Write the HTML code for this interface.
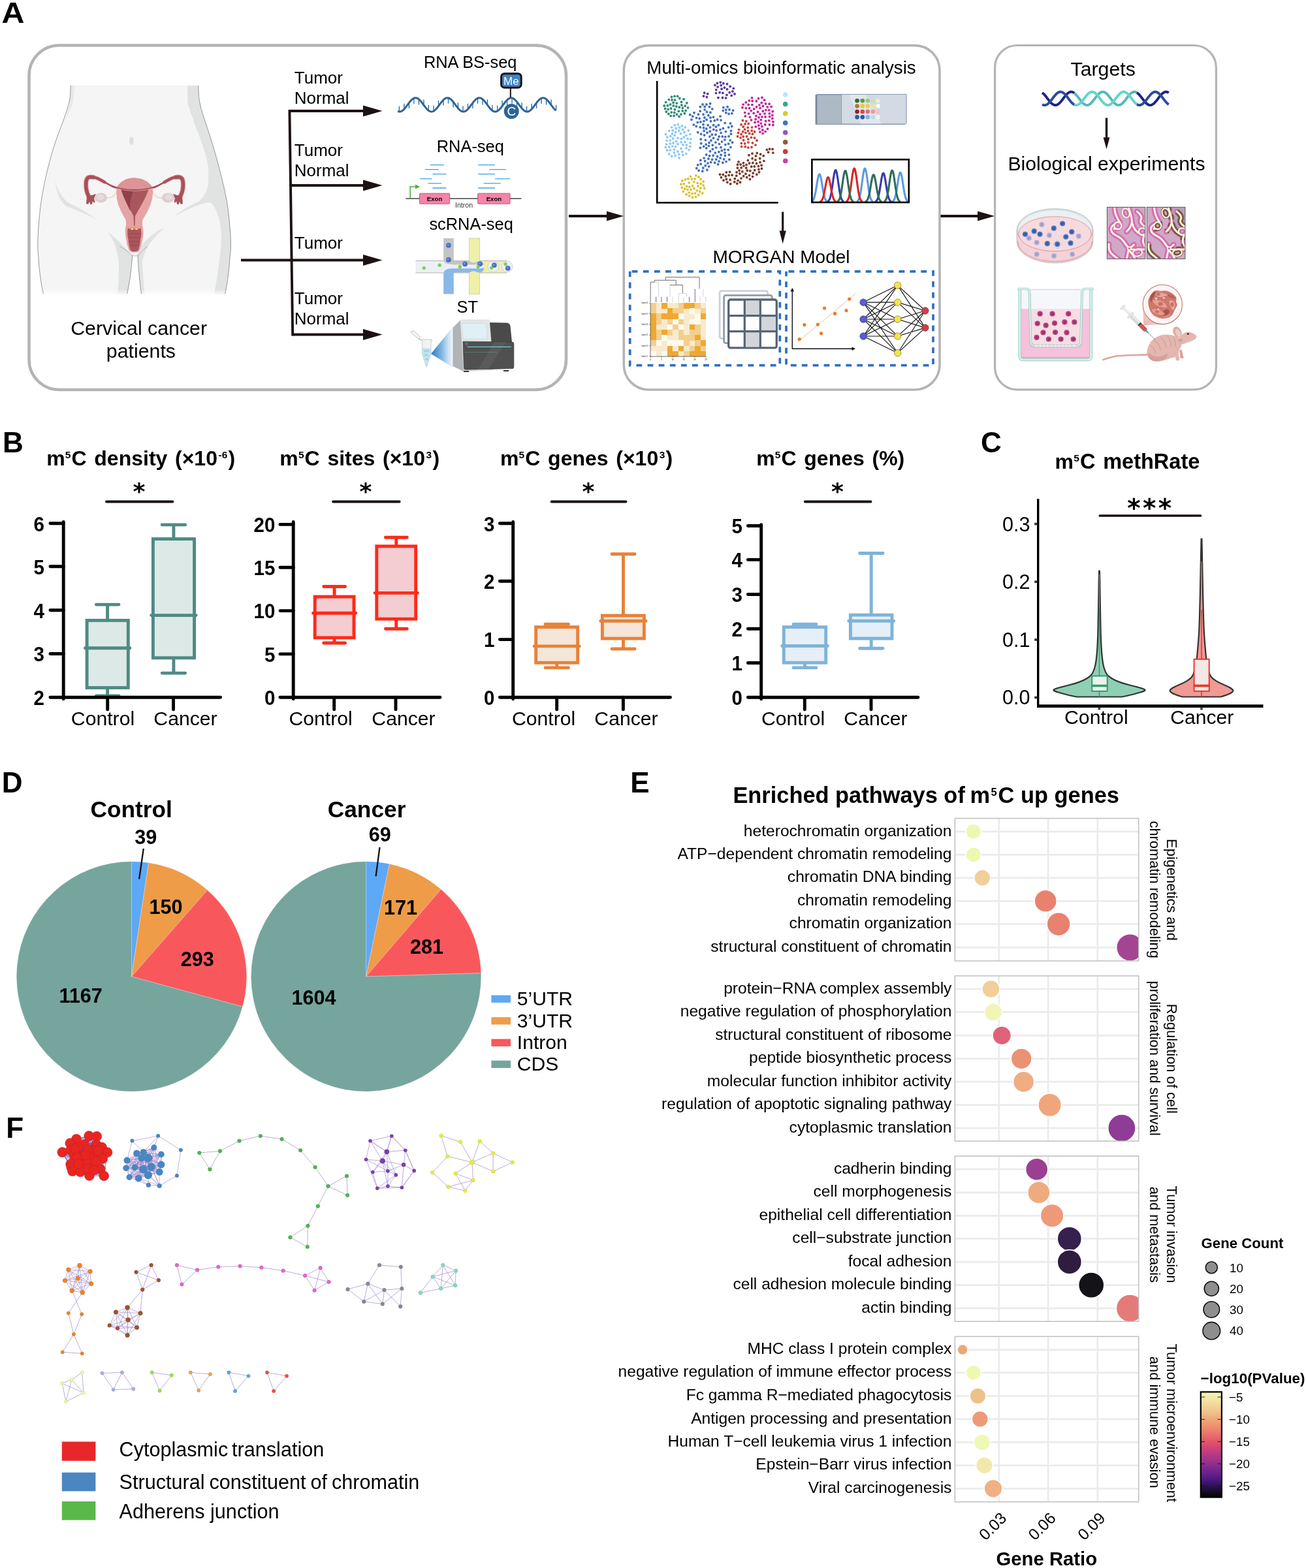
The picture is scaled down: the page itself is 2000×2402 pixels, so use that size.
<!DOCTYPE html>
<html lang="en">
<head>
<meta charset="utf-8">
<title>Figure</title>
<style>
html,body{margin:0;padding:0;background:#fff;}
body{width:2000px;height:2402px;overflow:hidden;}
svg{display:block;font-family:"Liberation Sans",sans-serif;}
text{fill:#000;}
.b{font-weight:bold;}
</style>
</head>
<body>
<svg width="2000" height="2402" viewBox="0 0 2000 2402">
<rect width="2000" height="2402" fill="#ffffff"/>
<!-- 01_panelA_frame.svg -->
<g id="panelA-frame">
<text transform="translate(2.4 35) scale(1.1 1)" class="b" font-size="44">A</text>
<rect x="44.5" y="69.5" width="822.5" height="527.5" rx="46" ry="46" fill="#fff" stroke="#b4b4b4" stroke-width="4.5"/>
<rect x="955.3" y="69.6" width="483.7" height="527.4" rx="38" ry="38" fill="#fff" stroke="#b4b4b4" stroke-width="3.6"/>
<rect x="1523.6" y="69.5" width="338.8" height="527.3" rx="34" ry="34" fill="#fff" stroke="#b4b4b4" stroke-width="3.2"/>
<g stroke="#1d1212" stroke-width="3.9" fill="none" stroke-linecap="butt">
<path d="M369 398.5H560"/>
<path d="M443 170H560"/>
<path d="M445 284H560"/>
<path d="M448 512.5H560"/>
<path d="M443.4 168.3L448.2 514.4"/>
<path d="M871 331H935"/>
<path d="M1440.5 331H1502"/>
</g>
<g fill="#1d1212">
<path d="M556 161.5L585.5 170L556 178.5Z"/>
<path d="M556 275.5L585.5 284L556 292.5Z"/>
<path d="M556 390L585.5 398.5L556 407Z"/>
<path d="M556 504L585.5 512.5L556 521Z"/>
<path d="M929 323.5L955 331L929 338.5Z"/>
<path d="M1497 323.5L1523 331L1497 338.5Z"/>
</g>
<g font-size="26">
<text x="450.8" y="127.5">Tumor</text>
<text x="450.8" y="158.5">Normal</text>
<text x="450.8" y="239">Tumor</text>
<text x="450.8" y="270.3">Normal</text>
<text x="450.8" y="380.5">Tumor</text>
<text x="450.8" y="465.5">Tumor</text>
<text x="450.8" y="497">Normal</text>
</g>
<g font-size="25.4">
<text x="720.2" y="104.2" text-anchor="middle">RNA BS-seq</text>
<text x="720.3" y="232.8" text-anchor="middle">RNA-seq</text>
<text x="721.6" y="352.3" text-anchor="middle">scRNA-seq</text>
<text x="715.8" y="479.3" text-anchor="middle">ST</text>
</g>
<text x="212.6" y="513" font-size="30.3" text-anchor="middle">Cervical cancer</text>
<text x="215.9" y="548" font-size="30.3" text-anchor="middle">patients</text>
<text x="1196.5" y="113" font-size="27.7" text-anchor="middle">Multi-omics bioinformatic analysis</text>
<text x="1196.5" y="402.5" font-size="28" text-anchor="middle">MORGAN Model</text>
<text x="1689.2" y="116" font-size="30.3" text-anchor="middle">Targets</text>
<text x="1694.5" y="261" font-size="30.2" text-anchor="middle">Biological experiments</text>
</g>

<!-- 02_body.svg -->
<g id="body">
<defs>
<linearGradient id="bodyFade" x1="0" y1="0" x2="0" y2="1">
<stop offset="0" stop-color="#fff" stop-opacity="0"/>
<stop offset="1" stop-color="#fff" stop-opacity="1"/>
</linearGradient>
<clipPath id="bodyClip">
<path d="M108.3 131C108 140 107.5 146 107 152C104 165 100 176 96.6 186C89 205 83 222 77.7 240.7C72 262 68 280 64.5 299C61 320 59 343 58 365C57.5 375 58 385 58.9 393.6C60 415 63 435 66.4 452L194.7 452C198 435 201 415 202 400C202.5 395 203 393 205 391.7L208.9 391.7C210.5 393 211 395 211.5 400C212.5 415 214 435 216.4 452L344.7 452C348 435 351 415 352 393.6C353.5 385 353.5 375 353.2 365C352 343 350 325 347.5 308.7C344 290 339 270 334.3 252C329 232 323 213 317.4 195.5C312 180 307 165 305 152C304.3 146 304 140 303.8 131Z"/>
</clipPath>
</defs>
<path d="M108.3 131C108 140 107.5 146 107 152C104 165 100 176 96.6 186C89 205 83 222 77.7 240.7C72 262 68 280 64.5 299C61 320 59 343 58 365C57.5 375 58 385 58.9 393.6C60 415 63 435 66.4 452L194.7 452C198 435 201 415 202 400C202.5 395 203 393 205 391.7L208.9 391.7C210.5 393 211 395 211.5 400C212.5 415 214 435 216.4 452L344.7 452C348 435 351 415 352 393.6C353.5 385 353.5 375 353.2 365C352 343 350 325 347.5 308.7C344 290 339 270 334.3 252C329 232 323 213 317.4 195.5C312 180 307 165 305 152C304.3 146 304 140 303.8 131Z" fill="#f5f5f5"/>
<g clip-path="url(#bodyClip)">
<!-- right side shading -->
<path d="M287 131L287 157C291 170 296 183 300 195.5C306 210 310 222 313.6 233C317 245 319 254 319 261.5C319.5 273 319 282 317 290C314 299 309 305 304 309C290 314 276 324 264.5 333.5C276 326 290 319 304 314C312 311 318 310 323 310.5C330 318 334 328 336 337C338 347 339 356 339 365C338.5 382 336 398 334 412.5C332 428 330 440 327.7 452L360 452L360 131Z" fill="#e1e3e3"/>
<!-- left hip crease -->
<path d="M84.3 276.6C88 292 95 302 102.3 308.7C118 317 136 326 148.5 337C136 329 118 322 101 316C91 308 86 293 84.3 276.6Z" fill="#e1e3e3"/>
<!-- left inner thigh shade -->
<path d="M165.4 355.4C170 359 176 364 181 369C187 375 194 382 201 389.500L203 392L196 452L179.600 452C181.500 436 182.500 418 181.700 400C180.500 388 176 374 170.800 364.100C169 361 167 358 165.400 355.400Z" fill="#e1e3e3"/>
<!-- right inner thigh shade -->
<path d="M252.300 348.900C240 353 229 362 221 371C216 377 213 383 210 389.500L211.500 400C213 420 214.500 436 216.400 452L222 452C220 436 218.500 418 218 402C219 392 223 383 229 374C235 365 243 356 252.300 348.900Z" fill="#e1e3e3"/>
<path d="M108.3 131L114 131C113.5 142 113 152 111 160C108 168 104 176 100 184C104 172 106 160 107 152Z" fill="#e8e9e9"/>
<rect x="50" y="443" width="310" height="10" fill="url(#bodyFade)"/>
</g>
<path d="M108.3 131C108 140 107.5 146 107 152C104 165 100 176 96.6 186C89 205 83 222 77.7 240.7C72 262 68 280 64.5 299C61 320 59 343 58 365C57.5 375 58 385 58.9 393.6C60 415 63 435 66.4 450" fill="none" stroke="#6f6f6f" stroke-width="0.7"/>
<path d="M303.8 131C304 140 304.3 146 305 152C307 165 312 180 317.4 195.5C323 213 329 232 334.3 252C339 270 344 290 347.5 308.7C350 325 352 343 353.2 365C353.5 375 353.5 385 352 393.6C351 415 348 435 344.7 450" fill="none" stroke="#6f6f6f" stroke-width="0.7"/>
<path d="M194.7 450C198 435 201 415 202 400C202.3 396 202.5 394 203 391.5M211 391.5C211.3 394 211.4 396 211.5 400C212.5 415 214 435 216.4 450" fill="none" stroke="#6f6f6f" stroke-width="0.7"/>
<path d="M183 377C190 381 196 385 201 390.5C204 392.5 210 392.5 213 390.5C217 385 221 381 226 377" fill="none" stroke="#8a8a8a" stroke-width="0.6"/>
<ellipse cx="201.3" cy="215.7" rx="3.4" ry="6.4" fill="#dedede"/>
<!-- uterus -->
<g>
<!-- ligaments -->
<path d="M164 303C170 304 176 300 179 293" fill="none" stroke="#ecd9c0" stroke-width="1.6"/>
<path d="M248 303C242 304 236 300 233 293" fill="none" stroke="#ecd9c0" stroke-width="1.6"/>
<!-- tubes -->
<path d="M143.0 271.5Q137.0 270.5 134.8 272.2Q132.5 274.0 132.0 277.5Q131.5 281.0 131.7 284.5Q131.8 288.0 132.7 292.0Q133.5 296.0 135.5 300.0L137.5 304.0" fill="none" stroke="#dc9396" stroke-width="7.2" stroke-linecap="round"/>
<path d="M160.0 279.0Q154.0 275.5 151.0 274.0Q148.0 272.5 145.5 272.0L143.0 271.5" fill="none" stroke="#dc9396" stroke-width="5.4" stroke-linecap="round"/>
<path d="M186.0 289.5Q176.0 287.5 172.0 285.5Q168.0 283.5 164.0 281.2L160.0 279.0" fill="none" stroke="#a8505a" stroke-width="2.6" stroke-linecap="round"/>
<path d="M160.0 279.0Q154.0 275.5 151.0 274.0Q148.0 272.5 145.5 272.0L143.0 271.5" fill="none" stroke="#a8505a" stroke-width="3.8" stroke-linecap="round"/>
<path d="M143.0 271.5Q137.0 270.5 134.8 272.2Q132.5 274.0 132.0 277.5Q131.5 281.0 131.7 284.5Q131.8 288.0 132.7 292.0Q133.5 296.0 135.5 300.0L137.5 304.0" fill="none" stroke="#a8505a" stroke-width="5.2" stroke-linecap="round"/>
<path d="M269.0 271.5Q275.0 270.5 277.2 272.2Q279.5 274.0 280.0 277.5Q280.5 281.0 280.4 284.5Q280.2 288.0 279.4 292.0Q278.5 296.0 276.5 300.0L274.5 304.0" fill="none" stroke="#dc9396" stroke-width="7.2" stroke-linecap="round"/>
<path d="M252.0 279.0Q258.0 275.5 261.0 274.0Q264.0 272.5 266.5 272.0L269.0 271.5" fill="none" stroke="#dc9396" stroke-width="5.4" stroke-linecap="round"/>
<path d="M226.0 289.5Q236.0 287.5 240.0 285.5Q244.0 283.5 248.0 281.2L252.0 279.0" fill="none" stroke="#a8505a" stroke-width="2.6" stroke-linecap="round"/>
<path d="M252.0 279.0Q258.0 275.5 261.0 274.0Q264.0 272.5 266.5 272.0L269.0 271.5" fill="none" stroke="#a8505a" stroke-width="3.8" stroke-linecap="round"/>
<path d="M269.0 271.5Q275.0 270.5 277.2 272.2Q279.5 274.0 280.0 277.5Q280.5 281.0 280.4 284.5Q280.2 288.0 279.4 292.0Q278.5 296.0 276.5 300.0L274.5 304.0" fill="none" stroke="#a8505a" stroke-width="5.2" stroke-linecap="round"/>
<!-- fimbriae -->
<path d="M133 300L132 312L135 313L137 309L138.5 313.500L141 312.500L142 308L144 311L145.5 309L144 304L147 297L141 299Z" fill="#a8505a"/>
<path d="M279 300L280 312L277 313L275 309L273.500 313.500L271 312.500L270 308L268 311L266.500 309L268 304L265 297L271 299Z" fill="#a8505a"/>
<!-- ovaries -->
<ellipse cx="154.500" cy="303" rx="9.6" ry="7.6" fill="#ddcdd1"/>
<ellipse cx="153.500" cy="302" rx="6" ry="4.500" fill="#e6dadd"/>
<ellipse cx="257.500" cy="303" rx="9.6" ry="7.6" fill="#ddcdd1"/>
<ellipse cx="258.500" cy="302" rx="6" ry="4.500" fill="#e6dadd"/>
<!-- uterus outer -->
<path d="M178.500 288C184 277 195 272.500 205 272.500C216 272.500 228 277 234 288C235 300 232 310 228.500 318C225 326 221 332 218.500 337C217.500 342 218 346 219 350C220 356 219.500 362 218 368C217 375 215 381 213 384.500C210 387.500 202 387.500 198.500 384.500C196 381 194.500 375 193.500 368C192 362 191.500 356 192 350C193 346 193.500 342 192.500 337C190 332 186 326 183 318C179.500 310 177.500 300 178.500 288Z" fill="#e5a3a3"/>
<path d="M178.500 288C184 277 195 272.500 205 272.500C216 272.500 228 277 234 288C216 292.500 196 292.500 178.500 288Z" fill="#dd9496"/>
<path d="M170 284C182 289.500 194 291 206 291C218 291 230 289.500 242 284" fill="none" stroke="#a8505a" stroke-width="1.8"/>
<!-- cavity -->
<path d="M185.500 290.500C198 293.500 214 293.500 227.500 290.500C223 304 214 318 207 331L206.500 346L205 346L204.500 331C198 318 190 304 185.500 290.500Z" fill="#a9565c"/>
<path d="M185.500 290.500C192 292.500 198 293 204 293C200 303 198 314 200 324C195 314 189 302 185.500 290.500Z" fill="#91404a"/>
<!-- vagina -->
<path d="M196 349C198 352 213 352 215.500 349C217 355 216.500 361 215 367C214.500 374 213 380 211.500 383.500C209 385.500 202.500 385.500 200 383.500C198.500 380 197 374 196.500 367C195 361 194.500 355 196 349Z" fill="#a9565c"/>
<path d="M197 358H215M197 364H214.500M197.500 370H214M198.500 376H213" stroke="#8f4048" stroke-width="0.7" fill="none"/>
<ellipse cx="202.300" cy="350.600" rx="2.600" ry="1.800" fill="#f4e6b0" stroke="#e0403a" stroke-width="0.8"/>
<ellipse cx="209" cy="350.600" rx="2.600" ry="1.800" fill="#f4e6b0" stroke="#e0403a" stroke-width="0.8"/>
</g>
</g>

<!-- 03_seqicons.svg -->
<g id="seq-icons">
<path d="M611.4 171.1V162.6M618.9 167.2V158.7M626.4 157.5V166.0M633.9 150.4V158.9M641.4 152.0V160.5M648.9 161.0V152.5M656.4 169.5V161.0M664.0 170.2V161.7M671.5 162.6V154.1M679.0 153.1V161.6M686.5 150.0V158.5M694.0 156.0V164.5M701.5 165.8V157.3M709.0 171.1V162.6M716.5 167.2V158.7M724.0 157.5V166.0M731.5 150.4V158.9M739.0 152.0V160.5M746.5 161.0V152.5M754.0 169.5V161.0M761.6 170.2V161.7M769.1 162.6V154.1M776.6 153.1V161.6M784.1 150.0V158.5M791.6 156.0V164.5M799.1 165.8V157.3M806.6 171.1V162.6M814.1 167.2V158.7M821.6 157.5V166.0M829.1 150.4V158.9M836.6 152.0V160.5M844.1 161.0V152.5M851.6 169.5V161.0" fill="none" stroke="#2b6597" stroke-width="1.3"/>
<path d="M609.2 170.4 L610.2 170.8 L611.2 171.0 L612.2 171.1 L613.2 171.0 L614.2 170.7 L615.2 170.2 L616.2 169.6 L617.2 168.8 L618.2 167.9 L619.2 166.9 L620.2 165.7 L621.2 164.5 L622.2 163.2 L623.2 161.9 L624.2 160.5 L625.2 159.1 L626.2 157.8 L627.2 156.5 L628.2 155.3 L629.2 154.1 L630.2 153.1 L631.2 152.2 L632.2 151.4 L633.2 150.8 L634.2 150.3 L635.2 150.0 L636.2 149.9 L637.2 150.0 L638.2 150.2 L639.2 150.6 L640.2 151.1 L641.2 151.9 L642.2 152.7 L643.2 153.7 L644.2 154.8 L645.2 156.0 L646.2 157.3 L647.2 158.6 L648.2 160.0 L649.2 161.3 L650.2 162.7 L651.2 164.0 L652.2 165.2 L653.2 166.4 L654.2 167.5 L655.2 168.5 L656.2 169.3 L657.2 170.0 L658.2 170.5 L659.2 170.9 L660.2 171.1 L661.2 171.1 L662.2 170.9 L663.2 170.6 L664.2 170.1 L665.2 169.4 L666.2 168.6 L667.2 167.7 L668.2 166.6 L669.2 165.5 L670.2 164.2 L671.2 162.9 L672.2 161.6 L673.2 160.2 L674.2 158.9 L675.2 157.5 L676.2 156.3 L677.2 155.0 L678.2 153.9 L679.2 152.9 L680.2 152.0 L681.2 151.3 L682.2 150.7 L683.2 150.2 L684.2 150.0 L685.2 149.9 L686.2 150.0 L687.2 150.2 L688.2 150.7 L689.2 151.3 L690.2 152.0 L691.2 152.9 L692.2 153.9 L693.2 155.0 L694.2 156.3 L695.2 157.5 L696.2 158.9 L697.2 160.2 L698.2 161.6 L699.2 162.9 L700.2 164.2 L701.2 165.5 L702.2 166.6 L703.2 167.7 L704.2 168.6 L705.2 169.4 L706.2 170.1 L707.2 170.6 L708.2 170.9 L709.2 171.1 L710.2 171.1 L711.2 170.9 L712.2 170.5 L713.2 170.0 L714.2 169.3 L715.2 168.5 L716.2 167.5 L717.2 166.4 L718.2 165.2 L719.2 164.0 L720.2 162.7 L721.2 161.3 L722.2 160.0 L723.2 158.6 L724.2 157.3 L725.2 156.0 L726.2 154.8 L727.2 153.7 L728.2 152.7 L729.2 151.9 L730.2 151.1 L731.2 150.6 L732.2 150.2 L733.2 150.0 L734.2 149.9 L735.2 150.0 L736.2 150.3 L737.2 150.8 L738.2 151.4 L739.2 152.2 L740.2 153.1 L741.2 154.1 L742.2 155.3 L743.2 156.5 L744.2 157.8 L745.2 159.1 L746.2 160.5 L747.2 161.9 L748.2 163.2 L749.2 164.5 L750.2 165.7 L751.2 166.9 L752.2 167.9 L753.2 168.8 L754.2 169.6 L755.2 170.2 L756.2 170.7 L757.2 171.0 L758.2 171.1 L759.2 171.0 L760.2 170.8 L761.2 170.4 L762.2 169.9 L763.2 169.1 L764.2 168.3 L765.2 167.3 L766.2 166.2 L767.2 165.0 L768.2 163.7 L769.2 162.4 L770.2 161.0 L771.2 159.7 L772.2 158.3 L773.2 157.0 L774.2 155.8 L775.2 154.6 L776.2 153.5 L777.2 152.5 L778.2 151.7 L779.2 151.0 L780.2 150.5 L781.2 150.1 L782.2 149.9 L783.2 149.9 L784.2 150.1 L785.2 150.4 L786.2 150.9 L787.2 151.6 L788.2 152.4 L789.2 153.3 L790.2 154.4 L791.2 155.5 L792.2 156.8 L793.2 158.1 L794.2 159.4 L795.2 160.8 L796.2 162.1 L797.2 163.5 L798.2 164.7 L799.2 166.0 L800.2 167.1 L801.2 168.1 L802.2 169.0 L803.2 169.7 L804.2 170.3 L805.2 170.8 L806.2 171.0 L807.2 171.1 L808.2 171.0 L809.2 170.8 L810.2 170.3 L811.2 169.7 L812.2 169.0 L813.2 168.1 L814.2 167.1 L815.2 166.0 L816.2 164.7 L817.2 163.5 L818.2 162.1 L819.2 160.8 L820.2 159.4 L821.2 158.1 L822.2 156.8 L823.2 155.5 L824.2 154.4 L825.2 153.3 L826.2 152.4 L827.2 151.6 L828.2 150.9 L829.2 150.4 L830.2 150.1 L831.2 149.9 L832.2 149.9 L833.2 150.1 L834.2 150.5 L835.2 151.0 L836.2 151.7 L837.2 152.5 L838.2 153.5 L839.2 154.6 L840.2 155.8 L841.2 157.0 L842.2 158.3 L843.2 159.7 L844.2 161.0 L845.2 162.4 L846.2 163.7 L847.2 165.0 L848.2 166.2 L849.2 167.3 L850.2 168.3 L851.2 169.1" fill="none" stroke="#2b6597" stroke-width="3" stroke-linejoin="round"/>
<path d="M781.8 135V149" stroke="#1d1212" stroke-width="2"/>
<rect x="767.6" y="112.7" width="30.6" height="21.5" rx="5" fill="#3f86c4" stroke="#1d1212" stroke-width="3"/>
<text x="782.9" y="129.6" font-size="17" text-anchor="middle" style="fill:#fff">Me</text>
<circle cx="783.2" cy="170.5" r="11.5" fill="#2b6597"/>
<text x="783.4" y="177.2" font-size="19" text-anchor="middle" style="fill:#fff">C</text>
<path d="M658.7 252.6H679.9M650.9 259.7H671.9M662.3 266.7H683.3M643.1 273.8H661.6M655.5 280.9H676.1M662.3 288.0H683.3M732.1 252.6H757.9M749.3 259.7H775.1M732.1 266.7H757.9M758.1 273.8H781.1M740.6 280.9H766.7M732.1 288.0H757.9" stroke="#3aa3e3" stroke-width="1.3" fill="none"/>
<path d="M621.4 304.2H798.5" stroke="#444" stroke-width="1.6"/>
<path d="M628.2 304.2V286H637" stroke="#4db03c" stroke-width="1.6" fill="none"/>
<path d="M636 282.5L643 286L636 289.5Z" fill="#4db03c"/>
<rect x="642.5" y="296.2" width="46.2" height="16" rx="1" fill="#f484a9" stroke="#c4477d" stroke-width="0.9"/>
<text x="665.6" y="308" font-size="9.6" class="b" text-anchor="middle">Exon</text>
<rect x="731.7" y="296.2" width="49.4" height="16" rx="1" fill="#f484a9" stroke="#c4477d" stroke-width="0.9"/>
<text x="756.4" y="308" font-size="9.6" class="b" text-anchor="middle">Exon</text>
<text x="710.5" y="318" font-size="10.6" text-anchor="middle" style="fill:#333">Intron</text>
<g>
<rect x="718.3" y="365" width="16.2" height="85.6" fill="#eef0a8" stroke="#c0c0b0" stroke-width="0.7"/>
<rect x="636.5" y="399.5" width="140" height="18.5" fill="#eceff5"/>
<path d="M734.5 399.500H776V418H734.500Q741 414 741.400 408.500Q741 403 734.500 399.500Z" fill="#eef0a8"/>
<path d="M718.3 399.600Q722 402.300 725 402.300Q729 402.300 731 400L734.500 399.600ZM718.3 417.900Q722 415.300 725 415.300Q729 415.300 731 417.500L734.500 417.900Z" fill="#eef0a8"/>
<path d="M679.2 365H694.8V398.5Q694.8 400 696.3 400H719Q722 402.300 725 402.300Q729 402.300 731 400H736Q741 402 741.5 406L735 405.500H700Q680 405.500 679.2 399Z" fill="#c4c4c4"/>
<path d="M679.2 450.6H694.8V419Q694.8 417.500 696.3 417.500H719Q722 415.300 725 415.300Q729 415.300 731 417.500H736Q741 415.500 741.5 410.500L735 411.300H692Q680 411.800 679.2 418Z" fill="#8ab8e8"/>
<path d="M636.5 399.5H679.2M694.8 399.500H718.3M734.500 399.500H776M636.5 418H679.2M694.800 418H718.3M734.500 418H776" stroke="#b5b5b5" stroke-width="1" fill="none"/>
<circle cx="755.3" cy="408.4" r="8.4" fill="#eef0f6" stroke="#c8c9d2" stroke-width="0.8"/>
<circle cx="776.6" cy="408.4" r="8.4" fill="#eef0f6" stroke="#c8c9d2" stroke-width="0.8"/>
<circle cx="686.9" cy="375.8" r="3.9" fill="#4d71c2"/>
<circle cx="686.1" cy="375.0" r="1.6" fill="#6f8fd6"/>
<circle cx="686.9" cy="397.9" r="3.9" fill="#4d71c2"/>
<circle cx="686.1" cy="397.1" r="1.6" fill="#6f8fd6"/>
<circle cx="712.1" cy="404.4" r="3.9" fill="#4d71c2"/>
<circle cx="711.3" cy="403.6" r="1.6" fill="#6f8fd6"/>
<circle cx="735.1" cy="404.3" r="3.9" fill="#4d71c2"/>
<circle cx="734.3" cy="403.5" r="1.6" fill="#6f8fd6"/>
<circle cx="756.9" cy="406.2" r="3.9" fill="#4d71c2"/>
<circle cx="756.1" cy="405.4" r="1.6" fill="#6f8fd6"/>
<circle cx="777.7" cy="410.8" r="3.9" fill="#4d71c2"/>
<circle cx="776.9" cy="410.0" r="1.6" fill="#6f8fd6"/>
<circle cx="649.3" cy="410.6" r="2.6" fill="#7ed04c"/>
<circle cx="673.2" cy="406.2" r="2.6" fill="#7ed04c"/>
<circle cx="704.4" cy="408.7" r="2.6" fill="#7ed04c"/>
<circle cx="732.2" cy="408.7" r="2.6" fill="#7ed04c"/>
<circle cx="752.8" cy="410.3" r="2.6" fill="#7ed04c"/>
<circle cx="774.1" cy="404.6" r="2.6" fill="#7ed04c"/>
</g>
<g>
<defs><linearGradient id="beam" x1="0" y1="0" x2="1" y2="0"><stop offset="0" stop-color="#2b78c6"/><stop offset="0.55" stop-color="#8fbfe6"/><stop offset="1" stop-color="#e8f2fa" stop-opacity="0.6"/></linearGradient></defs>
<path d="M660 542L694 500V563Z" fill="url(#beam)"/>
<path d="M628.5 508.500L633 506.500L643.500 516L641.500 519.500Z" fill="#f4f4f4" stroke="#a8a8a8" stroke-width="0.7"/>
<path d="M641 519L645.5 521" stroke="#888" stroke-width="0.8"/>
<path d="M645.4 520H661.2V522H660V542L653.600 561.500H652.800L646.600 542V522H645.4Z" fill="#f0f2f3" stroke="#b5b8ba" stroke-width="0.7"/>
<path d="M647 533.500H659.600V542L653.400 560.500H653L647 542Z" fill="#bfe4f0"/>
<path d="M649 537l3 2l2-3l3 3M650 545l3-2l3 3M651.500 551l2-2l1.500 3" stroke="#4a9a86" stroke-width="0.6" fill="none"/>
<path d="M693.5 502L704.9 490.6L710 568.900L693.500 560.900Z" fill="#b1b4b6"/>
<path d="M704.9 490.6Q705.500 490 707 490L748 490Q749.300 490 749.400 491.500L752 523.500H707.200L710.500 569L740 567.500L755 567L752 523.500L707.500 523.500Z" fill="#e3e5e7" stroke="#c9cbcd" stroke-width="0.6"/>
<path d="M704.9 490.6L749.3 490.6L752 524L708 524Z" fill="#e3e5e7"/>
<path d="M707.400 495.500H744.400L746.600 519.200H709.500Z" fill="#dff1f5" stroke="#cfd4d6" stroke-width="0.6"/>
<path d="M750 494L776 494.500Q781 495 781.600 500L784 524H752.500Z" fill="#4a4a4a"/>
<path d="M709 523.200L784.500 524Q786.800 524.200 786.800 526.500V562Q786.800 564.500 784 564.600L713 566.200Q710.800 566.200 710.600 564Z" fill="#505050" stroke="#3a3a3a" stroke-width="0.8"/>
<path d="M757 524L775 524L748 565.500L732 565.800Z" fill="#5a5a5a"/>
<path d="M715.800 531.400H782.900" stroke="#5fd0c8" stroke-width="1.3"/>
<path d="M711.800 539.400H762" stroke="#5fd0c8" stroke-width="0.7" opacity="0.5"/>
<circle cx="714.500" cy="526.800" r="1.500" fill="none" stroke="#5fd0c8" stroke-width="0.5"/>
<path d="M710 569H718M771 568H779" stroke="#333" stroke-width="2"/>
</g>
</g>
<!-- 04_middle.svg -->
<g id="middle-box">
<path d="M1006.2 124V310.5H1191.7" fill="none" stroke="#000" stroke-width="2.6"/>
<path d="M1022.2 161.7h0M1045.3 170.0h0M1043.9 161.0h0M1051.8 157.8h0M1028.2 172.1h0M1024.3 152.6h0M1040.0 178.5h0M1047.1 152.0h0M1040.8 150.8h0M1045.4 165.4h0M1023.9 174.5h0M1033.4 167.8h0M1039.3 170.4h0M1027.5 166.2h0M1036.3 158.1h0M1035.8 163.0h0M1018.6 166.4h0M1033.6 153.2h0M1032.0 177.4h0M1053.5 165.1h0M1019.7 156.6h0M1048.4 173.8h0M1031.3 161.9h0M1043.0 175.1h0M1033.1 147.4h0M1043.5 156.3h0M1040.3 164.2h0M1049.2 162.3h0M1023.1 167.6h0M1029.0 153.0h0M1026.5 160.0h0M1050.1 169.4h0M1036.5 175.3h0M1017.2 162.0h0M1028.5 148.5h0M1032.7 172.5h0M1031.1 157.3h0M1027.2 177.6h0M1037.7 147.4h0M1020.3 171.2h0" stroke="#2e8b74" stroke-width="3.9" stroke-linecap="round" fill="none"/>
<path d="M1102.1 141.8h0M1125.0 144.0h0M1109.5 134.2h0M1118.1 132.5h0M1113.0 145.4h0M1104.2 130.8h0M1099.1 133.1h0M1113.6 136.7h0M1121.9 139.9h0M1105.1 136.2h0M1106.5 149.7h0M1107.8 127.8h0M1098.4 127.4h0M1096.5 142.6h0M1099.9 149.7h0M1120.2 146.4h0M1106.9 142.4h0M1113.5 128.8h0M1096.7 137.6h0M1111.6 150.1h0M1117.2 141.8h0M1103.2 126.1h0M1123.3 135.4h0M1094.9 130.5h0M1077.5 147.3h0M1083.7 143.8h0M1078.7 142.2h0M1082.4 148.7h0" stroke="#5b3a9e" stroke-width="3.9" stroke-linecap="round" fill="none"/>
<path d="M1147.4 154.3h0M1168.4 162.5h0M1166.3 157.5h0M1183.9 186.8h0M1152.1 154.8h0M1158.3 155.0h0M1150.3 169.6h0M1178.4 191.0h0M1175.5 197.5h0M1142.4 165.6h0M1151.9 160.6h0M1146.2 160.4h0M1172.8 168.6h0M1140.8 172.6h0M1158.6 163.7h0M1148.5 179.4h0M1160.5 171.4h0M1172.1 179.0h0M1182.8 181.5h0M1157.2 182.8h0M1165.4 189.1h0M1167.9 199.2h0M1177.8 184.8h0M1154.2 173.5h0M1164.0 165.5h0M1172.6 185.5h0M1170.7 153.3h0M1166.9 179.1h0M1138.1 160.1h0M1178.6 178.8h0M1150.5 183.9h0M1151.5 149.9h0M1183.3 170.8h0M1161.5 151.0h0M1154.7 166.9h0M1156.1 187.5h0M1141.3 178.0h0M1178.1 159.2h0M1165.4 183.6h0M1175.3 163.9h0M1161.8 192.3h0M1166.9 193.7h0M1162.7 197.1h0M1158.0 177.5h0M1163.9 174.9h0M1177.7 168.7h0M1146.6 174.1h0M1137.0 164.8h0M1178.3 173.9h0M1181.1 163.4h0M1171.7 191.0h0M1171.1 174.1h0M1163.9 202.1h0M1172.5 159.0h0M1161.1 186.5h0M1157.3 194.1h0M1168.3 170.2h0M1167.0 149.5h0M1142.3 156.9h0M1162.1 179.9h0M1172.1 201.6h0M1162.8 160.9h0M1182.8 176.6h0M1183.9 191.5h0M1147.6 165.8h0M1168.1 204.4h0" stroke="#c1259b" stroke-width="3.9" stroke-linecap="round" fill="none"/>
<path d="M1020.7 221.1h0M1034.0 238.4h0M1043.2 217.9h0M1056.9 205.6h0M1053.1 212.7h0M1051.4 222.2h0M1026.8 208.8h0M1035.3 196.7h0M1056.9 224.5h0M1039.6 200.2h0M1030.7 212.2h0M1032.6 229.1h0M1026.3 230.0h0M1047.3 210.3h0M1038.0 220.8h0M1044.7 232.5h0M1024.7 200.6h0M1050.6 235.5h0M1051.0 207.6h0M1042.3 204.8h0M1038.2 190.8h0M1035.6 216.6h0M1049.2 195.0h0M1030.2 200.0h0M1024.7 235.9h0M1021.9 210.2h0M1039.6 236.5h0M1045.6 198.4h0M1028.7 195.1h0M1032.5 234.0h0M1047.9 202.5h0M1038.2 211.5h0M1057.0 219.0h0M1040.6 195.5h0M1026.2 215.1h0M1030.9 219.0h0M1055.2 229.6h0M1021.1 215.6h0M1054.2 200.0h0M1037.9 232.0h0M1029.8 224.1h0M1033.4 207.4h0M1019.3 225.6h0M1040.1 242.1h0M1028.7 239.3h0M1043.0 227.4h0M1049.1 217.5h0M1045.8 237.4h0M1051.0 226.9h0M1057.8 213.1h0M1034.6 224.6h0M1045.9 221.9h0M1024.7 225.2h0M1033.2 191.8h0M1043.4 212.8h0M1019.5 205.7h0M1034.7 202.5h0M1044.4 193.0h0M1026.4 220.1h0M1021.6 230.2h0M1029.5 205.0h0" stroke="#8ec9f3" stroke-width="3.9" stroke-linecap="round" fill="none"/>
<path d="M1098.7 183.3h0M1100.8 232.7h0M1080.3 253.8h0M1104.2 203.6h0M1077.0 190.7h0M1094.3 184.8h0M1107.4 196.8h0M1105.6 217.1h0M1078.1 242.1h0M1082.4 171.5h0M1110.4 238.4h0M1119.4 200.5h0M1111.4 201.6h0M1101.2 209.2h0M1072.4 226.5h0M1118.2 214.9h0M1096.6 226.1h0M1116.3 237.1h0M1115.6 220.2h0M1069.5 175.3h0M1099.6 251.8h0M1099.5 213.5h0M1104.0 184.1h0M1087.5 231.7h0M1103.0 242.2h0M1115.1 229.6h0M1120.7 193.5h0M1066.5 180.6h0M1078.9 180.2h0M1087.5 195.1h0M1101.0 247.1h0M1092.5 211.6h0M1073.2 251.2h0M1056.7 175.7h0M1110.0 214.1h0M1077.9 185.6h0M1078.6 207.0h0M1084.1 191.7h0M1085.5 223.6h0M1110.2 233.9h0M1116.9 244.4h0M1084.9 243.3h0M1100.4 191.7h0M1090.4 206.2h0M1068.3 187.5h0M1095.3 234.2h0M1088.0 180.3h0M1083.0 203.3h0M1072.7 245.5h0M1071.2 181.5h0M1088.5 185.8h0M1082.0 160.0h0M1078.1 200.5h0M1092.6 191.7h0M1092.1 238.2h0M1080.4 214.6h0M1115.7 195.1h0M1092.8 198.5h0M1086.0 218.7h0M1103.0 198.6h0M1103.0 178.1h0M1083.9 250.1h0M1095.9 206.2h0M1086.4 163.8h0M1079.2 168.1h0M1118.5 189.0h0M1104.0 225.8h0M1066.2 193.5h0M1072.9 186.8h0M1066.8 257.7h0M1088.6 248.6h0M1110.3 188.4h0M1087.9 172.3h0M1089.0 215.2h0M1059.0 183.2h0M1081.7 197.3h0M1098.6 239.8h0M1076.8 257.2h0M1077.7 224.4h0M1072.2 170.2h0M1073.6 205.4h0M1110.9 221.6h0M1075.9 262.3h0M1090.7 166.9h0M1116.0 208.9h0M1073.3 213.3h0M1077.1 175.2h0M1091.3 222.4h0M1094.7 249.2h0M1112.0 247.6h0M1106.3 209.3h0M1086.8 209.1h0M1091.3 228.5h0M1072.4 163.7h0M1082.9 260.3h0M1101.4 220.6h0M1072.2 194.9h0M1082.1 183.4h0M1118.9 225.6h0M1062.3 191.1h0M1081.7 237.0h0M1109.7 229.1h0M1106.9 249.2h0M1068.7 202.7h0M1095.9 218.1h0M1076.0 160.0h0M1110.8 209.6h0M1081.2 221.3h0M1097.2 199.9h0M1063.0 172.7h0M1073.7 219.7h0M1090.6 244.5h0M1121.5 218.3h0M1079.2 163.5h0M1084.8 176.7h0M1105.4 230.8h0M1104.1 237.2h0M1085.6 255.1h0M1087.6 158.7h0M1086.6 238.7h0M1079.6 246.8h0M1108.5 244.0h0M1060.8 178.2h0M1068.7 252.8h0M1087.4 201.2h0M1070.1 261.2h0M1119.4 205.3h0M1092.5 179.4h0M1096.7 244.2h0M1081.8 227.0h0M1096.4 194.3h0M1077.5 195.7h0M1116.1 174.5h0M1117.0 168.0h0M1107.8 164.7h0M1122.6 169.3h0M1111.8 172.8h0M1107.3 169.6h0M1114.1 163.7h0M1120.9 173.8h0M1111.8 168.2h0" stroke="#4470b9" stroke-width="3.9" stroke-linecap="round" fill="none"/>
<path d="M1150.4 210.6h0M1147.7 204.5h0M1138.2 209.2h0M1134.1 211.1h0M1140.7 220.0h0M1137.4 184.5h0M1138.2 194.2h0M1145.8 226.1h0M1138.6 214.7h0M1140.5 198.2h0M1151.2 200.2h0M1145.9 218.1h0M1152.5 218.9h0M1135.1 205.8h0M1141.0 189.9h0M1145.3 195.4h0M1146.2 189.4h0M1137.5 201.8h0M1157.0 222.1h0M1141.8 203.4h0M1143.5 209.0h0M1155.5 211.3h0M1131.7 198.6h0M1135.1 190.9h0M1135.6 224.6h0M1159.0 215.2h0M1151.0 225.5h0M1152.5 205.3h0M1145.8 213.3h0M1135.4 219.6h0M1129.6 209.0h0M1141.3 224.7h0M1151.5 195.1h0M1155.6 201.7h0M1130.5 203.5h0M1145.5 200.5h0M1142.8 185.7h0" stroke="#c5423d" stroke-width="3.9" stroke-linecap="round" fill="none"/>
<path d="M1141.9 266.3h0M1135.2 256.9h0M1125.3 273.8h0M1161.9 259.4h0M1135.0 273.1h0M1157.5 239.0h0M1156.9 245.0h0M1152.8 249.5h0M1143.7 271.8h0M1117.6 263.4h0M1162.5 263.8h0M1152.0 235.3h0M1152.6 270.6h0M1155.7 260.8h0M1132.8 266.0h0M1148.8 261.8h0M1121.1 268.2h0M1132.1 261.3h0M1169.9 246.6h0M1143.0 252.4h0M1113.9 279.2h0M1134.1 252.0h0M1166.1 253.2h0M1107.3 267.5h0M1111.2 270.0h0M1118.2 275.5h0M1147.0 237.7h0M1150.7 255.2h0M1145.4 245.6h0M1127.8 269.3h0M1164.6 236.2h0M1138.7 269.8h0M1153.2 265.3h0M1104.4 271.8h0M1158.5 250.5h0M1124.8 278.8h0M1118.7 281.7h0M1130.1 276.6h0M1129.5 252.3h0M1163.7 242.8h0M1133.5 279.3h0M1152.1 242.7h0M1155.3 255.0h0M1148.5 274.6h0M1142.7 257.2h0M1136.8 262.9h0M1116.1 268.4h0M1169.2 238.7h0M1112.3 264.0h0M1158.9 267.3h0M1102.5 267.3h0M1164.0 248.6h0M1108.0 276.3h0M1147.5 268.6h0M1128.1 263.9h0M1159.3 234.5h0M1129.4 257.2h0M1161.4 254.6h0M1138.4 249.6h0M1147.5 250.0h0M1128.8 281.2h0M1144.3 261.3h0M1131.1 247.9h0M1166.5 258.2h0M1138.9 254.1h0M1112.4 274.5h0M1183.8 234.1h0M1174.4 229.4h0M1176.6 233.3h0M1183.1 228.5h0M1178.6 228.3h0" stroke="#7a3c29" stroke-width="3.9" stroke-linecap="round" fill="none"/>
<path d="M1044.9 277.0h0M1073.0 288.5h0M1057.5 270.4h0M1073.1 274.8h0M1047.4 281.7h0M1060.3 302.5h0M1057.9 290.6h0M1049.5 275.0h0M1056.0 286.4h0M1064.2 273.9h0M1068.1 280.4h0M1046.3 293.4h0M1052.9 290.4h0M1051.3 297.7h0M1075.7 296.0h0M1051.6 285.5h0M1069.5 298.8h0M1065.9 268.9h0M1062.9 278.8h0M1077.0 283.9h0M1073.1 281.5h0M1055.2 279.9h0M1059.9 296.6h0M1067.3 291.9h0M1044.3 287.5h0M1064.5 296.1h0M1060.7 284.8h0M1078.7 288.2h0M1069.0 285.2h0M1059.5 274.5h0M1077.1 278.2h0M1065.4 301.6h0M1063.0 288.8h0M1053.9 273.9h0M1055.6 300.0h0M1042.8 282.3h0M1070.0 271.3h0M1055.3 295.1h0M1048.6 289.2h0M1071.7 293.5h0" stroke="#dcc12d" stroke-width="3.9" stroke-linecap="round" fill="none"/>
<circle cx="1202.7" cy="145.1" r="3.8" fill="#bfe3f7"/>
<circle cx="1202.7" cy="159.5" r="3.8" fill="#3da58a"/>
<circle cx="1202.7" cy="173.9" r="3.8" fill="#e0c92c"/>
<circle cx="1202.7" cy="188.3" r="3.8" fill="#3f72c0"/>
<circle cx="1202.7" cy="203.0" r="3.8" fill="#8a5cb8"/>
<circle cx="1202.7" cy="217.7" r="3.8" fill="#8f5a44"/>
<circle cx="1202.7" cy="232.2" r="3.8" fill="#cc3a2e"/>
<circle cx="1202.7" cy="246.5" r="3.8" fill="#c93fae"/>
<g>
<path d="M1249 146L1251 144H1388L1388.6 145V189L1386 191H1249Z" fill="#8399b3"/>
<rect x="1251" y="145" width="136.500" height="44.500" fill="#d3dae3"/>
<path d="M1300 145H1325L1350 189.500H1318Z" fill="#e2e6ec"/>
<rect x="1249" y="145.500" width="39.700" height="44.800" fill="#aeb9c6" stroke="#8794a4" stroke-width="0.8"/>
<path d="M1249 146L1251.500 144.500V190L1249 190.700Z" fill="#7a8898"/>
<circle cx="1312.6" cy="154.2" r="3.3" fill="#356b2a"/>
<circle cx="1320.8" cy="154.2" r="3.3" fill="#5b994b"/>
<circle cx="1328.8" cy="154.2" r="3.3" fill="#8ecf73"/>
<circle cx="1336.7" cy="154.2" r="3.3" fill="#c3e2bb"/>
<circle cx="1344.5" cy="154.2" r="3.3" fill="#e2f0d9"/>
<circle cx="1312.6" cy="162.5" r="3.3" fill="#b3772e"/>
<circle cx="1320.8" cy="162.5" r="3.3" fill="#e6cf2e"/>
<circle cx="1328.8" cy="162.5" r="3.3" fill="#ebca6a"/>
<circle cx="1336.7" cy="162.5" r="3.3" fill="#eee58a"/>
<circle cx="1344.5" cy="162.5" r="3.3" fill="#fdfdf2"/>
<circle cx="1312.6" cy="171.0" r="3.3" fill="#98202a"/>
<circle cx="1320.8" cy="171.0" r="3.3" fill="#cc4a55"/>
<circle cx="1328.8" cy="171.0" r="3.3" fill="#e06f7d"/>
<circle cx="1336.7" cy="171.0" r="3.3" fill="#ec9aa2"/>
<circle cx="1344.5" cy="171.0" r="3.3" fill="#f2c4c6"/>
<circle cx="1312.6" cy="179.4" r="3.3" fill="#2a5e9a"/>
<circle cx="1320.8" cy="179.4" r="3.3" fill="#2a5e9a"/>
<circle cx="1328.8" cy="179.4" r="3.3" fill="#96aede"/>
<circle cx="1336.7" cy="179.4" r="3.3" fill="#b2dff5"/>
<circle cx="1344.5" cy="179.4" r="3.3" fill="#eef3fa"/>
</g>
<g>
<clipPath id="chromClip"><rect x="1243.3" y="245" width="148.600" height="64.5"/></clipPath>
<g clip-path="url(#chromClip)" fill="none" stroke-width="3.1" stroke-linejoin="round" stroke-linecap="round">
<path d="M1243.4 308.5 L1243.9 308.2 L1244.4 307.8 L1244.8 307.2 L1245.3 306.5 L1245.8 305.6 L1246.3 304.5 L1246.8 303.2 L1247.2 301.6 L1247.7 299.9 L1248.2 297.8 L1248.7 295.5 L1249.2 293.0 L1249.6 290.3 L1250.1 287.5 L1250.6 284.5 L1251.1 281.6 L1251.5 278.7 L1252.0 275.9 L1252.5 273.4 L1253.0 271.2 L1253.5 269.4 L1253.9 268.0 L1254.4 267.2 L1254.9 266.9 L1255.4 267.2 L1255.9 268.0 L1256.3 269.4 L1256.8 271.2 L1257.3 273.4 L1257.8 275.9 L1258.3 278.7 L1258.7 281.6 L1259.2 284.5 L1259.7 287.5 L1260.2 290.3 L1260.7 293.0 L1261.1 295.5 L1261.6 297.8 L1262.1 299.9 L1262.6 301.6 L1263.0 303.2 L1263.5 304.5 L1264.0 305.6 L1264.5 306.5 L1265.0 307.2 L1265.4 307.8 L1265.9 308.2 L1266.4 308.5" stroke="#5b9be0"/>
<path d="M1313.0 308.4 L1313.5 307.9 L1314.0 307.4 L1314.4 306.7 L1314.9 305.8 L1315.4 304.8 L1315.9 303.4 L1316.4 301.9 L1316.8 300.0 L1317.3 297.9 L1317.8 295.4 L1318.3 292.7 L1318.8 289.6 L1319.2 286.4 L1319.7 282.9 L1320.2 279.4 L1320.7 275.8 L1321.1 272.3 L1321.6 269.0 L1322.1 265.9 L1322.6 263.3 L1323.1 261.1 L1323.5 259.4 L1324.0 258.4 L1324.5 258.1 L1325.0 258.4 L1325.5 259.4 L1325.9 261.1 L1326.4 263.3 L1326.9 265.9 L1327.4 269.0 L1327.9 272.3 L1328.3 275.8 L1328.8 279.4 L1329.3 282.9 L1329.8 286.4 L1330.2 289.6 L1330.7 292.7 L1331.2 295.4 L1331.7 297.9 L1332.2 300.0 L1332.6 301.9 L1333.1 303.4 L1333.6 304.8 L1334.1 305.8 L1334.6 306.7 L1335.0 307.4 L1335.5 307.9 L1336.0 308.4" stroke="#5b9be0"/>
<path d="M1367.2 308.5 L1367.7 308.1 L1368.2 307.6 L1368.6 307.0 L1369.1 306.3 L1369.6 305.3 L1370.1 304.2 L1370.6 302.8 L1371.0 301.2 L1371.5 299.3 L1372.0 297.1 L1372.5 294.7 L1373.0 292.0 L1373.4 289.2 L1373.9 286.1 L1374.4 283.0 L1374.9 279.9 L1375.3 276.8 L1375.8 273.9 L1376.3 271.2 L1376.8 268.8 L1377.3 266.9 L1377.7 265.5 L1378.2 264.6 L1378.7 264.3 L1379.2 264.6 L1379.7 265.5 L1380.1 266.9 L1380.6 268.8 L1381.1 271.2 L1381.6 273.9 L1382.1 276.8 L1382.5 279.9 L1383.0 283.0 L1383.5 286.1 L1384.0 289.2 L1384.5 292.0 L1384.9 294.7 L1385.4 297.1 L1385.9 299.3 L1386.4 301.2 L1386.8 302.8 L1387.3 304.2 L1387.8 305.3 L1388.3 306.3 L1388.8 307.0 L1389.2 307.6 L1389.7 308.1 L1390.2 308.5" stroke="#5b9be0"/>
<path d="M1268.1 308.4 L1268.6 308.0 L1269.1 307.5 L1269.5 306.8 L1270.0 306.0 L1270.5 305.0 L1271.0 303.7 L1271.5 302.2 L1271.9 300.5 L1272.4 298.4 L1272.9 296.1 L1273.4 293.4 L1273.8 290.6 L1274.3 287.5 L1274.8 284.2 L1275.3 280.8 L1275.8 277.4 L1276.2 274.0 L1276.7 270.9 L1277.2 268.0 L1277.7 265.4 L1278.2 263.3 L1278.6 261.8 L1279.1 260.8 L1279.6 260.5 L1280.1 260.8 L1280.6 261.8 L1281.0 263.3 L1281.5 265.4 L1282.0 268.0 L1282.5 270.9 L1283.0 274.0 L1283.4 277.4 L1283.9 280.8 L1284.4 284.2 L1284.9 287.5 L1285.3 290.6 L1285.8 293.4 L1286.3 296.1 L1286.8 298.4 L1287.3 300.5 L1287.7 302.2 L1288.2 303.7 L1288.7 305.0 L1289.2 306.0 L1289.7 306.8 L1290.1 307.5 L1290.6 308.0 L1291.1 308.4" stroke="#3a3aa8"/>
<path d="M1341.2 308.5 L1341.7 308.2 L1342.2 307.7 L1342.6 307.1 L1343.1 306.3 L1343.6 305.4 L1344.1 304.3 L1344.6 302.9 L1345.0 301.3 L1345.5 299.5 L1346.0 297.4 L1346.5 295.0 L1347.0 292.4 L1347.4 289.6 L1347.9 286.7 L1348.4 283.6 L1348.9 280.5 L1349.3 277.5 L1349.8 274.6 L1350.3 272.0 L1350.8 269.7 L1351.3 267.8 L1351.7 266.5 L1352.2 265.6 L1352.7 265.3 L1353.2 265.6 L1353.7 266.5 L1354.1 267.8 L1354.6 269.7 L1355.1 272.0 L1355.6 274.6 L1356.1 277.5 L1356.5 280.5 L1357.0 283.6 L1357.5 286.7 L1358.0 289.6 L1358.5 292.4 L1358.9 295.0 L1359.4 297.4 L1359.9 299.5 L1360.4 301.3 L1360.8 302.9 L1361.3 304.3 L1361.8 305.4 L1362.3 306.3 L1362.8 307.1 L1363.2 307.7 L1363.7 308.2 L1364.2 308.5" stroke="#3a3aa8"/>
<path d="M1256.6 308.7 L1257.1 308.3 L1257.6 307.9 L1258.0 307.4 L1258.5 306.8 L1259.0 306.0 L1259.5 305.0 L1260.0 303.9 L1260.4 302.5 L1260.9 300.9 L1261.4 299.1 L1261.9 297.0 L1262.3 294.8 L1262.8 292.4 L1263.3 289.9 L1263.8 287.2 L1264.3 284.6 L1264.7 282.0 L1265.2 279.5 L1265.7 277.3 L1266.2 275.3 L1266.7 273.7 L1267.1 272.5 L1267.6 271.8 L1268.1 271.5 L1268.6 271.8 L1269.1 272.5 L1269.5 273.7 L1270.0 275.3 L1270.5 277.3 L1271.0 279.5 L1271.5 282.0 L1271.9 284.6 L1272.4 287.2 L1272.9 289.9 L1273.4 292.4 L1273.8 294.8 L1274.3 297.0 L1274.8 299.1 L1275.3 300.9 L1275.8 302.5 L1276.2 303.9 L1276.7 305.0 L1277.2 306.0 L1277.7 306.8 L1278.2 307.4 L1278.6 307.9 L1279.1 308.3 L1279.6 308.7" stroke="#dd2424"/>
<path d="M1296.7 308.4 L1297.2 307.9 L1297.7 307.4 L1298.1 306.7 L1298.6 305.8 L1299.1 304.8 L1299.6 303.4 L1300.1 301.9 L1300.5 300.0 L1301.0 297.9 L1301.5 295.4 L1302.0 292.7 L1302.5 289.6 L1302.9 286.4 L1303.4 282.9 L1303.9 279.4 L1304.4 275.8 L1304.8 272.3 L1305.3 269.0 L1305.8 265.9 L1306.3 263.3 L1306.8 261.1 L1307.2 259.4 L1307.7 258.4 L1308.2 258.1 L1308.7 258.4 L1309.2 259.4 L1309.6 261.1 L1310.1 263.3 L1310.6 265.9 L1311.1 269.0 L1311.6 272.3 L1312.0 275.8 L1312.5 279.4 L1313.0 282.9 L1313.5 286.4 L1314.0 289.6 L1314.4 292.7 L1314.9 295.4 L1315.4 297.9 L1315.9 300.0 L1316.3 301.9 L1316.8 303.4 L1317.3 304.8 L1317.8 305.8 L1318.3 306.7 L1318.7 307.4 L1319.2 307.9 L1319.7 308.4" stroke="#dd2424"/>
<path d="M1283.0 308.4 L1283.5 308.0 L1284.0 307.5 L1284.4 306.9 L1284.9 306.1 L1285.4 305.1 L1285.9 303.8 L1286.4 302.4 L1286.8 300.6 L1287.3 298.6 L1287.8 296.3 L1288.3 293.8 L1288.8 290.9 L1289.2 287.9 L1289.7 284.7 L1290.2 281.4 L1290.7 278.0 L1291.1 274.8 L1291.6 271.7 L1292.1 268.8 L1292.6 266.3 L1293.1 264.3 L1293.5 262.8 L1294.0 261.8 L1294.5 261.5 L1295.0 261.8 L1295.5 262.8 L1295.9 264.3 L1296.4 266.3 L1296.9 268.8 L1297.4 271.7 L1297.9 274.8 L1298.3 278.0 L1298.8 281.4 L1299.3 284.7 L1299.8 287.9 L1300.2 290.9 L1300.7 293.8 L1301.2 296.3 L1301.7 298.6 L1302.2 300.6 L1302.6 302.4 L1303.1 303.8 L1303.6 305.1 L1304.1 306.1 L1304.6 306.9 L1305.0 307.5 L1305.5 308.0 L1306.0 308.4" stroke="#2e6e55"/>
<path d="M1326.2 308.6 L1326.7 308.2 L1327.2 307.8 L1327.6 307.2 L1328.1 306.5 L1328.6 305.6 L1329.1 304.6 L1329.6 303.3 L1330.0 301.8 L1330.5 300.0 L1331.0 298.0 L1331.5 295.8 L1332.0 293.3 L1332.4 290.7 L1332.9 287.9 L1333.4 285.0 L1333.9 282.1 L1334.3 279.3 L1334.8 276.5 L1335.3 274.1 L1335.8 271.9 L1336.3 270.1 L1336.7 268.8 L1337.2 268.0 L1337.7 267.7 L1338.2 268.0 L1338.7 268.8 L1339.1 270.1 L1339.6 271.9 L1340.1 274.1 L1340.6 276.5 L1341.1 279.3 L1341.5 282.1 L1342.0 285.0 L1342.5 287.9 L1343.0 290.7 L1343.5 293.3 L1343.9 295.8 L1344.4 298.0 L1344.9 300.0 L1345.4 301.8 L1345.8 303.3 L1346.3 304.6 L1346.8 305.6 L1347.3 306.5 L1347.8 307.2 L1348.2 307.8 L1348.7 308.2 L1349.2 308.6" stroke="#2e6e55"/>
<path d="M1354.7 308.4 L1355.2 308.0 L1355.7 307.5 L1356.1 306.9 L1356.6 306.1 L1357.1 305.0 L1357.6 303.8 L1358.1 302.3 L1358.5 300.6 L1359.0 298.6 L1359.5 296.3 L1360.0 293.7 L1360.5 290.8 L1360.9 287.8 L1361.4 284.5 L1361.9 281.2 L1362.4 277.8 L1362.8 274.5 L1363.3 271.4 L1363.8 268.5 L1364.3 266.0 L1364.8 264.0 L1365.2 262.5 L1365.7 261.5 L1366.2 261.2 L1366.7 261.5 L1367.2 262.5 L1367.6 264.0 L1368.1 266.0 L1368.6 268.5 L1369.1 271.4 L1369.6 274.5 L1370.0 277.8 L1370.5 281.2 L1371.0 284.5 L1371.5 287.8 L1372.0 290.8 L1372.4 293.7 L1372.9 296.3 L1373.4 298.6 L1373.9 300.6 L1374.3 302.3 L1374.8 303.8 L1375.3 305.0 L1375.8 306.1 L1376.3 306.9 L1376.7 307.5 L1377.2 308.0 L1377.7 308.4" stroke="#2e6e55"/>
</g>
<rect x="1243.4" y="244.4" width="148.400" height="65.600" fill="none" stroke="#000" stroke-width="2.6"/>
</g>
<path d="M1198.7 324.500V358" stroke="#1d1212" stroke-width="3.2"/>
<path d="M1193.6 353.500L1198.7 373.500L1203.8 353.500Z" fill="#1d1212"/>
<rect x="964.7" y="415.8" width="229.600" height="143.800" fill="none" stroke="#2f6fc0" stroke-width="3.7" stroke-dasharray="8.8 8.3" stroke-dashoffset="-3"/>
<rect x="1204" y="415.8" width="225" height="143.800" fill="none" stroke="#2f6fc0" stroke-width="3.7" stroke-dasharray="8.8 8.1" stroke-dashoffset="-3.500"/>
<g shape-rendering="crispEdges">
<rect x="996.1" y="464.0" width="84.9" height="82.1" fill="#f7ead0"/>
<rect x="996.10" y="464.00" width="8.79" height="8.51" fill="#f3cf8f"/>
<rect x="1013.08" y="464.00" width="8.79" height="8.51" fill="#f0a830"/>
<rect x="1038.55" y="464.00" width="8.79" height="8.51" fill="#f3cf8f"/>
<rect x="1047.04" y="464.00" width="8.79" height="8.51" fill="#f0a830"/>
<rect x="1055.53" y="464.00" width="8.79" height="8.51" fill="#f0a830"/>
<rect x="1064.02" y="464.00" width="8.79" height="8.51" fill="#f3cf8f"/>
<rect x="996.10" y="472.21" width="8.79" height="8.51" fill="#f3cf8f"/>
<rect x="1021.57" y="472.21" width="8.79" height="8.51" fill="#f0a830"/>
<rect x="1030.06" y="472.21" width="8.79" height="8.51" fill="#f3cf8f"/>
<rect x="1038.55" y="472.21" width="8.79" height="8.51" fill="#f3cf8f"/>
<rect x="1055.53" y="472.21" width="8.79" height="8.51" fill="#fdfbee"/>
<rect x="1072.51" y="472.21" width="8.79" height="8.51" fill="#f3cf8f"/>
<rect x="996.10" y="480.42" width="8.79" height="8.51" fill="#f0a830"/>
<rect x="1004.59" y="480.42" width="8.79" height="8.51" fill="#f3cf8f"/>
<rect x="1013.08" y="480.42" width="8.79" height="8.51" fill="#f0a830"/>
<rect x="1021.57" y="480.42" width="8.79" height="8.51" fill="#f0a830"/>
<rect x="1030.06" y="480.42" width="8.79" height="8.51" fill="#f0a830"/>
<rect x="1038.55" y="480.42" width="8.79" height="8.51" fill="#fdfbee"/>
<rect x="1064.02" y="480.42" width="8.79" height="8.51" fill="#fdfbee"/>
<rect x="1072.51" y="480.42" width="8.79" height="8.51" fill="#f0a830"/>
<rect x="996.10" y="488.63" width="8.79" height="8.51" fill="#f0a830"/>
<rect x="1004.59" y="488.63" width="8.79" height="8.51" fill="#f3cf8f"/>
<rect x="1021.57" y="488.63" width="8.79" height="8.51" fill="#f3cf8f"/>
<rect x="1030.06" y="488.63" width="8.79" height="8.51" fill="#fdfbee"/>
<rect x="1038.55" y="488.63" width="8.79" height="8.51" fill="#f3cf8f"/>
<rect x="1055.53" y="488.63" width="8.79" height="8.51" fill="#fdfbee"/>
<rect x="1064.02" y="488.63" width="8.79" height="8.51" fill="#fdfbee"/>
<rect x="996.10" y="496.84" width="8.79" height="8.51" fill="#f0a830"/>
<rect x="1021.57" y="496.84" width="8.79" height="8.51" fill="#fdfbee"/>
<rect x="1030.06" y="496.84" width="8.79" height="8.51" fill="#f3cf8f"/>
<rect x="1038.55" y="496.84" width="8.79" height="8.51" fill="#fdfbee"/>
<rect x="1055.53" y="496.84" width="8.79" height="8.51" fill="#f0a830"/>
<rect x="1064.02" y="496.84" width="8.79" height="8.51" fill="#f3cf8f"/>
<rect x="996.10" y="505.05" width="8.79" height="8.51" fill="#f0a830"/>
<rect x="1004.59" y="505.05" width="8.79" height="8.51" fill="#f3cf8f"/>
<rect x="1013.08" y="505.05" width="8.79" height="8.51" fill="#f0a830"/>
<rect x="1021.57" y="505.05" width="8.79" height="8.51" fill="#f3cf8f"/>
<rect x="1038.55" y="505.05" width="8.79" height="8.51" fill="#f3cf8f"/>
<rect x="1055.53" y="505.05" width="8.79" height="8.51" fill="#f3cf8f"/>
<rect x="1064.02" y="505.05" width="8.79" height="8.51" fill="#f3cf8f"/>
<rect x="996.10" y="513.26" width="8.79" height="8.51" fill="#f0a830"/>
<rect x="1004.59" y="513.26" width="8.79" height="8.51" fill="#f3cf8f"/>
<rect x="1013.08" y="513.26" width="8.79" height="8.51" fill="#fdfbee"/>
<rect x="1038.55" y="513.26" width="8.79" height="8.51" fill="#f3cf8f"/>
<rect x="1047.04" y="513.26" width="8.79" height="8.51" fill="#f3cf8f"/>
<rect x="1055.53" y="513.26" width="8.79" height="8.51" fill="#f3cf8f"/>
<rect x="1064.02" y="513.26" width="8.79" height="8.51" fill="#f0a830"/>
<rect x="996.10" y="521.47" width="8.79" height="8.51" fill="#f3cf8f"/>
<rect x="1004.59" y="521.47" width="8.79" height="8.51" fill="#fdfbee"/>
<rect x="1021.57" y="521.47" width="8.79" height="8.51" fill="#fdfbee"/>
<rect x="1030.06" y="521.47" width="8.79" height="8.51" fill="#fdfbee"/>
<rect x="1038.55" y="521.47" width="8.79" height="8.51" fill="#fdfbee"/>
<rect x="1047.04" y="521.47" width="8.79" height="8.51" fill="#f3cf8f"/>
<rect x="1064.02" y="521.47" width="8.79" height="8.51" fill="#f3cf8f"/>
<rect x="1072.51" y="521.47" width="8.79" height="8.51" fill="#f0a830"/>
<rect x="1021.57" y="529.68" width="8.79" height="8.51" fill="#f0a830"/>
<rect x="1038.55" y="529.68" width="8.79" height="8.51" fill="#f0a830"/>
<rect x="1055.53" y="529.68" width="8.79" height="8.51" fill="#f3cf8f"/>
<rect x="1064.02" y="529.68" width="8.79" height="8.51" fill="#f0a830"/>
<rect x="1072.51" y="529.68" width="8.79" height="8.51" fill="#f3cf8f"/>
<rect x="996.10" y="537.89" width="8.79" height="8.51" fill="#fdfbee"/>
<rect x="1013.08" y="537.89" width="8.79" height="8.51" fill="#fdfbee"/>
<rect x="1021.57" y="537.89" width="8.79" height="8.51" fill="#f0a830"/>
<rect x="1030.06" y="537.89" width="8.79" height="8.51" fill="#f0a830"/>
<rect x="1047.04" y="537.89" width="8.79" height="8.51" fill="#f3cf8f"/>
<rect x="1055.53" y="537.89" width="8.79" height="8.51" fill="#f0a830"/>
<rect x="1064.02" y="537.89" width="8.79" height="8.51" fill="#f0a830"/>
<rect x="1072.51" y="537.89" width="8.79" height="8.51" fill="#f0a830"/>
</g>
<path d="M996.100 464V546.100H1081" fill="none" stroke="#333" stroke-width="0.7"/>
<path d="M994 464.0H996" stroke="#333" stroke-width="0.6"/>
<text x="992.500" y="465.2" font-size="3.400" text-anchor="end" style="fill:#222">label 6</text>
<path d="M994 480.4H996" stroke="#333" stroke-width="0.6"/>
<text x="992.500" y="481.6" font-size="3.400" text-anchor="end" style="fill:#222">label 5</text>
<path d="M994 496.8H996" stroke="#333" stroke-width="0.6"/>
<text x="992.500" y="498.0" font-size="3.400" text-anchor="end" style="fill:#222">label 4</text>
<path d="M994 513.2H996" stroke="#333" stroke-width="0.6"/>
<text x="992.500" y="514.4" font-size="3.400" text-anchor="end" style="fill:#222">label 3</text>
<path d="M994 529.6H996" stroke="#333" stroke-width="0.6"/>
<text x="992.500" y="530.8" font-size="3.400" text-anchor="end" style="fill:#222">label 2</text>
<path d="M994 546.0H996" stroke="#333" stroke-width="0.6"/>
<text x="992.500" y="547.2" font-size="3.400" text-anchor="end" style="fill:#222">label 1</text>
<path d="M996.1 546.1V548" stroke="#333" stroke-width="0.6"/>
<text x="996.1" y="552.300" font-size="3.400" text-anchor="middle" style="fill:#222">0</text>
<path d="M1013.1 546.1V548" stroke="#333" stroke-width="0.6"/>
<text x="1013.1" y="552.300" font-size="3.400" text-anchor="middle" style="fill:#222">5</text>
<path d="M1030.1 546.1V548" stroke="#333" stroke-width="0.6"/>
<text x="1030.1" y="552.300" font-size="3.400" text-anchor="middle" style="fill:#222">10</text>
<path d="M1047.1 546.1V548" stroke="#333" stroke-width="0.6"/>
<text x="1047.1" y="552.300" font-size="3.400" text-anchor="middle" style="fill:#222">15</text>
<path d="M1064.1 546.1V548" stroke="#333" stroke-width="0.6"/>
<text x="1064.1" y="552.300" font-size="3.400" text-anchor="middle" style="fill:#222">20</text>
<path d="M1081.1 546.1V548" stroke="#333" stroke-width="0.6"/>
<text x="1081.1" y="552.300" font-size="3.400" text-anchor="middle" style="fill:#222">25</text>
<path d="M996.2 462.9 L996.2 432.2 L1002.2 432.2M1002.2 432.2 L1002.2 429.3 L1035.3 429.3 L1035.3 436.7M1019.3 429.3 L1019.3 424.6 L1071.1 424.6 L1071.1 442.4M1026.0 436.7 L1045.3 436.7 L1045.3 449.3M1064.3 462.9 L1064.3 442.9M1012.9 462.9 L1012.9 454.7M1021.5 462.9 L1021.5 454.7M1055.5 462.9 L1055.5 454.7M1004.7 462.9 L1004.7 454.7" fill="none" stroke="#4a4a4a" stroke-width="0.8"/>
<path d="M1002.2 432.2 L1008.6 432.2 L1008.6 454.7M1026.0 436.7 L1026.0 454.7M1039.3 462.9 L1039.3 449.6 L1051.5 449.6 L1051.5 454.7M1030.0 462.9 L1030.0 454.7M1046.9 462.9 L1046.9 454.7M1072.2 462.9 L1072.2 454.7M1076.9 454.7 L1076.9 442.9M1080.8 462.9 L1080.8 454.7" fill="none" stroke="#c9c9c9" stroke-width="0.8"/>
<rect x="1102.1" y="445.7" width="73.600" height="72.900" rx="3" fill="#fff" stroke="#c9d0d7" stroke-width="2.8"/>
<rect x="1108.6" y="452.4" width="73.800" height="73.300" rx="3" fill="#fff" stroke="#909ca7" stroke-width="2.8"/>
<rect x="1115.7" y="459" width="73.600" height="73.900" rx="3" fill="#fff" stroke="#566575" stroke-width="3.3"/>
<rect x="1141.8" y="460.500" width="21" height="21.600" fill="#d2d6da"/>
<rect x="1165.8" y="485" width="22" height="21" fill="#d2d6da"/>
<rect x="1141.8" y="509" width="21" height="22.400" fill="#d2d6da"/>
<path d="M1140.3 459V533M1164.3 459V533M1115.700 483.600H1189.300M1115.700 507.600H1189.300" stroke="#566575" stroke-width="3.200" fill="none"/>
<path d="M1220.7 524.7L1310 450" stroke="#f3b88d" stroke-width="0.9"/>
<path d="M1213.3 444V534.3H1305" fill="none" stroke="#111" stroke-width="1.4"/>
<path d="M1210.500 446.500L1213.3 441L1216.100 446.500Z" fill="#111"/><path d="M1304.500 531.500L1310 534.300L1304.500 537.100Z" fill="#111"/>
<circle cx="1224.3" cy="519.6" r="2.600" fill="#e87e24"/>
<circle cx="1231.9" cy="497.6" r="2.600" fill="#e87e24"/>
<circle cx="1252.4" cy="497.1" r="2.600" fill="#e87e24"/>
<circle cx="1257.6" cy="510.7" r="2.600" fill="#e87e24"/>
<circle cx="1262.6" cy="472.1" r="2.600" fill="#e87e24"/>
<circle cx="1278.6" cy="480.4" r="2.600" fill="#e87e24"/>
<circle cx="1296.0" cy="475.7" r="2.600" fill="#e87e24"/>
<circle cx="1300.7" cy="458.1" r="2.600" fill="#e87e24"/>
<path d="M1322.1 463.1L1374.7 437.1M1322.1 463.1L1374.7 463.1M1322.1 463.1L1374.7 489.0M1322.1 463.1L1374.7 515.0M1322.1 463.1L1374.7 540.7M1322.1 489.0L1374.7 437.1M1322.1 489.0L1374.7 463.1M1322.1 489.0L1374.7 489.0M1322.1 489.0L1374.7 515.0M1322.1 489.0L1374.7 540.7M1322.1 515.0L1374.7 437.1M1322.1 515.0L1374.7 463.1M1322.1 515.0L1374.7 489.0M1322.1 515.0L1374.7 515.0M1322.1 515.0L1374.7 540.7M1374.7 437.1L1416.9 476.0M1374.7 437.1L1416.9 502.1M1374.7 463.1L1416.9 476.0M1374.7 463.1L1416.9 502.1M1374.7 489.0L1416.9 476.0M1374.7 489.0L1416.9 502.1M1374.7 515.0L1416.9 476.0M1374.7 515.0L1416.9 502.1M1374.7 540.7L1416.9 476.0M1374.7 540.7L1416.9 502.1" stroke="#111" stroke-width="1.1" fill="none"/>
<circle cx="1322.1" cy="463.1" r="5.200" fill="#5c5cd4" stroke="#26267e" stroke-width="0.7"/>
<circle cx="1322.1" cy="489.0" r="5.200" fill="#5c5cd4" stroke="#26267e" stroke-width="0.7"/>
<circle cx="1322.1" cy="515.0" r="5.200" fill="#5c5cd4" stroke="#26267e" stroke-width="0.7"/>
<circle cx="1374.7" cy="437.1" r="5.200" fill="#ede74c" stroke="#a25c16" stroke-width="0.7"/>
<circle cx="1374.7" cy="463.1" r="5.200" fill="#ede74c" stroke="#a25c16" stroke-width="0.7"/>
<circle cx="1374.7" cy="489.0" r="5.200" fill="#ede74c" stroke="#a25c16" stroke-width="0.7"/>
<circle cx="1374.7" cy="515.0" r="5.200" fill="#ede74c" stroke="#a25c16" stroke-width="0.7"/>
<circle cx="1374.7" cy="540.7" r="5.200" fill="#ede74c" stroke="#a25c16" stroke-width="0.7"/>
<circle cx="1416.9" cy="476.0" r="5.200" fill="#c9424c" stroke="#7c1c24" stroke-width="0.7"/>
<circle cx="1416.9" cy="502.1" r="5.200" fill="#c9424c" stroke="#7c1c24" stroke-width="0.7"/>
</g>
<!-- 05_right.svg -->
<g id="right-box">
<g fill="none" stroke-width="3.9" stroke-linejoin="round">
<path d="M1596.1 142.1 L1597.1 142.9 L1598.1 143.7 L1599.1 144.7 L1600.1 145.8 L1601.1 147.0 L1602.1 148.3 L1603.1 149.6 L1604.1 150.9 L1605.1 152.2 L1606.1 153.5 L1607.1 154.8 L1608.1 156.0 L1609.1 157.1 L1610.1 158.1 L1611.1 158.9 L1612.1 159.7 L1613.1 160.3 L1614.1 160.7 L1615.1 161.0 L1616.1 161.1 L1617.1 161.0 L1618.1 160.8 L1619.1 160.4 L1620.1 159.8 L1621.1 159.1 L1622.1 158.3 L1623.1 157.3 L1624.1 156.2 L1625.1 155.0 L1626.1 153.8 L1627.1 152.5 L1628.1 151.2 L1629.1 149.8 L1630.1 148.5 L1631.1 147.3 L1632.1 146.1 L1633.1 144.9 L1634.1 143.9 L1635.1 143.0 L1636.1 142.2 L1637.1 141.6 L1638.1 141.2 L1639.1 140.8 L1640.1 140.7 L1641.1 140.7 L1642.1 140.9 L1643.1 141.3 L1644.1 141.9 L1645.1 142.5 L1645.2 142.6" stroke="#1a2488"/>
<path d="M1596.1 159.9 L1597.1 160.5 L1598.1 160.9 L1599.1 161.1 L1600.1 161.1 L1601.1 161.0 L1602.1 160.6 L1603.1 160.2 L1604.1 159.6 L1605.1 158.8 L1606.1 157.9 L1607.1 156.9 L1608.1 155.7 L1609.1 154.5 L1610.1 153.3 L1611.1 152.0 L1612.1 150.6 L1613.1 149.3 L1614.1 148.0 L1615.1 146.8 L1616.1 145.6 L1617.1 144.5 L1618.1 143.5 L1619.1 142.7 L1620.1 142.0 L1621.1 141.4 L1622.1 141.0 L1623.1 140.8 L1624.1 140.7 L1625.1 140.8 L1626.1 141.1 L1627.1 141.5 L1628.1 142.1 L1629.1 142.9 L1630.1 143.7 L1631.1 144.7 L1632.1 145.8 L1633.1 147.0 L1634.1 148.3 L1635.1 149.6 L1636.1 150.9 L1637.1 152.2 L1638.1 153.5 L1639.1 154.8 L1640.1 156.0 L1641.1 157.1 L1642.1 158.1 L1643.1 158.9 L1644.1 159.7 L1645.1 160.3 L1645.2 160.3" stroke="#2c4a9c"/>
<path d="M1645.2 142.6 L1646.2 143.5 L1647.2 144.4 L1648.2 145.5 L1649.2 146.7 L1650.2 147.9 L1651.2 149.2 L1652.2 150.5 L1653.2 151.8 L1654.2 153.1 L1655.2 154.4 L1656.2 155.6 L1657.2 156.7 L1658.2 157.8 L1659.2 158.7 L1660.2 159.5 L1661.2 160.1 L1662.2 160.6 L1663.2 160.9 L1664.2 161.1 L1665.2 161.1 L1666.2 160.9 L1667.2 160.5 L1668.2 160.0 L1669.2 159.3 L1670.2 158.5 L1671.2 157.6 L1672.2 156.5 L1673.2 155.4 L1674.2 154.2 L1675.2 152.9 L1676.2 151.6 L1677.2 150.2 L1678.2 148.9 L1679.2 147.6 L1680.2 146.4 L1681.2 145.3 L1682.2 144.2 L1683.2 143.3 L1684.2 142.5 L1685.2 141.8 L1686.2 141.3 L1687.2 140.9 L1688.2 140.7 L1689.2 140.7 L1690.2 140.9 L1691.2 141.2 L1692.2 141.7 L1693.2 142.3 L1694.2 143.1 L1695.2 144.0 L1696.2 145.1 L1697.2 146.2 L1698.2 147.4 L1699.2 148.7 L1700.2 150.0 L1701.2 151.3 L1702.2 152.6 L1703.2 153.9 L1704.2 155.1 L1705.2 156.3 L1706.2 157.4 L1707.2 158.3 L1708.2 159.2 L1709.2 159.9 L1710.2 160.4 L1711.2 160.8 L1712.2 161.0 L1713.2 161.1 L1714.2 161.0 L1715.2 160.7 L1716.2 160.2 L1717.2 159.6 L1718.2 158.9 L1719.2 158.0 L1720.2 157.0 L1721.2 155.8 L1722.2 154.6 L1723.2 153.4 L1724.2 152.1 L1725.2 150.8 L1726.2 149.4 L1727.2 148.2 L1728.2 146.9 L1729.2 145.7 L1730.2 144.6 L1731.2 143.6 L1732.2 142.8 L1733.2 142.0 L1734.2 141.5 L1735.2 141.0 L1736.2 140.8 L1737.2 140.7 L1738.2 140.8 L1739.2 141.0 L1740.2 141.5 L1741.0 141.9" stroke="#56b8b8"/>
<path d="M1645.2 160.3 L1646.2 160.8 L1647.2 161.0 L1648.2 161.1 L1649.2 161.0 L1650.2 160.8 L1651.2 160.3 L1652.2 159.8 L1653.2 159.0 L1654.2 158.2 L1655.2 157.2 L1656.2 156.1 L1657.2 154.9 L1658.2 153.6 L1659.2 152.4 L1660.2 151.0 L1661.2 149.7 L1662.2 148.4 L1663.2 147.2 L1664.2 146.0 L1665.2 144.8 L1666.2 143.8 L1667.2 142.9 L1668.2 142.2 L1669.2 141.6 L1670.2 141.1 L1671.2 140.8 L1672.2 140.7 L1673.2 140.8 L1674.2 141.0 L1675.2 141.4 L1676.2 141.9 L1677.2 142.6 L1678.2 143.5 L1679.2 144.4 L1680.2 145.5 L1681.2 146.7 L1682.2 147.9 L1683.2 149.2 L1684.2 150.5 L1685.2 151.8 L1686.2 153.1 L1687.2 154.4 L1688.2 155.6 L1689.2 156.7 L1690.2 157.8 L1691.2 158.7 L1692.2 159.5 L1693.2 160.1 L1694.2 160.6 L1695.2 160.9 L1696.2 161.1 L1697.2 161.1 L1698.2 160.9 L1699.2 160.5 L1700.2 160.0 L1701.2 159.3 L1702.2 158.5 L1703.2 157.6 L1704.2 156.5 L1705.2 155.4 L1706.2 154.2 L1707.2 152.9 L1708.2 151.6 L1709.2 150.2 L1710.2 148.9 L1711.2 147.6 L1712.2 146.4 L1713.2 145.3 L1714.2 144.2 L1715.2 143.3 L1716.2 142.5 L1717.2 141.8 L1718.2 141.3 L1719.2 140.9 L1720.2 140.7 L1721.2 140.7 L1722.2 140.9 L1723.2 141.2 L1724.2 141.7 L1725.2 142.3 L1726.2 143.1 L1727.2 144.0 L1728.2 145.1 L1729.2 146.2 L1730.2 147.4 L1731.2 148.7 L1732.2 150.0 L1733.2 151.3 L1734.2 152.6 L1735.2 153.9 L1736.2 155.1 L1737.2 156.3 L1738.2 157.4 L1739.2 158.3 L1740.2 159.2 L1741.0 159.8" stroke="#5fd6c8"/>
<path d="M1741.0 141.9 L1742.0 142.6 L1743.0 143.5 L1744.0 144.4 L1745.0 145.5 L1746.0 146.7 L1747.0 147.9 L1748.0 149.2 L1749.0 150.5 L1750.0 151.8 L1751.0 153.1 L1752.0 154.4 L1753.0 155.6 L1754.0 156.7 L1755.0 157.8 L1756.0 158.7 L1757.0 159.5 L1758.0 160.1 L1759.0 160.6 L1760.0 160.9 L1761.0 161.1 L1762.0 161.1 L1763.0 160.9 L1764.0 160.5 L1765.0 160.0 L1766.0 159.3 L1767.0 158.5 L1768.0 157.6 L1769.0 156.5 L1770.0 155.4 L1771.0 154.2 L1772.0 152.9 L1773.0 151.6 L1774.0 150.2 L1775.0 148.9 L1776.0 147.6 L1777.0 146.4 L1778.0 145.3 L1779.0 144.2 L1780.0 143.3 L1781.0 142.5 L1782.0 141.8 L1783.0 141.3 L1784.0 140.9 L1785.0 140.7 L1786.0 140.7 L1787.0 140.9 L1788.0 141.2 L1789.0 141.7 L1789.8 142.2" stroke="#1a2488"/>
<path d="M1741.0 159.8 L1742.0 160.3 L1743.0 160.8 L1744.0 161.0 L1745.0 161.1 L1746.0 161.0 L1747.0 160.8 L1748.0 160.3 L1749.0 159.8 L1750.0 159.0 L1751.0 158.2 L1752.0 157.2 L1753.0 156.1 L1754.0 154.9 L1755.0 153.6 L1756.0 152.4 L1757.0 151.0 L1758.0 149.7 L1759.0 148.4 L1760.0 147.2 L1761.0 146.0 L1762.0 144.8 L1763.0 143.8 L1764.0 142.9 L1765.0 142.2 L1766.0 141.6 L1767.0 141.1 L1768.0 140.8 L1769.0 140.7 L1770.0 140.8 L1771.0 141.0 L1772.0 141.4 L1773.0 141.9 L1774.0 142.6 L1775.0 143.5 L1776.0 144.4 L1777.0 145.5 L1778.0 146.7 L1779.0 147.9 L1780.0 149.2 L1781.0 150.5 L1782.0 151.8 L1783.0 153.1 L1784.0 154.4 L1785.0 155.6 L1786.0 156.7 L1787.0 157.8 L1788.0 158.7 L1789.0 159.5 L1789.8 160.0" stroke="#2c4a9c"/>
</g>
<path d="M1694.5 180.600V214" stroke="#1d1212" stroke-width="3.400"/>
<path d="M1689.600 210.500L1694.5 228.500L1699.400 210.500Z" fill="#1d1212"/>
<g>
<path d="M1557.200 352.300V370.300A58.300 32.600 0 0 0 1673.800 370.300V352.300Z" fill="#f3d3d8" stroke="#a6afb2" stroke-width="0.8"/>
<path d="M1558.500 372A57 31 0 0 0 1672.500 372" fill="none" stroke="#e58b96" stroke-width="1" transform="translate(0 -2.500)"/>
<ellipse cx="1615.500" cy="352.300" rx="58.300" ry="32.600" fill="#e9f1f2" stroke="#9aa5a8" stroke-width="0.800"/>
<ellipse cx="1615.500" cy="352.800" rx="56.800" ry="31.300" fill="none" stroke="#c3cccf" stroke-width="0.700"/>
<ellipse cx="1615.500" cy="358.300" rx="55.700" ry="26.600" fill="#f5dade" stroke="#e78c97" stroke-width="0.900"/>
<circle cx="1570.0" cy="358.8" r="4.100" fill="#5079c4"/><circle cx="1570.0" cy="358.8" r="2.300" fill="#3559a6"/>
<circle cx="1583.7" cy="354.2" r="4.100" fill="#5079c4"/><circle cx="1583.7" cy="354.2" r="2.300" fill="#3559a6"/>
<circle cx="1592.5" cy="358.8" r="4.100" fill="#5079c4"/><circle cx="1592.5" cy="358.8" r="2.300" fill="#3559a6"/>
<circle cx="1613.8" cy="349.7" r="4.100" fill="#5079c4"/><circle cx="1613.8" cy="349.7" r="2.300" fill="#3559a6"/>
<circle cx="1627.1" cy="342.5" r="4.100" fill="#5079c4"/><circle cx="1627.1" cy="342.5" r="2.300" fill="#3559a6"/>
<circle cx="1641.2" cy="355.2" r="4.100" fill="#5079c4"/><circle cx="1641.2" cy="355.2" r="2.300" fill="#3559a6"/>
<circle cx="1632.3" cy="362.8" r="4.100" fill="#5079c4"/><circle cx="1632.3" cy="362.8" r="2.300" fill="#3559a6"/>
<circle cx="1603.8" cy="373.2" r="4.100" fill="#5079c4"/><circle cx="1603.8" cy="373.2" r="2.300" fill="#3559a6"/>
<circle cx="1619.2" cy="374.1" r="4.100" fill="#5079c4"/><circle cx="1619.2" cy="374.1" r="2.300" fill="#3559a6"/>
<circle cx="1639.5" cy="372.4" r="4.100" fill="#5079c4"/><circle cx="1639.5" cy="372.4" r="2.300" fill="#3559a6"/>
<circle cx="1595.4" cy="343.9" r="4" fill="#b5b0d6"/><circle cx="1595.4" cy="343.9" r="2.200" fill="#9c9bc8"/>
<circle cx="1606.9" cy="360.5" r="4" fill="#b5b0d6"/><circle cx="1606.9" cy="360.5" r="2.200" fill="#9c9bc8"/>
<circle cx="1575.7" cy="364.8" r="4" fill="#b5b0d6"/><circle cx="1575.7" cy="364.8" r="2.200" fill="#9c9bc8"/>
<circle cx="1587.7" cy="371.5" r="4" fill="#b5b0d6"/><circle cx="1587.7" cy="371.5" r="2.200" fill="#9c9bc8"/>
<circle cx="1651.8" cy="361.7" r="4" fill="#b5b0d6"/><circle cx="1651.8" cy="361.7" r="2.200" fill="#9c9bc8"/>
<circle cx="1587.7" cy="389.5" r="4" fill="#b5b0d6"/><circle cx="1587.7" cy="389.5" r="2.200" fill="#9c9bc8"/>
<circle cx="1614.1" cy="392.1" r="4" fill="#b5b0d6"/><circle cx="1614.1" cy="392.1" r="2.200" fill="#9c9bc8"/>
<circle cx="1642.1" cy="389.5" r="4" fill="#b5b0d6"/><circle cx="1642.1" cy="389.5" r="2.200" fill="#9c9bc8"/>
<path d="M1619.200 367.500L1625.500 374.100L1619.200 380.700L1612.900 374.100Z" fill="none" stroke="#8fb4e8" stroke-width="0.600"/>
</g>
<g>
<clipPath id="hcl"><rect x="1695.400" y="317.400" width="58.400" height="79.200"/></clipPath>
<clipPath id="hcr"><rect x="1756.300" y="317.400" width="58.600" height="79.200"/></clipPath>
<g clip-path="url(#hcl)">
<rect x="1695.4" y="317.400" width="59" height="79.200" fill="#cfa9c6"/>
<g transform="translate(0.0 0)" fill="none" stroke-linecap="round" stroke-linejoin="round"><path d="M1706.7 316.7Q1707.2 324.9 1708.8 329.0Q1710.4 333.0 1712.3 336.2Q1714.2 339.4 1713.2 340.7Q1712.3 342.0 1709.0 342.9Q1705.6 343.8 1703.4 346.2Q1701.1 348.7 1701.5 352.0Q1701.9 355.3 1704.9 357.8Q1707.8 360.2 1711.6 362.0Q1715.3 363.9 1718.1 366.7Q1720.8 369.5 1722.7 372.4Q1724.6 375.4 1726.8 378.0L1729.0 380.6" stroke="#d86ab4" stroke-width="8.6"/><path d="M1727.9 316.7Q1730.5 324.9 1731.8 329.7Q1733.1 334.5 1733.3 337.9Q1733.5 341.2 1732.0 345.3Q1730.5 349.4 1727.9 352.0L1725.3 354.6" stroke="#d86ab4" stroke-width="8.6"/><path d="M1733.5 341.2Q1736.1 349.4 1739.1 352.7Q1742.0 356.1 1745.4 357.9Q1748.7 359.8 1751.7 360.5L1754.7 361.3" stroke="#d86ab4" stroke-width="8.6"/><path d="M1741.3 324.1Q1745.7 327.5 1747.2 330.6Q1748.7 333.8 1747.2 336.4Q1745.7 339.0 1747.6 341.8Q1749.5 344.6 1752.1 346.2L1754.7 347.9" stroke="#d86ab4" stroke-width="8.6"/><path d="M1729.0 380.6Q1733.9 377.3 1735.2 376.0L1736.5 374.7" stroke="#d86ab4" stroke-width="8.6"/><path d="M1729.0 380.6Q1736.1 383.2 1739.8 382.3Q1743.5 381.4 1746.9 381.9Q1750.2 382.5 1752.4 381.9L1754.7 381.4" stroke="#d86ab4" stroke-width="8.6"/><path d="M1729.0 380.6Q1727.2 387.3 1726.2 392.5L1725.3 397.7" stroke="#d86ab4" stroke-width="8.6"/><path d="M1730.5 385.1Q1735.3 389.9 1736.8 393.8L1738.3 397.7" stroke="#d86ab4" stroke-width="8.6"/><path d="M1698.2 373.9Q1697.4 380.6 1699.3 384.3Q1701.1 388.0 1704.9 391.0Q1708.6 394.0 1711.2 396.2L1713.8 398.4" stroke="#d86ab4" stroke-width="8.6"/><path d="M1751.7 362.0Q1749.5 368.7 1751.1 372.8Q1752.8 376.9 1753.7 378.0L1754.7 379.1" stroke="#d86ab4" stroke-width="8.6"/><path d="M1714.5 339.7Q1716.0 345.7 1714.2 347.9Q1712.3 350.1 1709.1 350.3L1706.0 350.5" stroke="#d86ab4" stroke-width="8.6"/><ellipse cx="1724.2" cy="326.4" rx="2.8" ry="4.6" transform="rotate(-18 1724.2 326.4)" stroke="#d86ab4" stroke-width="8.6"/><ellipse cx="1711.9" cy="345.7" rx="3.1" ry="3.0" transform="rotate(0 1711.9 345.7)" stroke="#d86ab4" stroke-width="8.6"/><ellipse cx="1749.5" cy="354.6" rx="3.0" ry="2.7" transform="rotate(0 1749.5 354.6)" stroke="#d86ab4" stroke-width="8.6"/><ellipse cx="1742.0" cy="387.3" rx="4.6" ry="2.5" transform="rotate(-12 1742.0 387.3)" stroke="#d86ab4" stroke-width="8.6"/><ellipse cx="1729.4" cy="380.6" rx="1.3" ry="1.3" transform="rotate(0 1729.4 380.6)" stroke="#d86ab4" stroke-width="8.6"/><path d="M1706.7 316.7Q1707.2 324.9 1708.8 329.0Q1710.4 333.0 1712.3 336.2Q1714.2 339.4 1713.2 340.7Q1712.3 342.0 1709.0 342.9Q1705.6 343.8 1703.4 346.2Q1701.1 348.7 1701.5 352.0Q1701.9 355.3 1704.9 357.8Q1707.8 360.2 1711.6 362.0Q1715.3 363.9 1718.1 366.7Q1720.8 369.5 1722.7 372.4Q1724.6 375.4 1726.8 378.0L1729.0 380.6" stroke="#f7f6dc" stroke-width="2.9"/><path d="M1727.9 316.7Q1730.5 324.9 1731.8 329.7Q1733.1 334.5 1733.3 337.9Q1733.5 341.2 1732.0 345.3Q1730.5 349.4 1727.9 352.0L1725.3 354.6" stroke="#f7f6dc" stroke-width="2.9"/><path d="M1733.5 341.2Q1736.1 349.4 1739.1 352.7Q1742.0 356.1 1745.4 357.9Q1748.7 359.8 1751.7 360.5L1754.7 361.3" stroke="#f7f6dc" stroke-width="2.9"/><path d="M1741.3 324.1Q1745.7 327.5 1747.2 330.6Q1748.7 333.8 1747.2 336.4Q1745.7 339.0 1747.6 341.8Q1749.5 344.6 1752.1 346.2L1754.7 347.9" stroke="#f7f6dc" stroke-width="2.9"/><path d="M1729.0 380.6Q1733.9 377.3 1735.2 376.0L1736.5 374.7" stroke="#f7f6dc" stroke-width="2.9"/><path d="M1729.0 380.6Q1736.1 383.2 1739.8 382.3Q1743.5 381.4 1746.9 381.9Q1750.2 382.5 1752.4 381.9L1754.7 381.4" stroke="#f7f6dc" stroke-width="2.9"/><path d="M1729.0 380.6Q1727.2 387.3 1726.2 392.5L1725.3 397.7" stroke="#f7f6dc" stroke-width="2.9"/><path d="M1730.5 385.1Q1735.3 389.9 1736.8 393.8L1738.3 397.7" stroke="#f7f6dc" stroke-width="2.9"/><path d="M1698.2 373.9Q1697.4 380.6 1699.3 384.3Q1701.1 388.0 1704.9 391.0Q1708.6 394.0 1711.2 396.2L1713.8 398.4" stroke="#f7f6dc" stroke-width="2.9"/><path d="M1751.7 362.0Q1749.5 368.7 1751.1 372.8Q1752.8 376.9 1753.7 378.0L1754.7 379.1" stroke="#f7f6dc" stroke-width="2.9"/><path d="M1714.5 339.7Q1716.0 345.7 1714.2 347.9Q1712.3 350.1 1709.1 350.3L1706.0 350.5" stroke="#f7f6dc" stroke-width="2.9"/><ellipse cx="1724.2" cy="326.4" rx="5.4" ry="7.2" transform="rotate(-18 1724.2 326.4)" stroke="#f7f6dc" stroke-width="2.2"/><ellipse cx="1724.2" cy="326.4" rx="2.8" ry="4.6" transform="rotate(-18 1724.2 326.4)" fill="#cfa9c6" stroke="#d86ab4" stroke-width="2.3"/><ellipse cx="1711.9" cy="345.7" rx="5.7" ry="5.6" transform="rotate(0 1711.9 345.7)" stroke="#f7f6dc" stroke-width="2.2"/><ellipse cx="1711.9" cy="345.7" rx="3.1" ry="3.0" transform="rotate(0 1711.9 345.7)" fill="#cfa9c6" stroke="#d86ab4" stroke-width="2.3"/><ellipse cx="1749.5" cy="354.6" rx="5.6" ry="5.3" transform="rotate(0 1749.5 354.6)" stroke="#f7f6dc" stroke-width="2.2"/><ellipse cx="1749.5" cy="354.6" rx="3.0" ry="2.7" transform="rotate(0 1749.5 354.6)" fill="#cfa9c6" stroke="#d86ab4" stroke-width="2.3"/><ellipse cx="1742.0" cy="387.3" rx="7.2" ry="5.1" transform="rotate(-12 1742.0 387.3)" stroke="#f7f6dc" stroke-width="2.2"/><ellipse cx="1742.0" cy="387.3" rx="4.6" ry="2.5" transform="rotate(-12 1742.0 387.3)" fill="#cfa9c6" stroke="#d86ab4" stroke-width="2.3"/><circle cx="1729.4" cy="380.6" r="3.4" fill="#f7f6dc" stroke="none"/><circle cx="1729.4" cy="380.6" r="1.7" fill="#d86ab4" stroke="none"/></g>
</g>
<rect x="1695.4" y="317.400" width="58.4" height="79.200" fill="none" stroke="#5a5560" stroke-width="1"/>
<g clip-path="url(#hcr)">
<rect x="1756.3" y="317.400" width="59" height="79.200" fill="#cfa9c6"/>
<path d="M1791.3 317.400h24v36h-24z" fill="#b5a2b8"/>
<g transform="translate(60.9 0)" fill="none" stroke-linecap="round" stroke-linejoin="round"><path d="M1706.7 316.7Q1707.2 324.9 1708.8 329.0Q1710.4 333.0 1712.3 336.2Q1714.2 339.4 1713.2 340.7Q1712.3 342.0 1709.0 342.9Q1705.6 343.8 1703.4 346.2Q1701.1 348.7 1701.5 352.0Q1701.9 355.3 1704.9 357.8Q1707.8 360.2 1711.6 362.0Q1715.3 363.9 1718.1 366.7Q1720.8 369.5 1722.7 372.4Q1724.6 375.4 1726.8 378.0L1729.0 380.6" stroke="#d86ab4" stroke-width="8.6"/><path d="M1727.9 316.7Q1730.5 324.9 1731.8 329.7Q1733.1 334.5 1733.3 337.9Q1733.5 341.2 1732.0 345.3Q1730.5 349.4 1727.9 352.0L1725.3 354.6" stroke="#d86ab4" stroke-width="8.6"/><path d="M1733.5 341.2Q1736.1 349.4 1739.1 352.7Q1742.0 356.1 1745.4 357.9Q1748.7 359.8 1751.7 360.5L1754.7 361.3" stroke="#d86ab4" stroke-width="8.6"/><path d="M1741.3 324.1Q1745.7 327.5 1747.2 330.6Q1748.7 333.8 1747.2 336.4Q1745.7 339.0 1747.6 341.8Q1749.5 344.6 1752.1 346.2L1754.7 347.9" stroke="#d86ab4" stroke-width="8.6"/><path d="M1729.0 380.6Q1733.9 377.3 1735.2 376.0L1736.5 374.7" stroke="#d86ab4" stroke-width="8.6"/><path d="M1729.0 380.6Q1736.1 383.2 1739.8 382.3Q1743.5 381.4 1746.9 381.9Q1750.2 382.5 1752.4 381.9L1754.7 381.4" stroke="#d86ab4" stroke-width="8.6"/><path d="M1729.0 380.6Q1727.2 387.3 1726.2 392.5L1725.3 397.7" stroke="#d86ab4" stroke-width="8.6"/><path d="M1730.5 385.1Q1735.3 389.9 1736.8 393.8L1738.3 397.7" stroke="#d86ab4" stroke-width="8.6"/><path d="M1698.2 373.9Q1697.4 380.6 1699.3 384.3Q1701.1 388.0 1704.9 391.0Q1708.6 394.0 1711.2 396.2L1713.8 398.4" stroke="#d86ab4" stroke-width="8.6"/><path d="M1751.7 362.0Q1749.5 368.7 1751.1 372.8Q1752.8 376.9 1753.7 378.0L1754.7 379.1" stroke="#d86ab4" stroke-width="8.6"/><path d="M1714.5 339.7Q1716.0 345.7 1714.2 347.9Q1712.3 350.1 1709.1 350.3L1706.0 350.5" stroke="#d86ab4" stroke-width="8.6"/><ellipse cx="1724.2" cy="326.4" rx="2.8" ry="4.6" transform="rotate(-18 1724.2 326.4)" stroke="#d86ab4" stroke-width="8.6"/><ellipse cx="1711.9" cy="345.7" rx="3.1" ry="3.0" transform="rotate(0 1711.9 345.7)" stroke="#d86ab4" stroke-width="8.6"/><ellipse cx="1749.5" cy="354.6" rx="3.0" ry="2.7" transform="rotate(0 1749.5 354.6)" stroke="#d86ab4" stroke-width="8.6"/><ellipse cx="1742.0" cy="387.3" rx="4.6" ry="2.5" transform="rotate(-12 1742.0 387.3)" stroke="#d86ab4" stroke-width="8.6"/><ellipse cx="1729.4" cy="380.6" rx="1.3" ry="1.3" transform="rotate(0 1729.4 380.6)" stroke="#d86ab4" stroke-width="8.6"/><path d="M1727.9 316.7Q1730.5 324.9 1731.8 329.7Q1733.1 334.5 1733.3 337.9Q1733.5 341.2 1732.0 345.3Q1730.5 349.4 1727.9 352.0L1725.3 354.6" stroke="#7b5442" stroke-width="8.6" stroke-dasharray="7 6" stroke-linecap="butt"/><path d="M1733.5 341.2Q1736.1 349.4 1739.1 352.7Q1742.0 356.1 1745.4 357.9Q1748.7 359.8 1751.7 360.5L1754.7 361.3" stroke="#7b5442" stroke-width="8.6" stroke-dasharray="18 0" stroke-linecap="butt"/><path d="M1741.3 324.1Q1745.7 327.5 1747.2 330.6Q1748.7 333.8 1747.2 336.4Q1745.7 339.0 1747.6 341.8Q1749.5 344.6 1752.1 346.2L1754.7 347.9" stroke="#7b5442" stroke-width="8.6" stroke-linecap="butt"/><path d="M1729.0 380.6Q1736.1 383.2 1739.8 382.3Q1743.5 381.4 1746.9 381.9Q1750.2 382.5 1752.4 381.9L1754.7 381.4" stroke="#7b5442" stroke-width="8.6" stroke-dasharray="7 5" stroke-linecap="butt"/><path d="M1698.2 373.9Q1697.4 380.6 1699.3 384.3Q1701.1 388.0 1704.9 391.0Q1708.6 394.0 1711.2 396.2L1713.8 398.4" stroke="#7b5442" stroke-width="8.6" stroke-linecap="butt"/><path d="M1751.7 362.0Q1749.5 368.7 1751.1 372.8Q1752.8 376.9 1753.7 378.0L1754.7 379.1" stroke="#7b5442" stroke-width="8.6" stroke-dasharray="6 5" stroke-linecap="butt"/><path d="M1714.5 339.7Q1716.0 345.7 1714.2 347.9Q1712.3 350.1 1709.1 350.3L1706.0 350.5" stroke="#7b5442" stroke-width="8.6" stroke-linecap="butt"/><ellipse cx="1724.2" cy="326.4" rx="2.8" ry="4.6" transform="rotate(-18 1724.2 326.4)" stroke="#7b5442" stroke-width="8.6"/><ellipse cx="1711.9" cy="345.7" rx="3.1" ry="3.0" transform="rotate(0 1711.9 345.7)" stroke="#7b5442" stroke-width="8.6"/><ellipse cx="1742.0" cy="387.3" rx="4.6" ry="2.5" transform="rotate(-12 1742.0 387.3)" stroke="#7b5442" stroke-width="8.6"/><path d="M1706.7 316.7Q1707.2 324.9 1708.8 329.0Q1710.4 333.0 1712.3 336.2Q1714.2 339.4 1713.2 340.7Q1712.3 342.0 1709.0 342.9Q1705.6 343.8 1703.4 346.2Q1701.1 348.7 1701.5 352.0Q1701.9 355.3 1704.9 357.8Q1707.8 360.2 1711.6 362.0Q1715.3 363.9 1718.1 366.7Q1720.8 369.5 1722.7 372.4Q1724.6 375.4 1726.8 378.0L1729.0 380.6" stroke="#f7f6dc" stroke-width="2.9"/><path d="M1727.9 316.7Q1730.5 324.9 1731.8 329.7Q1733.1 334.5 1733.3 337.9Q1733.5 341.2 1732.0 345.3Q1730.5 349.4 1727.9 352.0L1725.3 354.6" stroke="#f7f6dc" stroke-width="2.9"/><path d="M1733.5 341.2Q1736.1 349.4 1739.1 352.7Q1742.0 356.1 1745.4 357.9Q1748.7 359.8 1751.7 360.5L1754.7 361.3" stroke="#f7f6dc" stroke-width="2.9"/><path d="M1741.3 324.1Q1745.7 327.5 1747.2 330.6Q1748.7 333.8 1747.2 336.4Q1745.7 339.0 1747.6 341.8Q1749.5 344.6 1752.1 346.2L1754.7 347.9" stroke="#f7f6dc" stroke-width="2.9"/><path d="M1729.0 380.6Q1733.9 377.3 1735.2 376.0L1736.5 374.7" stroke="#f7f6dc" stroke-width="2.9"/><path d="M1729.0 380.6Q1736.1 383.2 1739.8 382.3Q1743.5 381.4 1746.9 381.9Q1750.2 382.5 1752.4 381.9L1754.7 381.4" stroke="#f7f6dc" stroke-width="2.9"/><path d="M1729.0 380.6Q1727.2 387.3 1726.2 392.5L1725.3 397.7" stroke="#f7f6dc" stroke-width="2.9"/><path d="M1730.5 385.1Q1735.3 389.9 1736.8 393.8L1738.3 397.7" stroke="#f7f6dc" stroke-width="2.9"/><path d="M1698.2 373.9Q1697.4 380.6 1699.3 384.3Q1701.1 388.0 1704.9 391.0Q1708.6 394.0 1711.2 396.2L1713.8 398.4" stroke="#f7f6dc" stroke-width="2.9"/><path d="M1751.7 362.0Q1749.5 368.7 1751.1 372.8Q1752.8 376.9 1753.7 378.0L1754.7 379.1" stroke="#f7f6dc" stroke-width="2.9"/><path d="M1714.5 339.7Q1716.0 345.7 1714.2 347.9Q1712.3 350.1 1709.1 350.3L1706.0 350.5" stroke="#f7f6dc" stroke-width="2.9"/><ellipse cx="1724.2" cy="326.4" rx="5.4" ry="7.2" transform="rotate(-18 1724.2 326.4)" stroke="#f7f6dc" stroke-width="2.2"/><ellipse cx="1724.2" cy="326.4" rx="2.8" ry="4.6" transform="rotate(-18 1724.2 326.4)" fill="#cfa9c6" stroke="#7b5442" stroke-width="2.3"/><ellipse cx="1711.9" cy="345.7" rx="5.7" ry="5.6" transform="rotate(0 1711.9 345.7)" stroke="#f7f6dc" stroke-width="2.2"/><ellipse cx="1711.9" cy="345.7" rx="3.1" ry="3.0" transform="rotate(0 1711.9 345.7)" fill="#cfa9c6" stroke="#7b5442" stroke-width="2.3"/><ellipse cx="1749.5" cy="354.6" rx="5.6" ry="5.3" transform="rotate(0 1749.5 354.6)" stroke="#f7f6dc" stroke-width="2.2"/><ellipse cx="1749.5" cy="354.6" rx="3.0" ry="2.7" transform="rotate(0 1749.5 354.6)" fill="#cfa9c6" stroke="#d86ab4" stroke-width="2.3"/><ellipse cx="1742.0" cy="387.3" rx="7.2" ry="5.1" transform="rotate(-12 1742.0 387.3)" stroke="#f7f6dc" stroke-width="2.2"/><ellipse cx="1742.0" cy="387.3" rx="4.6" ry="2.5" transform="rotate(-12 1742.0 387.3)" fill="#cfa9c6" stroke="#7b5442" stroke-width="2.3"/><circle cx="1729.4" cy="380.6" r="3.4" fill="#f7f6dc" stroke="none"/><circle cx="1729.4" cy="380.6" r="1.7" fill="#d86ab4" stroke="none"/></g>
</g>
<rect x="1756.3" y="317.400" width="58.6" height="79.200" fill="none" stroke="#5a5560" stroke-width="1"/>
</g>
<g>
<path d="M1563 445V545Q1563 549.500 1567.500 549.500H1665Q1669.500 549.500 1669.500 545V445Z" fill="#f5f7fb"/>
<path d="M1563 473.200H1669.500V545Q1669.500 549.500 1665 549.500H1567.500Q1563 549.500 1563 545Z" fill="#f5c1db"/>
<path d="M1563.500 547.500H1669" stroke="#e08ab4" stroke-width="0.800"/>
<path d="M1577.500 444.500H1655.500L1654 526Q1653.500 529.800 1649.500 529.800H1584Q1580 529.800 1579.500 526Z" fill="#f5f7fb"/>
<path d="M1578.400 473.200H1655L1654 526Q1653.500 529.800 1649.500 529.800H1584Q1580 529.800 1579.500 526Z" fill="#f6dce5"/>
<path d="M1578 443.500H1655" stroke="#d5d8dc" stroke-width="1.600"/>
<path d="M1561.800 444V546Q1561.800 551 1567 551H1665.500Q1670.800 551 1670.800 546V444" fill="none" stroke="#8cbfb3" stroke-width="4.600"/>
<path d="M1561.800 444V546Q1561.800 551 1567 551H1665.500Q1670.800 551 1670.800 546V444" fill="none" stroke="#d6f0e9" stroke-width="3.200"/>
<path d="M1558 442.500H1571Q1576 442.500 1576.500 448L1578.500 524Q1579 529.800 1585 529.800H1648.500Q1654.500 529.800 1655 524L1657 448Q1657.500 442.500 1662.500 442.500H1674.800" fill="none" stroke="#8cbfb3" stroke-width="3.600" stroke-linejoin="round"/>
<path d="M1558 442.500H1571Q1576 442.500 1576.500 448L1578.500 524Q1579 529.800 1585 529.800H1648.500Q1654.500 529.800 1655 524L1657 448Q1657.500 442.500 1662.500 442.500H1674.800" fill="none" stroke="#d6f0e9" stroke-width="2.300" stroke-linejoin="round"/>
<path d="M1586 529.800H1648" stroke="#fff" stroke-width="2" stroke-dasharray="2.800 2.900"/>
<circle cx="1592.7" cy="480.7" r="4.100" fill="#b8427c"/><circle cx="1593.0" cy="480.9" r="2.100" fill="#9a2e68"/>
<circle cx="1611.5" cy="480.7" r="4.100" fill="#b8427c"/><circle cx="1611.8" cy="480.9" r="2.100" fill="#9a2e68"/>
<circle cx="1636.1" cy="480.7" r="4.100" fill="#b8427c"/><circle cx="1636.4" cy="480.9" r="2.100" fill="#9a2e68"/>
<circle cx="1588.7" cy="495.5" r="4.100" fill="#b8427c"/><circle cx="1589.0" cy="495.7" r="2.100" fill="#9a2e68"/>
<circle cx="1601.7" cy="498.4" r="4.100" fill="#b8427c"/><circle cx="1602.0" cy="498.6" r="2.100" fill="#9a2e68"/>
<circle cx="1615.0" cy="495.1" r="4.100" fill="#b8427c"/><circle cx="1615.3" cy="495.3" r="2.100" fill="#9a2e68"/>
<circle cx="1630.4" cy="493.4" r="4.100" fill="#b8427c"/><circle cx="1630.7" cy="493.6" r="2.100" fill="#9a2e68"/>
<circle cx="1645.3" cy="493.4" r="4.100" fill="#b8427c"/><circle cx="1645.6" cy="493.6" r="2.100" fill="#9a2e68"/>
<circle cx="1597.5" cy="509.4" r="4.100" fill="#b8427c"/><circle cx="1597.8" cy="509.6" r="2.100" fill="#9a2e68"/>
<circle cx="1616.0" cy="509.0" r="4.100" fill="#b8427c"/><circle cx="1616.3" cy="509.2" r="2.100" fill="#9a2e68"/>
<circle cx="1633.5" cy="509.4" r="4.100" fill="#b8427c"/><circle cx="1633.8" cy="509.6" r="2.100" fill="#9a2e68"/>
<circle cx="1587.5" cy="516.9" r="4.100" fill="#b8427c"/><circle cx="1587.8" cy="517.1" r="2.100" fill="#9a2e68"/>
<circle cx="1605.9" cy="519.5" r="4.100" fill="#b8427c"/><circle cx="1606.2" cy="519.7" r="2.100" fill="#9a2e68"/>
<circle cx="1624.6" cy="519.5" r="4.100" fill="#b8427c"/><circle cx="1624.9" cy="519.7" r="2.100" fill="#9a2e68"/>
<circle cx="1643.6" cy="519.5" r="4.100" fill="#b8427c"/><circle cx="1643.9" cy="519.7" r="2.100" fill="#9a2e68"/>
</g>
<g>
<defs><linearGradient id="cone" x1="0" y1="1" x2="1" y2="0"><stop offset="0" stop-color="#e9b3b0"/><stop offset="1" stop-color="#f7e4e3"/></linearGradient></defs>
<path d="M1750.2 475.7L1751.4 498.5L1777.2 496.9L1757.8 488.3Z" fill="url(#cone)"/>
<circle cx="1780.3" cy="466.4" r="30.2" fill="#fbf5f4" stroke="#c17570" stroke-width="1.1"/>
<path d="M1767.5 446.0Q1769.4 444.6 1773.3 445.3Q1777.2 446.0 1781.1 445.4Q1785.0 444.8 1789.6 446.5Q1794.2 448.3 1798.4 452.2Q1802.7 456.0 1801.5 459.1Q1800.3 462.1 1802.0 464.6Q1803.6 467.1 1801.5 470.2Q1799.4 473.3 1797.5 478.1Q1795.7 483.0 1792.7 484.9Q1789.6 486.9 1784.4 487.7Q1779.1 488.5 1774.8 487.1Q1770.4 485.6 1766.9 483.2Q1763.4 480.7 1761.5 476.3Q1759.5 471.8 1758.6 466.9Q1757.8 462.1 1759.2 457.7Q1760.7 453.3 1763.1 450.4Q1765.5 447.5 1767.5 446.0Z" fill="#cf776d"/>
<path d="M1761.2 459.6Q1760.7 454.3 1764.1 449.9Q1767.5 445.6 1768.9 447.5Q1770.4 449.4 1767.5 453.8Q1764.6 458.2 1763.1 461.6Q1761.6 465.0 1761.2 459.6Z" fill="#a9544a"/>
<path d="M1787.9 451.9Q1786.9 449.4 1791.8 450.9Q1796.6 452.4 1799.1 455.3Q1801.5 458.2 1798.1 457.7Q1794.7 457.2 1791.8 455.8Q1788.9 454.3 1787.9 451.9Z" fill="#b9645a"/>
<path d="M1780.1 479.1Q1781.1 475.7 1785.0 474.2Q1788.9 472.8 1790.3 475.7Q1791.8 478.6 1788.4 481.5Q1785.0 484.4 1782.1 483.5Q1779.1 482.5 1780.1 479.1Z" fill="#a9544a"/>
<path d="M1770.6 453.2Q1768.0 450.9 1770.6 449.2Q1773.3 447.5 1778.2 448.5Q1783.0 449.4 1786.4 450.7Q1789.8 451.9 1786.4 453.1Q1783.0 454.3 1778.2 454.9Q1773.3 455.5 1770.6 453.2Z" fill="#e9a59c"/>
<path d="M1765.5 461.6Q1764.6 459.2 1768.9 459.2Q1773.3 459.2 1778.2 461.1Q1783.0 463.0 1785.9 467.4Q1788.9 471.8 1785.0 471.3Q1781.1 470.8 1776.7 469.9Q1772.3 468.9 1769.4 466.5Q1766.5 464.0 1765.5 461.6Z" fill="#e7a097"/>
<path d="M1790.3 462.1Q1789.8 459.2 1793.7 460.1Q1797.6 461.1 1799.1 464.5Q1800.5 467.9 1798.6 472.3Q1796.6 476.7 1794.7 473.7Q1792.8 470.8 1791.8 467.9Q1790.8 465.0 1790.3 462.1Z" fill="#e9a59c"/>
<path d="M1764.6 476.7Q1762.6 473.7 1767.0 473.3Q1771.4 472.8 1776.2 475.2Q1781.1 477.6 1783.0 479.8Q1785.0 482.0 1780.1 482.2Q1775.3 482.5 1770.9 481.0Q1766.5 479.6 1764.6 476.7Z" fill="#e39a91"/>
<path d="M1784.0 486.9Q1778.2 487.3 1782.1 485.2Q1785.9 483.0 1790.3 481.8Q1794.7 480.5 1792.3 483.5Q1789.8 486.4 1784.0 486.9Z" fill="#dc8d84"/>
<ellipse cx="1773.8" cy="450.9" rx="3.1" ry="2.1" fill="#cf6e63"/>
<ellipse cx="1777.2" cy="465.5" rx="3.7" ry="2.9" fill="#cf6e63"/>
<ellipse cx="1795.2" cy="466.5" rx="2.5" ry="3.5" fill="#cf6e63"/>
<ellipse cx="1771.9" cy="477.6" rx="2.9" ry="2.3" fill="#cf6e63"/>
<path d="M1768.0 456.4L1772.3 456.2L1771.4 459.2Z" fill="#fbf5f4"/>
<path d="M1780.1 455.1L1784.5 456.4L1782.1 457.7Z" fill="#fbf5f4"/>
<path d="M1772.3 472.8L1776.2 473.7L1773.3 474.9Z" fill="#fbf5f4"/>
<path d="M1689.5 551.0Q1704.3 546.2 1711.6 545.3Q1718.9 544.5 1728.6 544.2Q1738.3 543.9 1748.0 543.6L1757.8 543.2" fill="none" stroke="#dba5a0" stroke-width="2.6" stroke-linecap="round"/>
<path d="M1689.2 551.2Q1696.5 548.4 1700.9 547.2L1705.3 546.1" fill="none" stroke="#dba5a0" stroke-width="1.4" stroke-linecap="round"/>
<path d="M1806.4 539.4Q1805.4 535.9 1807.8 535.5Q1810.2 535.0 1810.7 539.8Q1811.2 544.7 1812.4 546.2Q1813.7 547.6 1811.9 548.5Q1810.2 549.4 1808.5 548.7Q1806.8 548.1 1807.1 545.4Q1807.3 542.8 1806.4 539.4Z" fill="#d9a39d"/>
<path d="M1757.1 534.5Q1757.8 532.1 1760.2 527.2Q1762.6 522.3 1767.5 518.5Q1772.3 514.8 1778.7 513.3Q1785.0 511.9 1790.8 512.7Q1796.6 513.4 1801.5 515.4Q1806.4 517.5 1808.5 522.3Q1810.7 527.2 1808.5 531.3Q1806.4 535.5 1804.5 538.6Q1802.7 541.8 1801.6 544.5Q1800.5 547.1 1797.6 547.5Q1794.7 547.8 1788.4 550.2Q1782.1 552.7 1775.7 553.4Q1769.4 554.1 1765.0 552.4Q1760.5 550.7 1758.5 546.8Q1756.6 542.9 1756.5 539.9Q1756.4 536.9 1757.1 534.5Z" fill="#e4b6b0"/>
<path d="M1757.3 541.1Q1757.8 538.9 1760.7 541.8Q1763.6 544.7 1768.5 545.7Q1773.3 546.6 1778.2 545.7Q1783.0 544.7 1785.9 542.3Q1788.9 539.8 1787.9 544.2Q1786.9 548.6 1782.1 550.9Q1777.2 553.3 1772.3 553.5Q1767.5 553.8 1764.0 552.2Q1760.5 550.5 1758.6 546.9Q1756.8 543.2 1757.3 541.1Z" fill="#d7a09a"/>
<path d="M1760.7 528.2Q1767.5 533.0 1768.5 537.4L1769.4 541.8M1767.5 521.4Q1775.3 527.2 1776.2 532.1L1777.2 536.9M1777.2 516.5Q1784.0 523.3 1785.0 528.2L1785.9 533.0M1787.9 514.6Q1792.8 522.3 1793.2 526.7L1793.7 531.1M1796.6 515.5Q1800.5 523.3 1800.0 527.2L1799.6 531.1" fill="none" stroke="#cd958f" stroke-width="0.9"/>
<path d="M1806.8 523.1Q1805.4 518.0 1808.3 514.3Q1811.2 510.7 1815.1 509.4Q1819.0 508.1 1823.4 509.3Q1827.7 510.5 1830.6 513.0Q1833.4 515.5 1831.8 518.0Q1830.2 520.4 1825.8 521.9Q1821.4 523.3 1817.8 524.9Q1814.1 526.4 1811.2 527.3Q1808.3 528.2 1806.8 523.1Z" fill="#e4b6b0"/>
<path d="M1803.9 521.4Q1803.4 519.4 1806.4 518.5Q1809.3 517.5 1810.7 519.4Q1812.2 521.4 1810.2 523.1Q1808.3 524.8 1806.4 524.0Q1804.4 523.3 1803.9 521.4Z" fill="#d7a09a"/>
<ellipse cx="1803.0" cy="508.9" rx="6.2" ry="9" transform="rotate(-24 1803.0 508.9)" fill="#e0aca6"/>
<ellipse cx="1804.2" cy="510.2" rx="3.6" ry="6.6" transform="rotate(-24 1804.2 510.2)" fill="#eccac5"/>
<ellipse cx="1819.3" cy="511.5" rx="1.6" ry="1.2" fill="#1a1a1a"/>
<path d="M1799.6 541.3Q1799.1 535.9 1802.2 535.5Q1805.4 535.0 1805.1 539.8Q1804.9 544.7 1805.9 547.4Q1806.8 550.0 1806.1 551.4Q1805.4 552.7 1803.0 552.5Q1800.5 552.3 1800.3 549.5Q1800.0 546.6 1799.6 541.3Z" fill="#e4b6b0"/>
<g transform="translate(1719.4 470.8) rotate(45)">
<ellipse cx="0" cy="0" rx="1.3" ry="4.2" fill="#f4f4f4" stroke="#b5b5b5" stroke-width="0.6"/>
<rect x="1" y="-1.4" width="17" height="2.8" fill="#f1f1f1" stroke="#b8b8b8" stroke-width="0.5"/>
<rect x="15.6" y="-5.6" width="2.6" height="11.2" rx="1.2" fill="#f0f0f0" stroke="#b0b0b0" stroke-width="0.6"/>
<rect x="18" y="-3" width="18.6" height="6" fill="#ecefef" stroke="#aeb2b2" stroke-width="0.6"/>
<rect x="18.4" y="-0.4" width="17.8" height="3" fill="#d4d8d8"/>
<rect x="35.4" y="-3" width="2.4" height="6" fill="#3a3a3a"/>
<rect x="37.8" y="-3" width="12.2" height="6" rx="1.2" fill="#c9575e" stroke="#a0434a" stroke-width="0.5"/>
<path d="M50 -1.600L56.500 -0.500V0.500L50 1.600Z" fill="#3fae8a"/>
<path d="M56.500 0H70" stroke="#6a6a6a" stroke-width="0.700"/>
</g>
</g>
</g>
<!-- 06_panelB.svg -->
<g id="panelB">
<text x="4" y="692.8" class="b" font-size="44">B</text>
<text x="71.2" y="712.8" class="b" font-size="32.0" word-spacing="2.8">m</text>
<text x="99.8" y="702.4" class="b" font-size="15.5" word-spacing="2.8">5</text>
<text x="109.5" y="712.8" class="b" font-size="32.0" word-spacing="2.8">C density (×10</text>
<text x="334.6" y="701.6" class="b" font-size="15.5" word-spacing="2.8">-6</text>
<text x="349.5" y="712.8" class="b" font-size="32.0" word-spacing="2.8">)</text>
<path d="M164.6 926.1V948.4M164.6 1055.6V1066.0M147.4 926.1H182.0M147.4 1066.0H182.0" fill="none" stroke="#4f8a84" stroke-width="4.9" stroke-linecap="round"/>
<rect x="133.1" y="950.4" width="63.2" height="103.1" fill="#dde9e6" stroke="#4f8a84" stroke-width="4.9"/>
<path d="M130.4 992.8H198.9" stroke="#4f8a84" stroke-width="4.9" stroke-linecap="round"/>
<path d="M265.9 803.9V823.6M265.9 1009.9V1031.1M248.2 803.9H283.7M248.2 1031.1H283.7" fill="none" stroke="#4f8a84" stroke-width="4.9" stroke-linecap="round"/>
<rect x="234.4" y="825.6" width="63.2" height="182.2" fill="#dde9e6" stroke="#4f8a84" stroke-width="4.9"/>
<path d="M231.7 942.6H300.2" stroke="#4f8a84" stroke-width="4.9" stroke-linecap="round"/>
<path d="M97.2 799.5V1068.2H337.6" fill="none" stroke="#000" stroke-width="4.9" stroke-linecap="round" stroke-linejoin="miter"/>
<path d="M97.2 1068.2V1070.8" fill="none" stroke="#000" stroke-width="4.9" stroke-linecap="round"/>
<text transform="translate(67.9 813.6) scale(0.93 1)" class="b" font-size="31.8" text-anchor="end">6</text>
<text transform="translate(67.9 879.5) scale(0.93 1)" class="b" font-size="31.8" text-anchor="end">5</text>
<text transform="translate(67.9 946.6) scale(0.93 1)" class="b" font-size="31.8" text-anchor="end">4</text>
<text transform="translate(67.9 1013.3) scale(0.93 1)" class="b" font-size="31.8" text-anchor="end">3</text>
<text transform="translate(67.9 1080.0) scale(0.93 1)" class="b" font-size="31.8" text-anchor="end">2</text>
<path d="M76.9 801.8H97.2M76.9 867.7H97.2M76.9 934.8H97.2M76.9 1001.5H97.2M76.9 1068.2H97.2M164.7 1068.2V1086.9M265.5 1068.2V1086.9" fill="none" stroke="#000" stroke-width="4.9" stroke-linecap="round"/>
<text x="157.5" y="1110.6" font-size="30.2" text-anchor="middle">Control</text>
<text x="284.0" y="1110.6" font-size="30.2" text-anchor="middle">Cancer</text>
<path d="M163.0 768.4H264.3" stroke="#1d1212" stroke-width="4" stroke-linecap="round"/>
<text x="212.9" y="765.3" font-size="36.2" class="b" text-anchor="middle" style="font-family:'DejaVu Sans','Liberation Sans',sans-serif">*</text>
<text x="428.3" y="712.8" class="b" font-size="32.0" word-spacing="2.8">m</text>
<text x="456.9" y="702.4" class="b" font-size="15.5" word-spacing="2.8">5</text>
<text x="466.6" y="712.8" class="b" font-size="32.0" word-spacing="2.8">C sites (×10</text>
<text x="652.6" y="701.6" class="b" font-size="15.5" word-spacing="2.8">3</text>
<text x="662.4" y="712.8" class="b" font-size="32.0" word-spacing="2.8">)</text>
<path d="M512.1 898.5V912.1M512.1 979.0V985.0M495.7 898.5H528.6M495.7 985.0H528.6" fill="none" stroke="#ff2a1a" stroke-width="4.9" stroke-linecap="round"/>
<rect x="482.2" y="914.1" width="59.8" height="62.8" fill="#f4cdd2" stroke="#ff2a1a" stroke-width="4.9"/>
<path d="M479.6 939.3H544.7" stroke="#ff2a1a" stroke-width="4.9" stroke-linecap="round"/>
<path d="M606.8 823.2V834.7M606.8 950.2V963.2M590.4 823.2H623.3M590.4 963.2H623.3" fill="none" stroke="#ff2a1a" stroke-width="4.9" stroke-linecap="round"/>
<rect x="576.8" y="836.8" width="59.9" height="111.4" fill="#f4cdd2" stroke="#ff2a1a" stroke-width="4.9"/>
<path d="M574.2 908.4H639.4" stroke="#ff2a1a" stroke-width="4.9" stroke-linecap="round"/>
<path d="M449.2 799.5V1068.2H674.0" fill="none" stroke="#000" stroke-width="4.9" stroke-linecap="round" stroke-linejoin="miter"/>
<path d="M449.2 1068.2V1070.8" fill="none" stroke="#000" stroke-width="4.9" stroke-linecap="round"/>
<text transform="translate(421.5 815.2) scale(0.93 1)" class="b" font-size="31.8" text-anchor="end">20</text>
<text transform="translate(421.5 881.1) scale(0.93 1)" class="b" font-size="31.8" text-anchor="end">15</text>
<text transform="translate(421.5 947.4) scale(0.93 1)" class="b" font-size="31.8" text-anchor="end">10</text>
<text transform="translate(421.5 1013.7) scale(0.93 1)" class="b" font-size="31.8" text-anchor="end">5</text>
<text transform="translate(421.5 1080.0) scale(0.93 1)" class="b" font-size="31.8" text-anchor="end">0</text>
<path d="M428.9 803.4H449.2M428.9 869.3H449.2M428.9 935.6H449.2M428.9 1001.9H449.2M428.9 1068.2H449.2M511.7 1068.2V1086.9M606.0 1068.2V1086.9" fill="none" stroke="#000" stroke-width="4.9" stroke-linecap="round"/>
<text x="491.1" y="1110.6" font-size="30.2" text-anchor="middle">Control</text>
<text x="618.0" y="1110.6" font-size="30.2" text-anchor="middle">Cancer</text>
<path d="M510.2 768.4H611.6" stroke="#1d1212" stroke-width="4" stroke-linecap="round"/>
<text x="559.9" y="765.3" font-size="36.2" class="b" text-anchor="middle" style="font-family:'DejaVu Sans','Liberation Sans',sans-serif">*</text>
<text x="766.0" y="712.8" class="b" font-size="32.0" word-spacing="2.8">m</text>
<text x="794.6" y="702.4" class="b" font-size="15.5" word-spacing="2.8">5</text>
<text x="804.3" y="712.8" class="b" font-size="32.0" word-spacing="2.8">C genes (×10</text>
<text x="1009.8" y="701.6" class="b" font-size="15.5" word-spacing="2.8">3</text>
<text x="1019.6" y="712.8" class="b" font-size="32.0" word-spacing="2.8">)</text>
<path d="M852.8 956.2V958.6M852.8 1017.3V1022.9M835.0 956.2H870.5M835.0 1022.9H870.5" fill="none" stroke="#e6823a" stroke-width="4.9" stroke-linecap="round"/>
<rect x="820.7" y="960.6" width="64.0" height="54.6" fill="#f4e6d8" stroke="#e6823a" stroke-width="4.9"/>
<path d="M818.1 989.9H887.4" stroke="#e6823a" stroke-width="4.9" stroke-linecap="round"/>
<path d="M954.5 848.7V941.0M954.5 980.2V994.0M937.1 848.7H972.1M937.1 994.0H972.1" fill="none" stroke="#e6823a" stroke-width="4.9" stroke-linecap="round"/>
<rect x="922.4" y="943.0" width="64.0" height="35.1" fill="#f4e6d8" stroke="#e6823a" stroke-width="4.9"/>
<path d="M919.8 951.2H989.1" stroke="#e6823a" stroke-width="4.9" stroke-linecap="round"/>
<path d="M785.7 799.5V1068.2H1026.5" fill="none" stroke="#000" stroke-width="4.9" stroke-linecap="round" stroke-linejoin="miter"/>
<path d="M785.7 1068.2V1070.8" fill="none" stroke="#000" stroke-width="4.9" stroke-linecap="round"/>
<text transform="translate(757.5 813.6) scale(0.93 1)" class="b" font-size="31.8" text-anchor="end">3</text>
<text transform="translate(757.5 902.1) scale(0.93 1)" class="b" font-size="31.8" text-anchor="end">2</text>
<text transform="translate(757.5 991.4) scale(0.93 1)" class="b" font-size="31.8" text-anchor="end">1</text>
<text transform="translate(757.5 1080.0) scale(0.93 1)" class="b" font-size="31.8" text-anchor="end">0</text>
<path d="M765.4 801.8H785.7M765.4 890.3H785.7M765.4 979.6H785.7M765.4 1068.2H785.7M852.7 1068.2V1086.9M954.4 1068.2V1086.9" fill="none" stroke="#000" stroke-width="4.9" stroke-linecap="round"/>
<text x="832.6" y="1110.6" font-size="30.2" text-anchor="middle">Control</text>
<text x="959.0" y="1110.6" font-size="30.2" text-anchor="middle">Cancer</text>
<path d="M844.7 768.4H958.4" stroke="#1d1212" stroke-width="4" stroke-linecap="round"/>
<text x="900.9" y="765.3" font-size="36.2" class="b" text-anchor="middle" style="font-family:'DejaVu Sans','Liberation Sans',sans-serif">*</text>
<text x="1158.2" y="712.8" class="b" font-size="32.0" word-spacing="2.8">m</text>
<text x="1186.8" y="702.4" class="b" font-size="15.5" word-spacing="2.8">5</text>
<text x="1196.5" y="712.8" class="b" font-size="32.0" word-spacing="2.8">C genes (%)</text>
<path d="M1232.5 956.2V958.6M1232.5 1017.3V1022.9M1215.0 956.2H1250.0M1215.0 1022.9H1250.0" fill="none" stroke="#7fb3d8" stroke-width="4.9" stroke-linecap="round"/>
<rect x="1200.3" y="960.6" width="64.4" height="54.6" fill="#e6eff7" stroke="#7fb3d8" stroke-width="4.9"/>
<path d="M1197.7 989.5H1267.4" stroke="#7fb3d8" stroke-width="4.9" stroke-linecap="round"/>
<path d="M1334.2 847.5V940.1M1334.2 980.2V993.2M1316.7 847.5H1352.1M1316.7 993.2H1352.1" fill="none" stroke="#7fb3d8" stroke-width="4.9" stroke-linecap="round"/>
<rect x="1302.4" y="942.1" width="63.6" height="36.0" fill="#e6eff7" stroke="#7fb3d8" stroke-width="4.9"/>
<path d="M1299.8 951.2H1368.7" stroke="#7fb3d8" stroke-width="4.9" stroke-linecap="round"/>
<path d="M1165.7 803.6V1068.2H1406.0" fill="none" stroke="#000" stroke-width="4.9" stroke-linecap="round" stroke-linejoin="miter"/>
<path d="M1165.7 1068.2V1070.8" fill="none" stroke="#000" stroke-width="4.9" stroke-linecap="round"/>
<text transform="translate(1137.0 817.3) scale(0.93 1)" class="b" font-size="31.8" text-anchor="end">5</text>
<text transform="translate(1137.0 869.2) scale(0.93 1)" class="b" font-size="31.8" text-anchor="end">4</text>
<text transform="translate(1137.0 922.3) scale(0.93 1)" class="b" font-size="31.8" text-anchor="end">3</text>
<text transform="translate(1137.0 975.0) scale(0.93 1)" class="b" font-size="31.8" text-anchor="end">2</text>
<text transform="translate(1137.0 1027.3) scale(0.93 1)" class="b" font-size="31.8" text-anchor="end">1</text>
<text transform="translate(1137.0 1080.0) scale(0.93 1)" class="b" font-size="31.8" text-anchor="end">0</text>
<path d="M1145.4 805.5H1165.7M1145.4 857.4H1165.7M1145.4 910.5H1165.7M1145.4 963.2H1165.7M1145.4 1015.5H1165.7M1145.4 1068.2H1165.7M1232.3 1068.2V1086.9M1334.0 1068.2V1086.9" fill="none" stroke="#000" stroke-width="4.9" stroke-linecap="round"/>
<text x="1214.6" y="1110.6" font-size="30.2" text-anchor="middle">Control</text>
<text x="1341.0" y="1110.6" font-size="30.2" text-anchor="middle">Cancer</text>
<path d="M1232.9 768.4H1333.4" stroke="#1d1212" stroke-width="4" stroke-linecap="round"/>
<text x="1282.5" y="765.3" font-size="36.2" class="b" text-anchor="middle" style="font-family:'DejaVu Sans','Liberation Sans',sans-serif">*</text>
</g>
<!-- 07_panelC.svg -->
<g id="panelC">
<text x="1502" y="692.8" class="b" font-size="44">C</text>
<text x="1615.6" y="717.8" class="b" font-size="32">m</text>
<text x="1644.2" y="707.4" class="b" font-size="15.5">5</text>
<text x="1653.9" y="717.8" class="b" font-size="32.5" word-spacing="2.8">C methRate</text>
<path d="M1649.0 1067.5L1718.0 1067.5L1718.0 1067.5Q1728.5 1065.5 1735.0 1063.8Q1741.5 1062.0 1746.5 1060.5Q1751.5 1059.0 1752.9 1058.0Q1754.3 1057.0 1752.4 1056.0Q1750.5 1055.0 1744.5 1053.3Q1738.5 1051.6 1730.0 1049.5Q1721.5 1047.5 1714.5 1044.9Q1707.5 1042.3 1702.5 1039.2Q1697.5 1036.2 1695.2 1033.1Q1692.8 1030.0 1690.9 1023.8Q1689.1 1017.6 1688.1 1009.4Q1687.1 1001.2 1686.5 990.9Q1686.0 980.6 1685.7 970.3Q1685.4 960.0 1685.1 942.0Q1684.8 924.0 1684.5 907.0Q1684.3 890.0 1684.1 882.4L1683.9 874.7L1683.1 874.7Q1682.7 890.0 1682.5 907.0Q1682.2 924.0 1681.9 942.0Q1681.6 960.0 1681.3 970.3Q1681.0 980.6 1680.5 990.9Q1679.9 1001.2 1678.9 1009.4Q1677.9 1017.6 1676.1 1023.8Q1674.2 1030.0 1671.8 1033.1Q1669.5 1036.2 1664.5 1039.2Q1659.5 1042.3 1652.5 1044.9Q1645.5 1047.5 1637.0 1049.5Q1628.5 1051.6 1622.5 1053.3Q1616.5 1055.0 1614.6 1056.0Q1612.7 1057.0 1614.1 1058.0Q1615.5 1059.0 1620.5 1060.5Q1625.5 1062.0 1632.0 1063.8Q1638.5 1065.5 1643.8 1066.5L1649.0 1067.5Z" fill="#8fd0b4" stroke="#333" stroke-width="2.2" stroke-linejoin="round"/>
<path d="M1810.7 1067.5L1869.3 1067.5L1869.3 1067.5Q1876.0 1065.5 1880.0 1064.0Q1884.0 1062.5 1886.0 1061.0Q1888.0 1059.5 1888.3 1058.7Q1888.7 1057.8 1887.8 1056.7Q1887.0 1055.5 1883.8 1053.5Q1880.5 1051.6 1874.2 1049.0Q1868.0 1046.5 1862.8 1043.4Q1857.7 1040.3 1855.1 1037.2Q1852.5 1034.0 1850.9 1028.0Q1849.3 1022.0 1848.3 1016.8Q1847.4 1011.5 1846.0 996.0Q1844.6 980.6 1844.0 970.3Q1843.4 960.0 1843.0 945.0Q1842.6 930.0 1842.2 913.9Q1841.9 897.8 1841.5 878.9Q1841.1 860.0 1840.8 842.8L1840.4 825.5L1839.6 825.5Q1838.9 860.0 1838.5 878.9Q1838.1 897.8 1837.8 913.9Q1837.4 930.0 1837.0 945.0Q1836.6 960.0 1836.0 970.3Q1835.4 980.6 1834.0 996.0Q1832.6 1011.5 1831.7 1016.8Q1830.7 1022.0 1829.1 1028.0Q1827.5 1034.0 1824.9 1037.2Q1822.3 1040.3 1817.2 1043.4Q1812.0 1046.5 1805.8 1049.0Q1799.5 1051.6 1796.2 1053.5Q1793.0 1055.5 1792.2 1056.7Q1791.3 1057.8 1791.7 1058.7Q1792.0 1059.5 1794.0 1061.0Q1796.0 1062.5 1800.0 1064.0Q1804.0 1065.5 1807.3 1066.5L1810.7 1067.5Z" fill="#ef9a94" stroke="#333" stroke-width="2.2" stroke-linejoin="round"/>
<path d="M1683.5 930V1067.5" stroke="#3a9a6c" stroke-width="1.5"/>
<path d="M1683.5 880V930" stroke="#6fc7a4" stroke-width="0.8"/>
<rect x="1672.2" y="1035.5" width="23.5" height="23.3" fill="#e8f5ee" stroke="#3a9a6c" stroke-width="2"/>
<path d="M1671.2 1050.5H1696.7" stroke="#3a9a6c" stroke-width="3.6"/>
<path d="M1840 934V1067.5" stroke="#e8392c" stroke-width="1.6"/>
<path d="M1840 860V934" stroke="#ee8a80" stroke-width="0.9"/>
<rect x="1828.6" y="1009.8" width="23.100" height="49" fill="#f4e8e6" stroke="#e8392c" stroke-width="2"/>
<path d="M1827.6 1050.5H1852.7" stroke="#e8392c" stroke-width="3.8"/>
<path d="M1589.7 764.2V1082" stroke="#000" stroke-width="3.4" fill="none"/>
<path d="M1588 1081.6H1934.500" stroke="#000" stroke-width="4.6" fill="none"/>
<path d="M1584.2 802.6H1588.500" stroke="#333" stroke-width="3.6"/>
<text x="1577.6" y="813.5" font-size="30.6" text-anchor="end">0.3</text>
<path d="M1584.2 891.2H1588.500" stroke="#333" stroke-width="3.6"/>
<text x="1577.6" y="902.1" font-size="30.6" text-anchor="end">0.2</text>
<path d="M1584.2 980.0H1588.500" stroke="#333" stroke-width="3.6"/>
<text x="1577.6" y="990.9" font-size="30.6" text-anchor="end">0.1</text>
<path d="M1584.2 1068.5H1588.500" stroke="#333" stroke-width="3.6"/>
<text x="1577.6" y="1079.4" font-size="30.6" text-anchor="end">0.0</text>
<path d="M1683.3 1083.5V1087.400" stroke="#444" stroke-width="3.6"/>
<path d="M1840.0 1083.5V1087.400" stroke="#444" stroke-width="3.6"/>
<text x="1678.8" y="1108.6" font-size="30.3" text-anchor="middle">Control</text>
<text x="1840.8" y="1108.6" font-size="30.1" text-anchor="middle">Cancer</text>
<path d="M1684.3 790H1838.500" stroke="#1d1212" stroke-width="3.7" stroke-linecap="round"/>
<text x="1761.800" y="792.1" font-size="39" class="b" text-anchor="middle" letter-spacing="3.3" style="font-family:'DejaVu Sans','Liberation Sans',sans-serif">***</text>
</g>
<!-- 08_panelD.svg -->
<g id="panelD">
<text x="2.7" y="1213.8" class="b" font-size="44">D</text>
<text x="201.2" y="1252" class="b" font-size="35.3" text-anchor="middle">Control</text>
<text x="561.6" y="1252" class="b" font-size="35.3" text-anchor="middle">Cancer</text>
<path d="M201.50 1495.90L201.50 1320.10A175.80 175.80 0 0 1 227.53 1322.04Z" fill="#5ea8f8" stroke="#5ea8f8" stroke-width="0.5" stroke-linejoin="round"/>
<path d="M201.50 1495.90L227.53 1322.04A175.80 175.80 0 0 1 317.44 1363.75Z" fill="#ee9c48" stroke="#ee9c48" stroke-width="0.5" stroke-linejoin="round"/>
<path d="M201.50 1495.90L317.44 1363.75A175.80 175.80 0 0 1 371.13 1542.07Z" fill="#f8585c" stroke="#f8585c" stroke-width="0.5" stroke-linejoin="round"/>
<path d="M201.50 1495.90L371.13 1542.07A175.80 175.80 0 1 1 201.50 1320.10Z" fill="#76a59e" stroke="#76a59e" stroke-width="0.5" stroke-linejoin="round"/>
<path d="M201.50 1495.90L201.50 1320.10M201.50 1495.90L227.53 1322.04M201.50 1495.90L317.44 1363.75M201.50 1495.90L371.13 1542.07" stroke="#ffffff" stroke-opacity="0.55" stroke-width="0.7" fill="none"/>
<path d="M560.60 1495.90L560.60 1320.10A175.80 175.80 0 0 1 596.22 1323.75Z" fill="#5ea8f8" stroke="#5ea8f8" stroke-width="0.5" stroke-linejoin="round"/>
<path d="M560.60 1495.90L596.22 1323.75A175.80 175.80 0 0 1 675.14 1362.54Z" fill="#ee9c48" stroke="#ee9c48" stroke-width="0.5" stroke-linejoin="round"/>
<path d="M560.60 1495.90L675.14 1362.54A175.80 175.80 0 0 1 736.32 1490.57Z" fill="#f8585c" stroke="#f8585c" stroke-width="0.5" stroke-linejoin="round"/>
<path d="M560.60 1495.90L736.32 1490.57A175.80 175.80 0 1 1 560.60 1320.10Z" fill="#76a59e" stroke="#76a59e" stroke-width="0.5" stroke-linejoin="round"/>
<path d="M560.60 1495.90L560.60 1320.10M560.60 1495.90L596.22 1323.75M560.60 1495.90L675.14 1362.54M560.60 1495.90L736.32 1490.57" stroke="#ffffff" stroke-opacity="0.55" stroke-width="0.7" fill="none"/>
<path d="M219.8 1299.8L213.1 1346.6M581.5 1297.8L575.6 1342.4" stroke="#111" stroke-width="2.3" fill="none"/>
<text x="223.3" y="1293.4" class="b" font-size="30.6" text-anchor="middle">39</text>
<text x="254.1" y="1399.8" class="b" font-size="30.6" text-anchor="middle">150</text>
<text x="302.3" y="1479.5" class="b" font-size="30.6" text-anchor="middle">293</text>
<text x="123.6" y="1535.9" class="b" font-size="30.6" text-anchor="middle">1167</text>
<text x="581.8" y="1288.9" class="b" font-size="30.6" text-anchor="middle">69</text>
<text x="613.5" y="1401.0" class="b" font-size="30.6" text-anchor="middle">171</text>
<text x="653.5" y="1460.7" class="b" font-size="30.6" text-anchor="middle">281</text>
<text x="480.5" y="1538.6" class="b" font-size="30.6" text-anchor="middle">1604</text>
<rect x="752.4" y="1524.6" width="29.600" height="11.300" fill="#5ea8f8"/>
<text x="791.8" y="1539.9" font-size="30.1">5’UTR</text>
<rect x="752.4" y="1558.2" width="29.600" height="11.300" fill="#ee9c48"/>
<text x="791.8" y="1573.5" font-size="30.1">3’UTR</text>
<rect x="752.4" y="1591.6" width="29.600" height="11.300" fill="#f8585c"/>
<text x="791.8" y="1606.9" font-size="30.1">Intron</text>
<rect x="752.4" y="1624.7" width="29.600" height="11.300" fill="#76a59e"/>
<text x="791.8" y="1640.0" font-size="30.1">CDS</text>
</g>
<!-- 09_panelE.svg -->
<g id="panelE">
<text x="965.2" y="1214.1" class="b" font-size="44">E</text>
<text x="1122.4" y="1229.5" class="b" font-size="34.4">Enriched pathways of</text>
<text x="1485.6" y="1229.5" class="b" font-size="34.4">m</text>
<text x="1517.4" y="1218.6" class="b" font-size="16.5">5</text>
<text x="1528.6" y="1229.5" class="b" font-size="34.4">C up genes</text>
<clipPath id="ep0"><rect x="1462.4" y="1253.6" width="281.3" height="218.4"/></clipPath>
<rect x="1462.4" y="1253.6" width="281.3" height="218.4" fill="#fff"/>
<path d="M1529.7 1253.6V1472.0M1605.1 1253.6V1472.0M1680.8 1253.6V1472.0M1462.4 1273.9H1743.7M1462.4 1309.4H1743.7M1462.4 1344.8H1743.7M1462.4 1380.3H1743.7M1462.4 1415.7H1743.7M1462.4 1451.4H1743.7" stroke="#ebebeb" stroke-width="2.7" fill="none"/>
<g clip-path="url(#ep0)">
<circle cx="1490.8" cy="1273.9" r="11.6" fill="#eef8b0" stroke="#fff" stroke-width="1.6"/>
<circle cx="1490.8" cy="1309.4" r="11.6" fill="#eef8b0" stroke="#fff" stroke-width="1.6"/>
<circle cx="1504.3" cy="1344.8" r="12.5" fill="#f2cf98" stroke="#fff" stroke-width="1.6"/>
<circle cx="1601.2" cy="1380.3" r="17.1" fill="#e8826f" stroke="#fff" stroke-width="1.6"/>
<circle cx="1621.1" cy="1415.7" r="18.0" fill="#e8826f" stroke="#fff" stroke-width="1.6"/>
<circle cx="1730.5" cy="1451.4" r="20.8" fill="#a34593" stroke="#fff" stroke-width="1.6"/>
</g>
<rect x="1462.4" y="1253.6" width="281.3" height="218.4" fill="none" stroke="#bfbfbf" stroke-width="1.5"/>
<text x="1457.4" y="1280.5" font-size="24.6" text-anchor="end">heterochromatin organization</text>
<text x="1457.4" y="1316.0" font-size="24.6" text-anchor="end">ATP−dependent chromatin remodeling</text>
<text x="1457.4" y="1351.4" font-size="24.6" text-anchor="end">chromatin DNA binding</text>
<text x="1457.4" y="1386.9" font-size="24.6" text-anchor="end">chromatin remodeling</text>
<text x="1457.4" y="1422.3" font-size="24.6" text-anchor="end">chromatin organization</text>
<text x="1457.4" y="1458.0" font-size="24.6" text-anchor="end">structural constituent of chromatin</text>
<text transform="translate(1787.3 1363.0) rotate(90)" font-size="21.9" text-anchor="middle">Epigenetics and</text>
<text transform="translate(1761.2 1362.7) rotate(90)" font-size="21.9" text-anchor="middle">chromatin remodeling</text>
<clipPath id="ep1"><rect x="1462.4" y="1494.9" width="281.3" height="253.1"/></clipPath>
<rect x="1462.4" y="1494.9" width="281.3" height="253.1" fill="#fff"/>
<path d="M1529.7 1494.9V1748.0M1605.1 1494.9V1748.0M1680.8 1494.9V1748.0M1462.4 1515.0H1743.7M1462.4 1550.4H1743.7M1462.4 1586.3H1743.7M1462.4 1621.8H1743.7M1462.4 1657.2H1743.7M1462.4 1692.7H1743.7M1462.4 1728.1H1743.7" stroke="#ebebeb" stroke-width="2.7" fill="none"/>
<g clip-path="url(#ep1)">
<circle cx="1517.5" cy="1515.0" r="13.6" fill="#f2cf98" stroke="#fff" stroke-width="1.6"/>
<circle cx="1521.0" cy="1550.4" r="13.6" fill="#f3f4b8" stroke="#fff" stroke-width="1.6"/>
<circle cx="1534.2" cy="1586.3" r="14.3" fill="#e0627a" stroke="#fff" stroke-width="1.6"/>
<circle cx="1564.2" cy="1621.8" r="15.9" fill="#ea9274" stroke="#fff" stroke-width="1.6"/>
<circle cx="1567.6" cy="1657.2" r="16.1" fill="#efae82" stroke="#fff" stroke-width="1.6"/>
<circle cx="1607.6" cy="1692.7" r="17.8" fill="#efa67c" stroke="#fff" stroke-width="1.6"/>
<circle cx="1717.9" cy="1728.1" r="21.2" fill="#8e3c96" stroke="#fff" stroke-width="1.6"/>
</g>
<rect x="1462.4" y="1494.9" width="281.3" height="253.1" fill="none" stroke="#bfbfbf" stroke-width="1.5"/>
<text x="1457.4" y="1521.6" font-size="24.6" text-anchor="end">protein−RNA complex assembly</text>
<text x="1457.4" y="1557.0" font-size="24.6" text-anchor="end">negative regulation of phosphorylation</text>
<text x="1457.4" y="1592.9" font-size="24.6" text-anchor="end">structural constituent of ribosome</text>
<text x="1457.4" y="1628.4" font-size="24.6" text-anchor="end">peptide biosynthetic process</text>
<text x="1457.4" y="1663.8" font-size="24.6" text-anchor="end">molecular function inhibitor activity</text>
<text x="1457.4" y="1699.3" font-size="24.6" text-anchor="end">regulation of apoptotic signaling pathway</text>
<text x="1457.4" y="1734.7" font-size="24.6" text-anchor="end">cytoplasmic translation</text>
<text transform="translate(1787.3 1621.8) rotate(90)" font-size="21.9" text-anchor="middle">Regulation of cell</text>
<text transform="translate(1761.2 1621.2) rotate(90)" font-size="21.9" text-anchor="middle">proliferation and survival</text>
<clipPath id="ep2"><rect x="1462.4" y="1771.0" width="281.3" height="253.3"/></clipPath>
<rect x="1462.4" y="1771.0" width="281.3" height="253.3" fill="#fff"/>
<path d="M1529.7 1771.0V2024.3M1605.1 1771.0V2024.3M1680.8 1771.0V2024.3M1462.4 1791.2H1743.7M1462.4 1826.8H1743.7M1462.4 1862.3H1743.7M1462.4 1897.7H1743.7M1462.4 1933.2H1743.7M1462.4 1968.6H1743.7M1462.4 2004.1H1743.7" stroke="#ebebeb" stroke-width="2.7" fill="none"/>
<g clip-path="url(#ep2)">
<circle cx="1587.7" cy="1791.2" r="17.1" fill="#9b3f93" stroke="#fff" stroke-width="1.6"/>
<circle cx="1590.9" cy="1826.8" r="17.1" fill="#efab80" stroke="#fff" stroke-width="1.6"/>
<circle cx="1611.1" cy="1862.3" r="17.8" fill="#ee9a78" stroke="#fff" stroke-width="1.6"/>
<circle cx="1637.8" cy="1897.7" r="18.6" fill="#35204e" stroke="#fff" stroke-width="1.6"/>
<circle cx="1637.8" cy="1933.2" r="18.6" fill="#2f1d40" stroke="#fff" stroke-width="1.6"/>
<circle cx="1671.2" cy="1968.6" r="19.6" fill="#141318" stroke="#fff" stroke-width="1.6"/>
<circle cx="1730.5" cy="2004.1" r="21.2" fill="#e57b78" stroke="#fff" stroke-width="1.6"/>
</g>
<rect x="1462.4" y="1771.0" width="281.3" height="253.3" fill="none" stroke="#bfbfbf" stroke-width="1.5"/>
<text x="1457.4" y="1797.8" font-size="24.6" text-anchor="end">cadherin binding</text>
<text x="1457.4" y="1833.4" font-size="24.6" text-anchor="end">cell morphogenesis</text>
<text x="1457.4" y="1868.9" font-size="24.6" text-anchor="end">epithelial cell differentiation</text>
<text x="1457.4" y="1904.3" font-size="24.6" text-anchor="end">cell−substrate junction</text>
<text x="1457.4" y="1939.8" font-size="24.6" text-anchor="end">focal adhesion</text>
<text x="1457.4" y="1975.2" font-size="24.6" text-anchor="end">cell adhesion molecule binding</text>
<text x="1457.4" y="2010.7" font-size="24.6" text-anchor="end">actin binding</text>
<text transform="translate(1787.3 1891.0) rotate(90)" font-size="21.9" text-anchor="middle">Tumor invasion</text>
<text transform="translate(1761.2 1891.3) rotate(90)" font-size="21.9" text-anchor="middle">and metastasis</text>
<clipPath id="ep3"><rect x="1462.4" y="2047.4" width="281.3" height="253.3"/></clipPath>
<rect x="1462.4" y="2047.4" width="281.3" height="253.3" fill="#fff"/>
<path d="M1529.7 2047.4V2300.7M1605.1 2047.4V2300.7M1680.8 2047.4V2300.7M1462.4 2067.6H1743.7M1462.4 2102.8H1743.7M1462.4 2138.5H1743.7M1462.4 2173.9H1743.7M1462.4 2209.4H1743.7M1462.4 2244.8H1743.7M1462.4 2280.3H1743.7" stroke="#ebebeb" stroke-width="2.7" fill="none"/>
<g clip-path="url(#ep3)">
<circle cx="1474.1" cy="2067.6" r="8.1" fill="#eda878" stroke="#fff" stroke-width="1.6"/>
<circle cx="1490.8" cy="2102.8" r="11.6" fill="#eef8b0" stroke="#fff" stroke-width="1.6"/>
<circle cx="1497.4" cy="2138.5" r="12.3" fill="#f0c08c" stroke="#fff" stroke-width="1.6"/>
<circle cx="1500.8" cy="2173.9" r="12.5" fill="#ee9a78" stroke="#fff" stroke-width="1.6"/>
<circle cx="1504.0" cy="2209.4" r="12.7" fill="#eefab4" stroke="#fff" stroke-width="1.6"/>
<circle cx="1507.5" cy="2244.8" r="12.9" fill="#f3e8ac" stroke="#fff" stroke-width="1.6"/>
<circle cx="1521.0" cy="2280.3" r="13.9" fill="#efb084" stroke="#fff" stroke-width="1.6"/>
</g>
<rect x="1462.4" y="2047.4" width="281.3" height="253.3" fill="none" stroke="#bfbfbf" stroke-width="1.5"/>
<text x="1457.4" y="2074.2" font-size="24.6" text-anchor="end">MHC class I protein complex</text>
<text x="1457.4" y="2109.4" font-size="24.6" text-anchor="end">negative regulation of immune effector process</text>
<text x="1457.4" y="2145.1" font-size="24.6" text-anchor="end">Fc gamma R−mediated phagocytosis</text>
<text x="1457.4" y="2180.5" font-size="24.6" text-anchor="end">Antigen processing and presentation</text>
<text x="1457.4" y="2216.0" font-size="24.6" text-anchor="end">Human T−cell leukemia virus 1 infection</text>
<text x="1457.4" y="2251.4" font-size="24.6" text-anchor="end">Epstein−Barr virus infection</text>
<text x="1457.4" y="2286.9" font-size="24.6" text-anchor="end">Viral carcinogenesis</text>
<text transform="translate(1787.3 2179.8) rotate(90)" font-size="21.9" text-anchor="middle">Tumor microenvironment</text>
<text transform="translate(1761.2 2178.8) rotate(90)" font-size="21.9" text-anchor="middle">and immune evasion</text>
<text transform="translate(1542.9 2327.2) rotate(-45)" font-size="24.4" text-anchor="end">0.03</text>
<text transform="translate(1618.3 2327.2) rotate(-45)" font-size="24.4" text-anchor="end">0.06</text>
<text transform="translate(1694.0 2327.2) rotate(-45)" font-size="24.4" text-anchor="end">0.09</text>
<text x="1602.8" y="2398.1" class="b" font-size="29.3" text-anchor="middle">Gene Ratio</text>
<text x="1839.6" y="1912.1" class="b" font-size="22.2">Gene Count</text>
<circle cx="1855.3" cy="1941.8" r="9.0" fill="#8e8e8e" stroke="#111" stroke-width="1.6"/>
<text x="1883" y="1948.7" font-size="18.8">10</text>
<circle cx="1855.3" cy="1974.1" r="11.1" fill="#8e8e8e" stroke="#111" stroke-width="1.6"/>
<text x="1883" y="1980.7" font-size="18.8">20</text>
<circle cx="1855.3" cy="2006.1" r="12.3" fill="#8e8e8e" stroke="#111" stroke-width="1.6"/>
<text x="1883" y="2012.9" font-size="18.8">30</text>
<circle cx="1855.3" cy="2038.7" r="13.3" fill="#8e8e8e" stroke="#111" stroke-width="1.6"/>
<text x="1883" y="2045.3" font-size="18.8">40</text>
<text x="1838.6" y="2118.6" class="b" font-size="22.4">−log10(PValue)</text>
<defs><linearGradient id="magma" x1="0" y1="0" x2="0" y2="1">
<stop offset="0" stop-color="#f6f6b4"/>
<stop offset="0.08" stop-color="#f3e3a2"/>
<stop offset="0.17" stop-color="#f1c990"/>
<stop offset="0.26" stop-color="#f0a878"/>
<stop offset="0.34" stop-color="#ec8a6e"/>
<stop offset="0.42" stop-color="#e66b6c"/>
<stop offset="0.50" stop-color="#dc4a6c"/>
<stop offset="0.57" stop-color="#c23c7e"/>
<stop offset="0.64" stop-color="#a3358c"/>
<stop offset="0.71" stop-color="#84298f"/>
<stop offset="0.78" stop-color="#65208a"/>
<stop offset="0.85" stop-color="#42157a"/>
<stop offset="0.91" stop-color="#241044"/>
<stop offset="0.96" stop-color="#120a1e"/>
<stop offset="1" stop-color="#000004"/>
</linearGradient></defs>
<rect x="1838.8" y="2132.3" width="32.100" height="161.300" fill="url(#magma)" stroke="#000" stroke-width="2.2"/>
<text x="1882" y="2146.6" font-size="18.8">−5</text>
<text x="1882" y="2180.8" font-size="18.8">−10</text>
<text x="1882" y="2214.9" font-size="18.8">−15</text>
<text x="1882" y="2248.9" font-size="18.8">−20</text>
<text x="1882" y="2282.9" font-size="18.8">−25</text>
<path d="M1839.8 2140.1h5.4M1864.500 2140.1h5.4M1839.8 2174.3h5.4M1864.500 2174.3h5.4M1839.8 2208.4h5.4M1864.500 2208.4h5.4M1839.8 2242.4h5.4M1864.500 2242.4h5.4M1839.8 2276.4h5.4M1864.500 2276.4h5.4" stroke="#111" stroke-width="0.9" fill="none"/>
</g>
<!-- 10_panelF.svg -->
<g id="panelF">
<text x="9.2" y="1743.2" class="b" font-size="44">F</text>
<path d="M136.2 1740.1L148.2 1740.8M136.2 1740.1L117.0 1744.9M136.2 1740.1L107.3 1751.2M136.2 1740.1L129.0 1752.8M136.2 1740.1L147.0 1753.3M136.2 1740.1L156.1 1757.6M136.2 1740.1L108.1 1762.0M136.2 1740.1L141.7 1762.9M136.2 1740.1L164.5 1765.3M136.2 1740.1L112.9 1768.0M136.2 1740.1L125.4 1772.0M136.2 1740.1L139.3 1773.2M136.2 1740.1L151.8 1770.8M136.2 1740.1L157.3 1774.9M136.2 1740.1L120.1 1757.6M136.2 1740.1L134.5 1761.2M136.2 1740.1L150.1 1762.9M136.2 1740.1L118.9 1773.2M136.2 1740.1L133.3 1779.3M136.2 1740.1L146.5 1779.3M136.2 1740.1L115.3 1760.0M136.2 1740.1L130.9 1769.6M148.2 1740.8L117.0 1744.9M148.2 1740.8L129.0 1752.8M148.2 1740.8L147.0 1753.3M148.2 1740.8L156.1 1757.6M148.2 1740.8L141.7 1762.9M148.2 1740.8L164.5 1765.3M148.2 1740.8L125.4 1772.0M148.2 1740.8L139.3 1773.2M148.2 1740.8L151.8 1770.8M148.2 1740.8L157.3 1774.9M148.2 1740.8L120.1 1757.6M148.2 1740.8L134.5 1761.2M148.2 1740.8L150.1 1762.9M148.2 1740.8L133.3 1779.3M148.2 1740.8L146.5 1779.3M148.2 1740.8L115.3 1760.0M148.2 1740.8L130.9 1769.6M117.0 1744.9L107.3 1751.2M117.0 1744.9L129.0 1752.8M117.0 1744.9L147.0 1753.3M117.0 1744.9L156.1 1757.6M117.0 1744.9L95.3 1765.1M117.0 1744.9L108.1 1762.0M117.0 1744.9L141.7 1762.9M117.0 1744.9L112.9 1768.0M117.0 1744.9L125.4 1772.0M117.0 1744.9L139.3 1773.2M117.0 1744.9L114.1 1776.8M117.0 1744.9L108.1 1783.6M117.0 1744.9L127.8 1783.6M117.0 1744.9L120.1 1757.6M117.0 1744.9L134.5 1761.2M117.0 1744.9L150.1 1762.9M117.0 1744.9L118.9 1773.2M117.0 1744.9L133.3 1779.3M117.0 1744.9L120.1 1782.9M117.0 1744.9L115.3 1760.0M117.0 1744.9L130.9 1769.6M107.3 1751.2L129.0 1752.8M107.3 1751.2L147.0 1753.3M107.3 1751.2L95.3 1765.1M107.3 1751.2L108.1 1762.0M107.3 1751.2L141.7 1762.9M107.3 1751.2L112.9 1768.0M107.3 1751.2L125.4 1772.0M107.3 1751.2L139.3 1773.2M107.3 1751.2L114.1 1776.8M107.3 1751.2L108.1 1783.6M107.3 1751.2L127.8 1783.6M107.3 1751.2L109.3 1788.4M107.3 1751.2L122.5 1789.3M107.3 1751.2L120.1 1757.6M107.3 1751.2L134.5 1761.2M107.3 1751.2L118.9 1773.2M107.3 1751.2L133.3 1779.3M107.3 1751.2L120.1 1782.9M107.3 1751.2L115.3 1760.0M107.3 1751.2L130.9 1769.6M129.0 1752.8L147.0 1753.3M129.0 1752.8L156.1 1757.6M129.0 1752.8L95.3 1765.1M129.0 1752.8L108.1 1762.0M129.0 1752.8L141.7 1762.9M129.0 1752.8L164.5 1765.3M129.0 1752.8L112.9 1768.0M129.0 1752.8L125.4 1772.0M129.0 1752.8L139.3 1773.2M129.0 1752.8L151.8 1770.8M129.0 1752.8L157.3 1774.9M129.0 1752.8L114.1 1776.8M129.0 1752.8L108.1 1783.6M129.0 1752.8L127.8 1783.6M129.0 1752.8L141.7 1783.6M129.0 1752.8L109.3 1788.4M129.0 1752.8L122.5 1789.3M129.0 1752.8L120.1 1757.6M129.0 1752.8L134.5 1761.2M129.0 1752.8L150.1 1762.9M129.0 1752.8L118.9 1773.2M129.0 1752.8L133.3 1779.3M129.0 1752.8L146.5 1779.3M129.0 1752.8L120.1 1782.9M129.0 1752.8L134.5 1790.1M129.0 1752.8L115.3 1760.0M129.0 1752.8L130.9 1769.6M147.0 1753.3L156.1 1757.6M147.0 1753.3L108.1 1762.0M147.0 1753.3L141.7 1762.9M147.0 1753.3L164.5 1765.3M147.0 1753.3L112.9 1768.0M147.0 1753.3L125.4 1772.0M147.0 1753.3L139.3 1773.2M147.0 1753.3L151.8 1770.8M147.0 1753.3L157.3 1774.9M147.0 1753.3L114.1 1776.8M147.0 1753.3L127.8 1783.6M147.0 1753.3L141.7 1783.6M147.0 1753.3L153.7 1790.8M147.0 1753.3L120.1 1757.6M147.0 1753.3L134.5 1761.2M147.0 1753.3L150.1 1762.9M147.0 1753.3L118.9 1773.2M147.0 1753.3L133.3 1779.3M147.0 1753.3L146.5 1779.3M147.0 1753.3L120.1 1782.9M147.0 1753.3L134.5 1790.1M147.0 1753.3L144.1 1792.5M147.0 1753.3L115.3 1760.0M147.0 1753.3L130.9 1769.6M156.1 1757.6L141.7 1762.9M156.1 1757.6L164.5 1765.3M156.1 1757.6L125.4 1772.0M156.1 1757.6L139.3 1773.2M156.1 1757.6L151.8 1770.8M156.1 1757.6L157.3 1774.9M156.1 1757.6L127.8 1783.6M156.1 1757.6L141.7 1783.6M156.1 1757.6L153.7 1790.8M156.1 1757.6L120.1 1757.6M156.1 1757.6L134.5 1761.2M156.1 1757.6L150.1 1762.9M156.1 1757.6L118.9 1773.2M156.1 1757.6L133.3 1779.3M156.1 1757.6L146.5 1779.3M156.1 1757.6L134.5 1790.1M156.1 1757.6L144.1 1792.5M156.1 1757.6L115.3 1760.0M156.1 1757.6L130.9 1769.6M95.3 1765.1L108.1 1762.0M95.3 1765.1L112.9 1768.0M95.3 1765.1L125.4 1772.0M95.3 1765.1L114.1 1776.8M95.3 1765.1L108.1 1783.6M95.3 1765.1L127.8 1783.6M95.3 1765.1L109.3 1788.4M95.3 1765.1L122.5 1789.3M95.3 1765.1L111.0 1794.1M95.3 1765.1L123.0 1795.3M95.3 1765.1L120.1 1757.6M95.3 1765.1L134.5 1761.2M95.3 1765.1L118.9 1773.2M95.3 1765.1L133.3 1779.3M95.3 1765.1L120.1 1782.9M95.3 1765.1L115.3 1760.0M95.3 1765.1L130.9 1769.6M108.1 1762.0L141.7 1762.9M108.1 1762.0L112.9 1768.0M108.1 1762.0L125.4 1772.0M108.1 1762.0L139.3 1773.2M108.1 1762.0L114.1 1776.8M108.1 1762.0L108.1 1783.6M108.1 1762.0L127.8 1783.6M108.1 1762.0L141.7 1783.6M108.1 1762.0L109.3 1788.4M108.1 1762.0L122.5 1789.3M108.1 1762.0L111.0 1794.1M108.1 1762.0L123.0 1795.3M108.1 1762.0L120.1 1757.6M108.1 1762.0L134.5 1761.2M108.1 1762.0L118.9 1773.2M108.1 1762.0L133.3 1779.3M108.1 1762.0L120.1 1782.9M108.1 1762.0L134.5 1790.1M108.1 1762.0L115.3 1760.0M108.1 1762.0L130.9 1769.6M141.7 1762.9L164.5 1765.3M141.7 1762.9L112.9 1768.0M141.7 1762.9L125.4 1772.0M141.7 1762.9L139.3 1773.2M141.7 1762.9L151.8 1770.8M141.7 1762.9L157.3 1774.9M141.7 1762.9L114.1 1776.8M141.7 1762.9L108.1 1783.6M141.7 1762.9L127.8 1783.6M141.7 1762.9L141.7 1783.6M141.7 1762.9L109.3 1788.4M141.7 1762.9L122.5 1789.3M141.7 1762.9L153.7 1790.8M141.7 1762.9L123.0 1795.3M141.7 1762.9L136.9 1800.9M141.7 1762.9L120.1 1757.6M141.7 1762.9L134.5 1761.2M141.7 1762.9L150.1 1762.9M141.7 1762.9L118.9 1773.2M141.7 1762.9L133.3 1779.3M141.7 1762.9L146.5 1779.3M141.7 1762.9L120.1 1782.9M141.7 1762.9L134.5 1790.1M141.7 1762.9L144.1 1792.5M141.7 1762.9L115.3 1760.0M141.7 1762.9L130.9 1769.6M164.5 1765.3L125.4 1772.0M164.5 1765.3L139.3 1773.2M164.5 1765.3L151.8 1770.8M164.5 1765.3L157.3 1774.9M164.5 1765.3L127.8 1783.6M164.5 1765.3L141.7 1783.6M164.5 1765.3L153.7 1790.8M164.5 1765.3L159.2 1801.3M164.5 1765.3L134.5 1761.2M164.5 1765.3L150.1 1762.9M164.5 1765.3L133.3 1779.3M164.5 1765.3L146.5 1779.3M164.5 1765.3L134.5 1790.1M164.5 1765.3L144.1 1792.5M164.5 1765.3L130.9 1769.6M112.9 1768.0L125.4 1772.0M112.9 1768.0L139.3 1773.2M112.9 1768.0L151.8 1770.8M112.9 1768.0L114.1 1776.8M112.9 1768.0L108.1 1783.6M112.9 1768.0L127.8 1783.6M112.9 1768.0L141.7 1783.6M112.9 1768.0L109.3 1788.4M112.9 1768.0L122.5 1789.3M112.9 1768.0L111.0 1794.1M112.9 1768.0L123.0 1795.3M112.9 1768.0L136.9 1800.9M112.9 1768.0L120.1 1757.6M112.9 1768.0L134.5 1761.2M112.9 1768.0L150.1 1762.9M112.9 1768.0L118.9 1773.2M112.9 1768.0L133.3 1779.3M112.9 1768.0L146.5 1779.3M112.9 1768.0L120.1 1782.9M112.9 1768.0L134.5 1790.1M112.9 1768.0L144.1 1792.5M112.9 1768.0L115.3 1760.0M112.9 1768.0L130.9 1769.6M125.4 1772.0L139.3 1773.2M125.4 1772.0L151.8 1770.8M125.4 1772.0L157.3 1774.9M125.4 1772.0L114.1 1776.8M125.4 1772.0L108.1 1783.6M125.4 1772.0L127.8 1783.6M125.4 1772.0L141.7 1783.6M125.4 1772.0L109.3 1788.4M125.4 1772.0L122.5 1789.3M125.4 1772.0L153.7 1790.8M125.4 1772.0L111.0 1794.1M125.4 1772.0L123.0 1795.3M125.4 1772.0L136.9 1800.9M125.4 1772.0L120.1 1757.6M125.4 1772.0L134.5 1761.2M125.4 1772.0L150.1 1762.9M125.4 1772.0L118.9 1773.2M125.4 1772.0L133.3 1779.3M125.4 1772.0L146.5 1779.3M125.4 1772.0L120.1 1782.9M125.4 1772.0L134.5 1790.1M125.4 1772.0L144.1 1792.5M125.4 1772.0L115.3 1760.0M125.4 1772.0L130.9 1769.6M139.3 1773.2L151.8 1770.8M139.3 1773.2L157.3 1774.9M139.3 1773.2L114.1 1776.8M139.3 1773.2L108.1 1783.6M139.3 1773.2L127.8 1783.6M139.3 1773.2L141.7 1783.6M139.3 1773.2L109.3 1788.4M139.3 1773.2L122.5 1789.3M139.3 1773.2L153.7 1790.8M139.3 1773.2L111.0 1794.1M139.3 1773.2L123.0 1795.3M139.3 1773.2L136.9 1800.9M139.3 1773.2L159.2 1801.3M139.3 1773.2L120.1 1757.6M139.3 1773.2L134.5 1761.2M139.3 1773.2L150.1 1762.9M139.3 1773.2L118.9 1773.2M139.3 1773.2L133.3 1779.3M139.3 1773.2L146.5 1779.3M139.3 1773.2L120.1 1782.9M139.3 1773.2L134.5 1790.1M139.3 1773.2L144.1 1792.5M139.3 1773.2L115.3 1760.0M139.3 1773.2L130.9 1769.6M151.8 1770.8L157.3 1774.9M151.8 1770.8L114.1 1776.8M151.8 1770.8L127.8 1783.6M151.8 1770.8L141.7 1783.6M151.8 1770.8L122.5 1789.3M151.8 1770.8L153.7 1790.8M151.8 1770.8L123.0 1795.3M151.8 1770.8L136.9 1800.9M151.8 1770.8L159.2 1801.3M151.8 1770.8L120.1 1757.6M151.8 1770.8L134.5 1761.2M151.8 1770.8L150.1 1762.9M151.8 1770.8L118.9 1773.2M151.8 1770.8L133.3 1779.3M151.8 1770.8L146.5 1779.3M151.8 1770.8L120.1 1782.9M151.8 1770.8L134.5 1790.1M151.8 1770.8L144.1 1792.5M151.8 1770.8L115.3 1760.0M151.8 1770.8L130.9 1769.6M157.3 1774.9L127.8 1783.6M157.3 1774.9L141.7 1783.6M157.3 1774.9L122.5 1789.3M157.3 1774.9L153.7 1790.8M157.3 1774.9L123.0 1795.3M157.3 1774.9L136.9 1800.9M157.3 1774.9L159.2 1801.3M157.3 1774.9L120.1 1757.6M157.3 1774.9L134.5 1761.2M157.3 1774.9L150.1 1762.9M157.3 1774.9L118.9 1773.2M157.3 1774.9L133.3 1779.3M157.3 1774.9L146.5 1779.3M157.3 1774.9L120.1 1782.9M157.3 1774.9L134.5 1790.1M157.3 1774.9L144.1 1792.5M157.3 1774.9L130.9 1769.6M114.1 1776.8L108.1 1783.6M114.1 1776.8L127.8 1783.6M114.1 1776.8L141.7 1783.6M114.1 1776.8L109.3 1788.4M114.1 1776.8L122.5 1789.3M114.1 1776.8L111.0 1794.1M114.1 1776.8L123.0 1795.3M114.1 1776.8L136.9 1800.9M114.1 1776.8L120.1 1757.6M114.1 1776.8L134.5 1761.2M114.1 1776.8L150.1 1762.9M114.1 1776.8L118.9 1773.2M114.1 1776.8L133.3 1779.3M114.1 1776.8L146.5 1779.3M114.1 1776.8L120.1 1782.9M114.1 1776.8L134.5 1790.1M114.1 1776.8L144.1 1792.5M114.1 1776.8L115.3 1760.0M114.1 1776.8L130.9 1769.6M108.1 1783.6L127.8 1783.6M108.1 1783.6L141.7 1783.6M108.1 1783.6L109.3 1788.4M108.1 1783.6L122.5 1789.3M108.1 1783.6L111.0 1794.1M108.1 1783.6L123.0 1795.3M108.1 1783.6L136.9 1800.9M108.1 1783.6L120.1 1757.6M108.1 1783.6L134.5 1761.2M108.1 1783.6L118.9 1773.2M108.1 1783.6L133.3 1779.3M108.1 1783.6L146.5 1779.3M108.1 1783.6L120.1 1782.9M108.1 1783.6L134.5 1790.1M108.1 1783.6L144.1 1792.5M108.1 1783.6L115.3 1760.0M108.1 1783.6L130.9 1769.6M127.8 1783.6L141.7 1783.6M127.8 1783.6L109.3 1788.4M127.8 1783.6L122.5 1789.3M127.8 1783.6L153.7 1790.8M127.8 1783.6L111.0 1794.1M127.8 1783.6L123.0 1795.3M127.8 1783.6L136.9 1800.9M127.8 1783.6L159.2 1801.3M127.8 1783.6L120.1 1757.6M127.8 1783.6L134.5 1761.2M127.8 1783.6L150.1 1762.9M127.8 1783.6L118.9 1773.2M127.8 1783.6L133.3 1779.3M127.8 1783.6L146.5 1779.3M127.8 1783.6L120.1 1782.9M127.8 1783.6L134.5 1790.1M127.8 1783.6L144.1 1792.5M127.8 1783.6L115.3 1760.0M127.8 1783.6L130.9 1769.6M141.7 1783.6L109.3 1788.4M141.7 1783.6L122.5 1789.3M141.7 1783.6L153.7 1790.8M141.7 1783.6L111.0 1794.1M141.7 1783.6L123.0 1795.3M141.7 1783.6L136.9 1800.9M141.7 1783.6L159.2 1801.3M141.7 1783.6L120.1 1757.6M141.7 1783.6L134.5 1761.2M141.7 1783.6L150.1 1762.9M141.7 1783.6L118.9 1773.2M141.7 1783.6L133.3 1779.3M141.7 1783.6L146.5 1779.3M141.7 1783.6L120.1 1782.9M141.7 1783.6L134.5 1790.1M141.7 1783.6L144.1 1792.5M141.7 1783.6L115.3 1760.0M141.7 1783.6L130.9 1769.6M109.3 1788.4L122.5 1789.3M109.3 1788.4L111.0 1794.1M109.3 1788.4L123.0 1795.3M109.3 1788.4L136.9 1800.9M109.3 1788.4L120.1 1757.6M109.3 1788.4L134.5 1761.2M109.3 1788.4L118.9 1773.2M109.3 1788.4L133.3 1779.3M109.3 1788.4L146.5 1779.3M109.3 1788.4L120.1 1782.9M109.3 1788.4L134.5 1790.1M109.3 1788.4L144.1 1792.5M109.3 1788.4L115.3 1760.0M109.3 1788.4L130.9 1769.6M122.5 1789.3L153.7 1790.8M122.5 1789.3L111.0 1794.1M122.5 1789.3L123.0 1795.3M122.5 1789.3L136.9 1800.9M122.5 1789.3L159.2 1801.3M122.5 1789.3L120.1 1757.6M122.5 1789.3L134.5 1761.2M122.5 1789.3L150.1 1762.9M122.5 1789.3L118.9 1773.2M122.5 1789.3L133.3 1779.3M122.5 1789.3L146.5 1779.3M122.5 1789.3L120.1 1782.9M122.5 1789.3L134.5 1790.1M122.5 1789.3L144.1 1792.5M122.5 1789.3L115.3 1760.0M122.5 1789.3L130.9 1769.6M153.7 1790.8L123.0 1795.3M153.7 1790.8L136.9 1800.9M153.7 1790.8L159.2 1801.3M153.7 1790.8L134.5 1761.2M153.7 1790.8L150.1 1762.9M153.7 1790.8L118.9 1773.2M153.7 1790.8L133.3 1779.3M153.7 1790.8L146.5 1779.3M153.7 1790.8L120.1 1782.9M153.7 1790.8L134.5 1790.1M153.7 1790.8L144.1 1792.5M153.7 1790.8L130.9 1769.6M111.0 1794.1L123.0 1795.3M111.0 1794.1L136.9 1800.9M111.0 1794.1L120.1 1757.6M111.0 1794.1L134.5 1761.2M111.0 1794.1L118.9 1773.2M111.0 1794.1L133.3 1779.3M111.0 1794.1L146.5 1779.3M111.0 1794.1L120.1 1782.9M111.0 1794.1L134.5 1790.1M111.0 1794.1L144.1 1792.5M111.0 1794.1L115.3 1760.0M111.0 1794.1L130.9 1769.6M123.0 1795.3L136.9 1800.9M123.0 1795.3L159.2 1801.3M123.0 1795.3L120.1 1757.6M123.0 1795.3L134.5 1761.2M123.0 1795.3L118.9 1773.2M123.0 1795.3L133.3 1779.3M123.0 1795.3L146.5 1779.3M123.0 1795.3L120.1 1782.9M123.0 1795.3L134.5 1790.1M123.0 1795.3L144.1 1792.5M123.0 1795.3L115.3 1760.0M123.0 1795.3L130.9 1769.6M136.9 1800.9L159.2 1801.3M136.9 1800.9L134.5 1761.2M136.9 1800.9L150.1 1762.9M136.9 1800.9L118.9 1773.2M136.9 1800.9L133.3 1779.3M136.9 1800.9L146.5 1779.3M136.9 1800.9L120.1 1782.9M136.9 1800.9L134.5 1790.1M136.9 1800.9L144.1 1792.5M136.9 1800.9L130.9 1769.6M159.2 1801.3L150.1 1762.9M159.2 1801.3L133.3 1779.3M159.2 1801.3L146.5 1779.3M159.2 1801.3L134.5 1790.1M159.2 1801.3L144.1 1792.5M120.1 1757.6L134.5 1761.2M120.1 1757.6L150.1 1762.9M120.1 1757.6L118.9 1773.2M120.1 1757.6L133.3 1779.3M120.1 1757.6L146.5 1779.3M120.1 1757.6L120.1 1782.9M120.1 1757.6L134.5 1790.1M120.1 1757.6L115.3 1760.0M120.1 1757.6L130.9 1769.6M134.5 1761.2L150.1 1762.9M134.5 1761.2L118.9 1773.2M134.5 1761.2L133.3 1779.3M134.5 1761.2L146.5 1779.3M134.5 1761.2L120.1 1782.9M134.5 1761.2L134.5 1790.1M134.5 1761.2L144.1 1792.5M134.5 1761.2L115.3 1760.0M134.5 1761.2L130.9 1769.6M150.1 1762.9L118.9 1773.2M150.1 1762.9L133.3 1779.3M150.1 1762.9L146.5 1779.3M150.1 1762.9L120.1 1782.9M150.1 1762.9L134.5 1790.1M150.1 1762.9L144.1 1792.5M150.1 1762.9L115.3 1760.0M150.1 1762.9L130.9 1769.6M118.9 1773.2L133.3 1779.3M118.9 1773.2L146.5 1779.3M118.9 1773.2L120.1 1782.9M118.9 1773.2L134.5 1790.1M118.9 1773.2L144.1 1792.5M118.9 1773.2L115.3 1760.0M118.9 1773.2L130.9 1769.6M133.3 1779.3L146.5 1779.3M133.3 1779.3L120.1 1782.9M133.3 1779.3L134.5 1790.1M133.3 1779.3L144.1 1792.5M133.3 1779.3L115.3 1760.0M133.3 1779.3L130.9 1769.6M146.5 1779.3L120.1 1782.9M146.5 1779.3L134.5 1790.1M146.5 1779.3L144.1 1792.5M146.5 1779.3L115.3 1760.0M146.5 1779.3L130.9 1769.6M120.1 1782.9L134.5 1790.1M120.1 1782.9L144.1 1792.5M120.1 1782.9L115.3 1760.0M120.1 1782.9L130.9 1769.6M134.5 1790.1L144.1 1792.5M134.5 1790.1L115.3 1760.0M134.5 1790.1L130.9 1769.6M144.1 1792.5L130.9 1769.6M115.3 1760.0L130.9 1769.6" stroke="#5a4ab8" stroke-width="0.70" fill="none" opacity="1.00"/>
<circle cx="136.2" cy="1740.1" r="7.5" fill="#e9251f" stroke="#b0203a" stroke-width="0.5"/>
<circle cx="148.2" cy="1740.8" r="7.5" fill="#e9251f" stroke="#b0203a" stroke-width="0.5"/>
<circle cx="117.0" cy="1744.9" r="7.5" fill="#e9251f" stroke="#b0203a" stroke-width="0.5"/>
<circle cx="107.3" cy="1751.2" r="7.5" fill="#e9251f" stroke="#b0203a" stroke-width="0.5"/>
<circle cx="129.0" cy="1752.8" r="7.5" fill="#e9251f" stroke="#b0203a" stroke-width="0.5"/>
<circle cx="147.0" cy="1753.3" r="7.5" fill="#e9251f" stroke="#b0203a" stroke-width="0.5"/>
<circle cx="156.1" cy="1757.6" r="7.5" fill="#e9251f" stroke="#b0203a" stroke-width="0.5"/>
<circle cx="95.3" cy="1765.1" r="7.5" fill="#e9251f" stroke="#b0203a" stroke-width="0.5"/>
<circle cx="108.1" cy="1762.0" r="7.5" fill="#e9251f" stroke="#b0203a" stroke-width="0.5"/>
<circle cx="141.7" cy="1762.9" r="7.5" fill="#e9251f" stroke="#b0203a" stroke-width="0.5"/>
<circle cx="164.5" cy="1765.3" r="7.5" fill="#e9251f" stroke="#b0203a" stroke-width="0.5"/>
<circle cx="112.9" cy="1768.0" r="7.5" fill="#e9251f" stroke="#b0203a" stroke-width="0.5"/>
<circle cx="125.4" cy="1772.0" r="7.5" fill="#e9251f" stroke="#b0203a" stroke-width="0.5"/>
<circle cx="139.3" cy="1773.2" r="7.5" fill="#e9251f" stroke="#b0203a" stroke-width="0.5"/>
<circle cx="151.8" cy="1770.8" r="7.5" fill="#e9251f" stroke="#b0203a" stroke-width="0.5"/>
<circle cx="157.3" cy="1774.9" r="7.5" fill="#e9251f" stroke="#b0203a" stroke-width="0.5"/>
<circle cx="114.1" cy="1776.8" r="7.5" fill="#e9251f" stroke="#b0203a" stroke-width="0.5"/>
<circle cx="108.1" cy="1783.6" r="7.5" fill="#e9251f" stroke="#b0203a" stroke-width="0.5"/>
<circle cx="127.8" cy="1783.6" r="7.5" fill="#e9251f" stroke="#b0203a" stroke-width="0.5"/>
<circle cx="141.7" cy="1783.6" r="7.5" fill="#e9251f" stroke="#b0203a" stroke-width="0.5"/>
<circle cx="109.3" cy="1788.4" r="7.5" fill="#e9251f" stroke="#b0203a" stroke-width="0.5"/>
<circle cx="122.5" cy="1789.3" r="7.5" fill="#e9251f" stroke="#b0203a" stroke-width="0.5"/>
<circle cx="153.7" cy="1790.8" r="7.5" fill="#e9251f" stroke="#b0203a" stroke-width="0.5"/>
<circle cx="111.0" cy="1794.1" r="7.5" fill="#e9251f" stroke="#b0203a" stroke-width="0.5"/>
<circle cx="123.0" cy="1795.3" r="7.5" fill="#e9251f" stroke="#b0203a" stroke-width="0.5"/>
<circle cx="136.9" cy="1800.9" r="7.5" fill="#e9251f" stroke="#b0203a" stroke-width="0.5"/>
<circle cx="159.2" cy="1801.3" r="7.5" fill="#e9251f" stroke="#b0203a" stroke-width="0.5"/>
<circle cx="120.1" cy="1757.6" r="7.5" fill="#e9251f" stroke="#b0203a" stroke-width="0.5"/>
<circle cx="134.5" cy="1761.2" r="7.5" fill="#e9251f" stroke="#b0203a" stroke-width="0.5"/>
<circle cx="150.1" cy="1762.9" r="7.5" fill="#e9251f" stroke="#b0203a" stroke-width="0.5"/>
<circle cx="118.9" cy="1773.2" r="7.5" fill="#e9251f" stroke="#b0203a" stroke-width="0.5"/>
<circle cx="133.3" cy="1779.3" r="7.5" fill="#e9251f" stroke="#b0203a" stroke-width="0.5"/>
<circle cx="146.5" cy="1779.3" r="7.5" fill="#e9251f" stroke="#b0203a" stroke-width="0.5"/>
<circle cx="120.1" cy="1782.9" r="7.5" fill="#e9251f" stroke="#b0203a" stroke-width="0.5"/>
<circle cx="134.5" cy="1790.1" r="7.5" fill="#e9251f" stroke="#b0203a" stroke-width="0.5"/>
<circle cx="144.1" cy="1792.5" r="7.5" fill="#e9251f" stroke="#b0203a" stroke-width="0.5"/>
<circle cx="115.3" cy="1760.0" r="7.5" fill="#e9251f" stroke="#b0203a" stroke-width="0.5"/>
<circle cx="130.9" cy="1769.6" r="7.5" fill="#e9251f" stroke="#b0203a" stroke-width="0.5"/>
<path d="M209.4 1766.8L219.7 1765.3M209.4 1766.8L235.8 1757.9M209.4 1766.8L246.9 1768.4M209.4 1766.8L216.6 1774.0M209.4 1766.8L226.9 1774.0M209.4 1766.8L194.5 1777.6M209.4 1766.8L246.9 1784.1M209.4 1766.8L193.1 1789.3M209.4 1766.8L206.5 1788.4M209.4 1766.8L231.7 1787.7M209.4 1766.8L219.3 1791.3M209.4 1766.8L244.2 1795.3M209.4 1766.8L226.9 1800.1M209.4 1766.8L198.1 1803.3M209.4 1766.8L212.1 1804.9M219.7 1765.3L235.8 1757.9M219.7 1765.3L246.9 1768.4M219.7 1765.3L216.6 1774.0M219.7 1765.3L226.9 1774.0M219.7 1765.3L194.5 1777.6M219.7 1765.3L246.9 1784.1M219.7 1765.3L193.1 1789.3M219.7 1765.3L206.5 1788.4M219.7 1765.3L231.7 1787.7M219.7 1765.3L219.3 1791.3M219.7 1765.3L244.2 1795.3M219.7 1765.3L226.9 1800.1M219.7 1765.3L198.1 1803.3M219.7 1765.3L212.1 1804.9M235.8 1757.9L246.9 1768.4M235.8 1757.9L216.6 1774.0M235.8 1757.9L226.9 1774.0M235.8 1757.9L194.5 1777.6M235.8 1757.9L246.9 1784.1M235.8 1757.9L193.1 1789.3M235.8 1757.9L206.5 1788.4M235.8 1757.9L231.7 1787.7M235.8 1757.9L219.3 1791.3M235.8 1757.9L244.2 1795.3M235.8 1757.9L226.9 1800.1M235.8 1757.9L198.1 1803.3M235.8 1757.9L212.1 1804.9M246.9 1768.4L216.6 1774.0M246.9 1768.4L226.9 1774.0M246.9 1768.4L194.5 1777.6M246.9 1768.4L246.9 1784.1M246.9 1768.4L193.1 1789.3M246.9 1768.4L206.5 1788.4M246.9 1768.4L231.7 1787.7M246.9 1768.4L219.3 1791.3M246.9 1768.4L244.2 1795.3M246.9 1768.4L226.9 1800.1M246.9 1768.4L198.1 1803.3M246.9 1768.4L212.1 1804.9M216.6 1774.0L226.9 1774.0M216.6 1774.0L194.5 1777.6M216.6 1774.0L246.9 1784.1M216.6 1774.0L193.1 1789.3M216.6 1774.0L206.5 1788.4M216.6 1774.0L231.7 1787.7M216.6 1774.0L219.3 1791.3M216.6 1774.0L244.2 1795.3M216.6 1774.0L226.9 1800.1M216.6 1774.0L198.1 1803.3M216.6 1774.0L212.1 1804.9M226.9 1774.0L194.5 1777.6M226.9 1774.0L246.9 1784.1M226.9 1774.0L193.1 1789.3M226.9 1774.0L206.5 1788.4M226.9 1774.0L231.7 1787.7M226.9 1774.0L219.3 1791.3M226.9 1774.0L244.2 1795.3M226.9 1774.0L226.9 1800.1M226.9 1774.0L198.1 1803.3M226.9 1774.0L212.1 1804.9M194.5 1777.6L246.9 1784.1M194.5 1777.6L193.1 1789.3M194.5 1777.6L206.5 1788.4M194.5 1777.6L231.7 1787.7M194.5 1777.6L219.3 1791.3M194.5 1777.6L244.2 1795.3M194.5 1777.6L226.9 1800.1M194.5 1777.6L198.1 1803.3M194.5 1777.6L212.1 1804.9M246.9 1784.1L193.1 1789.3M246.9 1784.1L206.5 1788.4M246.9 1784.1L231.7 1787.7M246.9 1784.1L219.3 1791.3M246.9 1784.1L244.2 1795.3M246.9 1784.1L226.9 1800.1M246.9 1784.1L198.1 1803.3M246.9 1784.1L212.1 1804.9M193.1 1789.3L206.5 1788.4M193.1 1789.3L231.7 1787.7M193.1 1789.3L219.3 1791.3M193.1 1789.3L244.2 1795.3M193.1 1789.3L226.9 1800.1M193.1 1789.3L198.1 1803.3M193.1 1789.3L212.1 1804.9M206.5 1788.4L231.7 1787.7M206.5 1788.4L219.3 1791.3M206.5 1788.4L244.2 1795.3M206.5 1788.4L226.9 1800.1M206.5 1788.4L198.1 1803.3M206.5 1788.4L212.1 1804.9M231.7 1787.7L219.3 1791.3M231.7 1787.7L244.2 1795.3M231.7 1787.7L226.9 1800.1M231.7 1787.7L198.1 1803.3M231.7 1787.7L212.1 1804.9M219.3 1791.3L244.2 1795.3M219.3 1791.3L226.9 1800.1M219.3 1791.3L198.1 1803.3M219.3 1791.3L212.1 1804.9M244.2 1795.3L226.9 1800.1M244.2 1795.3L198.1 1803.3M244.2 1795.3L212.1 1804.9M226.9 1800.1L198.1 1803.3M226.9 1800.1L212.1 1804.9M198.1 1803.3L212.1 1804.9M202.4 1747.6L242.1 1740.1M242.1 1740.1L276.9 1761.7M276.9 1761.7L270.9 1800.9M270.9 1800.9L244.2 1816.5M244.2 1816.5L227.4 1815.3M202.4 1747.6L194.5 1777.6M202.4 1747.6L219.7 1765.3M242.1 1740.1L235.8 1757.9M242.1 1740.1L219.7 1765.3M227.4 1815.3L212.1 1804.9M227.4 1815.3L226.9 1800.1M244.2 1816.5L226.9 1800.1M244.2 1816.5L244.2 1795.3M244.2 1816.5L231.7 1787.7M244.2 1816.5L212.1 1804.9M227.4 1815.3L198.1 1803.3M244.2 1816.5L226.9 1774.0M244.2 1816.5L219.3 1791.3" stroke="#9a7fca" stroke-width="0.60" fill="none" opacity="1.00"/>
<circle cx="209.4" cy="1766.8" r="5.3" fill="#4a86bf"/>
<circle cx="219.7" cy="1765.3" r="5.3" fill="#4a86bf"/>
<circle cx="235.8" cy="1757.9" r="4.6" fill="#4a86bf"/>
<circle cx="246.9" cy="1768.4" r="4.8" fill="#4a86bf"/>
<circle cx="216.6" cy="1774.0" r="5.3" fill="#4a86bf"/>
<circle cx="226.9" cy="1774.0" r="6.5" fill="#4a86bf"/>
<circle cx="194.5" cy="1777.6" r="5.0" fill="#4a86bf"/>
<circle cx="246.9" cy="1784.1" r="5.5" fill="#4a86bf"/>
<circle cx="193.1" cy="1789.3" r="4.8" fill="#4a86bf"/>
<circle cx="206.5" cy="1788.4" r="4.8" fill="#4a86bf"/>
<circle cx="231.7" cy="1787.7" r="6.2" fill="#4a86bf"/>
<circle cx="219.3" cy="1791.3" r="6.2" fill="#4a86bf"/>
<circle cx="244.2" cy="1795.3" r="5.5" fill="#4a86bf"/>
<circle cx="226.9" cy="1800.1" r="6.2" fill="#4a86bf"/>
<circle cx="198.1" cy="1803.3" r="4.6" fill="#4a86bf"/>
<circle cx="212.1" cy="1804.9" r="5.5" fill="#4a86bf"/>
<circle cx="202.4" cy="1747.6" r="3.0" fill="#4a86bf"/>
<circle cx="242.1" cy="1740.1" r="3.0" fill="#4a86bf"/>
<circle cx="276.9" cy="1761.7" r="3.0" fill="#4a86bf"/>
<circle cx="270.9" cy="1800.9" r="3.0" fill="#4a86bf"/>
<circle cx="227.4" cy="1815.3" r="3.6" fill="#4a86bf"/>
<circle cx="244.2" cy="1816.5" r="3.6" fill="#4a86bf"/>
<path d="M305.3 1766.0L337.0 1763.3M305.3 1766.0L321.4 1791.3M337.0 1763.3L321.4 1791.3M337.0 1763.3L366.5 1747.7M366.5 1747.7L398.8 1740.2M398.8 1740.2L431.6 1745.0M431.6 1745.0L460.1 1762.2M460.1 1762.2L482.6 1788.0M482.6 1788.0L502.5 1817.1M502.5 1817.1L531.0 1801.5M502.5 1817.1L532.1 1831.0M531.0 1801.5L532.1 1831.0M502.5 1817.1L486.9 1847.7M486.9 1847.7L471.4 1877.8M471.4 1877.8L444.5 1895.5M471.4 1877.8L470.8 1910.0M444.5 1895.5L470.8 1910.0" stroke="#a996d2" stroke-width="0.80" fill="none" opacity="1.00"/>
<circle cx="305.3" cy="1766.0" r="2.8" fill="#4db848" stroke="#3a9a3a" stroke-width="0.5"/>
<circle cx="337.0" cy="1763.3" r="2.8" fill="#4db848" stroke="#3a9a3a" stroke-width="0.5"/>
<circle cx="321.4" cy="1791.3" r="2.8" fill="#4db848" stroke="#3a9a3a" stroke-width="0.5"/>
<circle cx="366.5" cy="1747.7" r="2.8" fill="#4db848" stroke="#3a9a3a" stroke-width="0.5"/>
<circle cx="398.8" cy="1740.2" r="2.8" fill="#4db848" stroke="#3a9a3a" stroke-width="0.5"/>
<circle cx="431.6" cy="1745.0" r="2.8" fill="#4db848" stroke="#3a9a3a" stroke-width="0.5"/>
<circle cx="460.1" cy="1762.2" r="2.8" fill="#4db848" stroke="#3a9a3a" stroke-width="0.5"/>
<circle cx="482.6" cy="1788.0" r="2.8" fill="#4db848" stroke="#3a9a3a" stroke-width="0.5"/>
<circle cx="502.5" cy="1817.1" r="2.8" fill="#4db848" stroke="#3a9a3a" stroke-width="0.5"/>
<circle cx="531.0" cy="1801.5" r="2.8" fill="#4db848" stroke="#3a9a3a" stroke-width="0.5"/>
<circle cx="532.1" cy="1831.0" r="2.8" fill="#4db848" stroke="#3a9a3a" stroke-width="0.5"/>
<circle cx="486.9" cy="1847.7" r="2.8" fill="#4db848" stroke="#3a9a3a" stroke-width="0.5"/>
<circle cx="471.4" cy="1877.8" r="2.8" fill="#4db848" stroke="#3a9a3a" stroke-width="0.5"/>
<circle cx="444.5" cy="1895.5" r="2.8" fill="#4db848" stroke="#3a9a3a" stroke-width="0.5"/>
<circle cx="470.8" cy="1910.0" r="2.8" fill="#4db848" stroke="#3a9a3a" stroke-width="0.5"/>
<path d="M567.0 1747.7L599.8 1740.2M567.0 1747.7L592.3 1764.4M567.0 1747.7L560.6 1776.2M567.0 1747.7L585.8 1778.4M599.8 1740.2L620.8 1762.2M599.8 1740.2L592.3 1764.4M620.8 1762.2L592.3 1764.4M620.8 1762.2L618.1 1784.3M620.8 1762.2L634.2 1793.4M592.3 1764.4L585.8 1778.4M592.3 1764.4L570.8 1795.6M592.3 1764.4L593.9 1793.9M592.3 1764.4L606.3 1799.9M560.6 1776.2L585.8 1778.4M560.6 1776.2L593.9 1793.9M585.8 1778.4L618.1 1784.3M585.8 1778.4L570.8 1795.6M585.8 1778.4L593.9 1793.9M585.8 1778.4L606.3 1799.9M585.8 1778.4L593.9 1817.1M618.1 1784.3L593.9 1793.9M618.1 1784.3L634.2 1793.4M618.1 1784.3L615.4 1819.2M570.8 1795.6L593.9 1793.9M570.8 1795.6L577.8 1820.3M593.9 1793.9L606.3 1799.9M593.9 1793.9L593.9 1817.1M634.2 1793.4L615.4 1819.2M606.3 1799.9L577.8 1820.3M606.3 1799.9L593.9 1817.1M577.8 1820.3L593.9 1817.1M577.8 1820.3L615.4 1819.2M593.9 1817.1L615.4 1819.2M567.0 1747.7L592.3 1764.4M599.8 1740.2L592.3 1764.4M599.8 1740.2L620.8 1762.2M620.8 1762.2L634.2 1793.4M634.2 1793.4L615.4 1819.2M560.6 1776.2L577.8 1820.3" stroke="#a996d2" stroke-width="0.80" fill="none" opacity="1.00"/>
<circle cx="567.0" cy="1747.7" r="2.8" fill="#7b3fa6"/>
<circle cx="599.8" cy="1740.2" r="2.8" fill="#7b3fa6"/>
<circle cx="620.8" cy="1762.2" r="2.8" fill="#7b3fa6"/>
<circle cx="592.3" cy="1764.4" r="3.8" fill="#7b3fa6"/>
<circle cx="560.6" cy="1776.2" r="2.8" fill="#7b3fa6"/>
<circle cx="585.8" cy="1778.4" r="4.2" fill="#7b3fa6"/>
<circle cx="618.1" cy="1784.3" r="3.2" fill="#7b3fa6"/>
<circle cx="570.8" cy="1795.6" r="2.8" fill="#7b3fa6"/>
<circle cx="593.9" cy="1793.9" r="2.8" fill="#7b3fa6"/>
<circle cx="634.2" cy="1793.4" r="2.8" fill="#7b3fa6"/>
<circle cx="606.3" cy="1799.9" r="2.8" fill="#7b3fa6"/>
<circle cx="577.8" cy="1820.3" r="2.8" fill="#7b3fa6"/>
<circle cx="593.9" cy="1817.1" r="2.8" fill="#7b3fa6"/>
<circle cx="615.4" cy="1819.2" r="2.8" fill="#7b3fa6"/>
<path d="M675.6 1739.7L705.1 1749.3M675.6 1739.7L685.3 1771.4M705.1 1749.3L722.9 1780.5M734.7 1748.3L722.9 1780.5M734.7 1748.3L755.1 1766.5M755.1 1766.5L722.9 1780.5M755.1 1766.5L784.7 1780.5M784.7 1780.5L755.1 1794.5M755.1 1766.5L755.1 1794.5M722.9 1780.5L755.1 1794.5M685.3 1771.4L722.9 1780.5M685.3 1771.4L662.2 1796.1M662.2 1796.1L686.3 1818.1M686.3 1818.1L712.1 1824.0M712.1 1824.0L724.5 1807.9M697.6 1797.7L724.5 1807.9M697.6 1797.7L722.9 1780.5M722.9 1780.5L724.5 1807.9M697.6 1797.7L712.1 1824.0M686.3 1818.1L724.5 1807.9" stroke="#a996d2" stroke-width="0.80" fill="none" opacity="1.00"/>
<circle cx="675.6" cy="1739.7" r="2.8" fill="#e4ee3a" stroke="#c8d020" stroke-width="0.5"/>
<circle cx="705.1" cy="1749.3" r="2.8" fill="#e4ee3a" stroke="#c8d020" stroke-width="0.5"/>
<circle cx="734.7" cy="1748.3" r="2.8" fill="#e4ee3a" stroke="#c8d020" stroke-width="0.5"/>
<circle cx="685.3" cy="1771.4" r="2.8" fill="#e4ee3a" stroke="#c8d020" stroke-width="0.5"/>
<circle cx="722.9" cy="1780.5" r="3.6" fill="#e4ee3a" stroke="#c8d020" stroke-width="0.5"/>
<circle cx="755.1" cy="1766.5" r="2.8" fill="#e4ee3a" stroke="#c8d020" stroke-width="0.5"/>
<circle cx="784.7" cy="1780.5" r="2.8" fill="#e4ee3a" stroke="#c8d020" stroke-width="0.5"/>
<circle cx="755.1" cy="1794.5" r="2.8" fill="#e4ee3a" stroke="#c8d020" stroke-width="0.5"/>
<circle cx="662.2" cy="1796.1" r="2.8" fill="#e4ee3a" stroke="#c8d020" stroke-width="0.5"/>
<circle cx="697.6" cy="1797.7" r="2.8" fill="#e4ee3a" stroke="#c8d020" stroke-width="0.5"/>
<circle cx="724.5" cy="1807.9" r="2.8" fill="#e4ee3a" stroke="#c8d020" stroke-width="0.5"/>
<circle cx="686.3" cy="1818.1" r="2.8" fill="#e4ee3a" stroke="#c8d020" stroke-width="0.5"/>
<circle cx="712.1" cy="1824.0" r="2.8" fill="#e4ee3a" stroke="#c8d020" stroke-width="0.5"/>
<path d="M122.0 1938.5L104.8 1945.0M122.0 1938.5L138.1 1947.7M122.0 1938.5L119.3 1958.4M122.0 1938.5L99.4 1961.6M122.0 1938.5L139.7 1966.5M122.0 1938.5L110.2 1977.2M122.0 1938.5L126.3 1979.9M104.8 1945.0L138.1 1947.7M104.8 1945.0L119.3 1958.4M104.8 1945.0L99.4 1961.6M104.8 1945.0L139.7 1966.5M104.8 1945.0L110.2 1977.2M104.8 1945.0L126.3 1979.9M138.1 1947.7L119.3 1958.4M138.1 1947.7L99.4 1961.6M138.1 1947.7L139.7 1966.5M138.1 1947.7L110.2 1977.2M138.1 1947.7L126.3 1979.9M119.3 1958.4L99.4 1961.6M119.3 1958.4L139.7 1966.5M119.3 1958.4L110.2 1977.2M119.3 1958.4L126.3 1979.9M99.4 1961.6L139.7 1966.5M99.4 1961.6L110.2 1977.2M99.4 1961.6L126.3 1979.9M139.7 1966.5L110.2 1977.2M139.7 1966.5L126.3 1979.9M110.2 1977.2L126.3 1979.9M110.2 1977.2L125.2 2013.2M126.3 1979.9L104.8 2011.6M104.8 2011.6L112.9 2043.9M125.2 2013.2L112.9 2043.9M112.9 2043.9L95.7 2071.3M112.9 2043.9L125.8 2073.4M95.7 2071.3L125.8 2073.4" stroke="#a996d2" stroke-width="0.80" fill="none" opacity="1.00"/>
<circle cx="122.0" cy="1938.5" r="3.4" fill="#f0841e" stroke="#c86a10" stroke-width="0.5"/>
<circle cx="104.8" cy="1945.0" r="3.2" fill="#f0841e" stroke="#c86a10" stroke-width="0.5"/>
<circle cx="138.1" cy="1947.7" r="3.2" fill="#f0841e" stroke="#c86a10" stroke-width="0.5"/>
<circle cx="119.3" cy="1958.4" r="3.2" fill="#f0841e" stroke="#c86a10" stroke-width="0.5"/>
<circle cx="99.4" cy="1961.6" r="3.2" fill="#f0841e" stroke="#c86a10" stroke-width="0.5"/>
<circle cx="139.7" cy="1966.5" r="3.2" fill="#f0841e" stroke="#c86a10" stroke-width="0.5"/>
<circle cx="110.2" cy="1977.2" r="3.4" fill="#f0841e" stroke="#c86a10" stroke-width="0.5"/>
<circle cx="126.3" cy="1979.9" r="3.4" fill="#f0841e" stroke="#c86a10" stroke-width="0.5"/>
<circle cx="104.8" cy="2011.6" r="2.6" fill="#f0841e" stroke="#c86a10" stroke-width="0.5"/>
<circle cx="125.2" cy="2013.2" r="2.6" fill="#f0841e" stroke="#c86a10" stroke-width="0.5"/>
<circle cx="112.9" cy="2043.9" r="2.6" fill="#f0841e" stroke="#c86a10" stroke-width="0.5"/>
<circle cx="95.7" cy="2071.3" r="2.6" fill="#f0841e" stroke="#c86a10" stroke-width="0.5"/>
<circle cx="125.8" cy="2073.4" r="2.6" fill="#f0841e" stroke="#c86a10" stroke-width="0.5"/>
<path d="M231.6 1938.0L208.5 1948.7M231.6 1938.0L242.9 1961.1M208.5 1948.7L242.9 1961.1M208.5 1948.7L218.2 1975.6M242.9 1961.1L218.2 1975.6M231.6 1938.0L218.2 1975.6M218.2 1975.6L195.1 2003.0M218.2 1975.6L215.0 2011.6M195.1 2003.0L177.4 2010.0M195.1 2003.0L215.0 2011.6M195.1 2003.0L196.2 2021.8M195.1 2003.0L167.7 2030.4M195.1 2003.0L180.0 2034.7M195.1 2003.0L209.6 2033.6M195.1 2003.0L195.1 2045.5M177.4 2010.0L215.0 2011.6M177.4 2010.0L196.2 2021.8M177.4 2010.0L167.7 2030.4M177.4 2010.0L180.0 2034.7M177.4 2010.0L209.6 2033.6M177.4 2010.0L195.1 2045.5M215.0 2011.6L196.2 2021.8M215.0 2011.6L180.0 2034.7M215.0 2011.6L209.6 2033.6M215.0 2011.6L195.1 2045.5M196.2 2021.8L167.7 2030.4M196.2 2021.8L180.0 2034.7M196.2 2021.8L209.6 2033.6M196.2 2021.8L195.1 2045.5M167.7 2030.4L180.0 2034.7M167.7 2030.4L209.6 2033.6M167.7 2030.4L195.1 2045.5M180.0 2034.7L209.6 2033.6M180.0 2034.7L195.1 2045.5M209.6 2033.6L195.1 2045.5" stroke="#a996d2" stroke-width="0.80" fill="none" opacity="1.00"/>
<circle cx="231.6" cy="1938.0" r="2.8" fill="#a0522d" stroke="#7a3a1a" stroke-width="0.5"/>
<circle cx="208.5" cy="1948.7" r="2.8" fill="#a0522d" stroke="#7a3a1a" stroke-width="0.5"/>
<circle cx="242.9" cy="1961.1" r="2.8" fill="#a0522d" stroke="#7a3a1a" stroke-width="0.5"/>
<circle cx="218.2" cy="1975.6" r="2.8" fill="#a0522d" stroke="#7a3a1a" stroke-width="0.5"/>
<circle cx="195.1" cy="2003.0" r="3.4" fill="#a0522d" stroke="#7a3a1a" stroke-width="0.5"/>
<circle cx="177.4" cy="2010.0" r="3.2" fill="#a0522d" stroke="#7a3a1a" stroke-width="0.5"/>
<circle cx="215.0" cy="2011.6" r="3.2" fill="#a0522d" stroke="#7a3a1a" stroke-width="0.5"/>
<circle cx="196.2" cy="2021.8" r="3.4" fill="#a0522d" stroke="#7a3a1a" stroke-width="0.5"/>
<circle cx="167.7" cy="2030.4" r="2.8" fill="#a0522d" stroke="#7a3a1a" stroke-width="0.5"/>
<circle cx="180.0" cy="2034.7" r="2.8" fill="#a0522d" stroke="#7a3a1a" stroke-width="0.5"/>
<circle cx="209.6" cy="2033.6" r="3.2" fill="#a0522d" stroke="#7a3a1a" stroke-width="0.5"/>
<circle cx="195.1" cy="2045.5" r="3.2" fill="#a0522d" stroke="#7a3a1a" stroke-width="0.5"/>
<path d="M270.9 1938.0L278.4 1967.5M270.9 1938.0L302.1 1945.5M278.4 1967.5L302.1 1945.5M302.1 1945.5L334.3 1940.7M334.3 1940.7L367.6 1939.6M367.6 1939.6L400.4 1941.7M400.4 1941.7L433.7 1946.6M433.7 1946.6L467.1 1954.1M467.1 1954.1L490.7 1942.3M467.1 1954.1L503.6 1963.8M467.1 1954.1L481.6 1976.7M490.7 1942.3L503.6 1963.8M490.7 1942.3L481.6 1976.7M503.6 1963.8L481.6 1976.7" stroke="#a996d2" stroke-width="0.80" fill="none" opacity="1.00"/>
<circle cx="270.9" cy="1938.0" r="2.8" fill="#e266d2" stroke="#c048b0" stroke-width="0.5"/>
<circle cx="278.4" cy="1967.5" r="2.8" fill="#e266d2" stroke="#c048b0" stroke-width="0.5"/>
<circle cx="302.1" cy="1945.5" r="2.8" fill="#e266d2" stroke="#c048b0" stroke-width="0.5"/>
<circle cx="334.3" cy="1940.7" r="2.8" fill="#e266d2" stroke="#c048b0" stroke-width="0.5"/>
<circle cx="367.6" cy="1939.6" r="2.8" fill="#e266d2" stroke="#c048b0" stroke-width="0.5"/>
<circle cx="400.4" cy="1941.7" r="2.8" fill="#e266d2" stroke="#c048b0" stroke-width="0.5"/>
<circle cx="433.7" cy="1946.6" r="2.8" fill="#e266d2" stroke="#c048b0" stroke-width="0.5"/>
<circle cx="467.1" cy="1954.1" r="2.8" fill="#e266d2" stroke="#c048b0" stroke-width="0.5"/>
<circle cx="490.7" cy="1942.3" r="2.8" fill="#e266d2" stroke="#c048b0" stroke-width="0.5"/>
<circle cx="503.6" cy="1963.8" r="2.8" fill="#e266d2" stroke="#c048b0" stroke-width="0.5"/>
<circle cx="481.6" cy="1976.7" r="2.8" fill="#e266d2" stroke="#c048b0" stroke-width="0.5"/>
<path d="M581.0 1938.0L613.8 1940.7M581.0 1938.0L563.3 1966.5M613.8 1940.7L615.4 1974.0M563.3 1966.5L588.5 1976.1M588.5 1976.1L615.4 1974.0M532.6 1975.1L563.3 1966.5M532.6 1975.1L557.3 1993.9M563.3 1966.5L557.3 1993.9M557.3 1993.9L585.8 1997.6M588.5 1976.1L585.8 1997.6M588.5 1976.1L557.3 1993.9M563.3 1966.5L585.8 1997.6M615.4 1974.0L613.2 2001.4M588.5 1976.1L613.2 2001.4M615.4 1974.0L585.8 1997.6" stroke="#a996d2" stroke-width="0.80" fill="none" opacity="1.00"/>
<circle cx="581.0" cy="1938.0" r="2.8" fill="#7f8c96" stroke="#66727c" stroke-width="0.5"/>
<circle cx="613.8" cy="1940.7" r="2.8" fill="#7f8c96" stroke="#66727c" stroke-width="0.5"/>
<circle cx="563.3" cy="1966.5" r="2.8" fill="#7f8c96" stroke="#66727c" stroke-width="0.5"/>
<circle cx="588.5" cy="1976.1" r="2.8" fill="#7f8c96" stroke="#66727c" stroke-width="0.5"/>
<circle cx="615.4" cy="1974.0" r="2.8" fill="#7f8c96" stroke="#66727c" stroke-width="0.5"/>
<circle cx="532.6" cy="1975.1" r="2.8" fill="#7f8c96" stroke="#66727c" stroke-width="0.5"/>
<circle cx="557.3" cy="1993.9" r="2.8" fill="#7f8c96" stroke="#66727c" stroke-width="0.5"/>
<circle cx="585.8" cy="1997.6" r="2.8" fill="#7f8c96" stroke="#66727c" stroke-width="0.5"/>
<circle cx="613.2" cy="2001.4" r="2.8" fill="#7f8c96" stroke="#66727c" stroke-width="0.5"/>
<path d="M678.3 1938.0L698.2 1946.6M678.3 1938.0L662.7 1955.7M678.3 1938.0L697.1 1969.2M678.3 1938.0L675.1 1974.0M698.2 1946.6L662.7 1955.7M698.2 1946.6L697.1 1969.2M698.2 1946.6L675.1 1974.0M662.7 1955.7L697.1 1969.2M662.7 1955.7L675.1 1974.0M697.1 1969.2L675.1 1974.0M643.9 1980.4L662.7 1955.7M643.9 1980.4L675.1 1974.0" stroke="#a996d2" stroke-width="0.80" fill="none" opacity="1.00"/>
<circle cx="678.3" cy="1938.0" r="2.8" fill="#86d8c4" stroke="#60b8a4" stroke-width="0.5"/>
<circle cx="698.2" cy="1946.6" r="2.8" fill="#86d8c4" stroke="#60b8a4" stroke-width="0.5"/>
<circle cx="662.7" cy="1955.7" r="2.8" fill="#86d8c4" stroke="#60b8a4" stroke-width="0.5"/>
<circle cx="697.1" cy="1969.2" r="2.8" fill="#86d8c4" stroke="#60b8a4" stroke-width="0.5"/>
<circle cx="675.1" cy="1974.0" r="2.8" fill="#86d8c4" stroke="#60b8a4" stroke-width="0.5"/>
<circle cx="643.9" cy="1980.4" r="2.8" fill="#86d8c4" stroke="#60b8a4" stroke-width="0.5"/>
<path d="M125.8 2102.4L109.6 2113.7M109.6 2113.7L95.1 2119.1M125.8 2102.4L127.9 2133.6M109.6 2113.7L127.9 2133.6M95.1 2119.1L127.9 2133.6M95.1 2119.1L101.0 2147.1M127.9 2133.6L101.0 2147.1M109.6 2113.7L101.0 2147.1" stroke="#a996d2" stroke-width="0.80" fill="none" opacity="1.00"/>
<circle cx="125.8" cy="2102.4" r="2.6" fill="#e9f7a8" stroke="#c8dc80" stroke-width="0.5"/>
<circle cx="109.6" cy="2113.7" r="2.6" fill="#e9f7a8" stroke="#c8dc80" stroke-width="0.5"/>
<circle cx="95.1" cy="2119.1" r="2.6" fill="#e9f7a8" stroke="#c8dc80" stroke-width="0.5"/>
<circle cx="127.9" cy="2133.6" r="2.6" fill="#e9f7a8" stroke="#c8dc80" stroke-width="0.5"/>
<circle cx="101.0" cy="2147.1" r="2.6" fill="#e9f7a8" stroke="#c8dc80" stroke-width="0.5"/>
<path d="M156.4 2103.5L187.0 2102.4M156.4 2103.5L173.6 2128.8M187.0 2102.4L173.6 2128.8M187.0 2102.4L204.2 2127.7M173.6 2128.8L204.2 2127.7" stroke="#a996d2" stroke-width="0.80" fill="none" opacity="1.00"/>
<circle cx="156.4" cy="2103.5" r="2.6" fill="#a8b2da" stroke="#8892c0" stroke-width="0.5"/>
<circle cx="187.0" cy="2102.4" r="2.6" fill="#a8b2da" stroke="#8892c0" stroke-width="0.5"/>
<circle cx="173.6" cy="2128.8" r="2.6" fill="#a8b2da" stroke="#8892c0" stroke-width="0.5"/>
<circle cx="204.2" cy="2127.7" r="2.6" fill="#a8b2da" stroke="#8892c0" stroke-width="0.5"/>
<path d="M232.7 2102.4L262.8 2106.7M262.8 2106.7L244.5 2130.4M232.7 2102.4L244.5 2130.4" stroke="#a996d2" stroke-width="0.80" fill="none" opacity="1.00"/>
<circle cx="232.7" cy="2102.4" r="2.6" fill="#9be04a" stroke="#78c030" stroke-width="0.5"/>
<circle cx="262.8" cy="2106.7" r="2.6" fill="#9be04a" stroke="#78c030" stroke-width="0.5"/>
<circle cx="244.5" cy="2130.4" r="2.6" fill="#9be04a" stroke="#78c030" stroke-width="0.5"/>
<path d="M291.8 2102.4L321.9 2105.1M321.9 2105.1L304.2 2129.9M291.8 2102.4L304.2 2129.9" stroke="#a996d2" stroke-width="0.80" fill="none" opacity="1.00"/>
<circle cx="291.8" cy="2102.4" r="2.6" fill="#f2a444" stroke="#d08428" stroke-width="0.5"/>
<circle cx="321.9" cy="2105.1" r="2.6" fill="#f2a444" stroke="#d08428" stroke-width="0.5"/>
<circle cx="304.2" cy="2129.9" r="2.6" fill="#f2a444" stroke="#d08428" stroke-width="0.5"/>
<path d="M350.4 2102.4L380.5 2107.8M380.5 2107.8L360.1 2130.9M350.4 2102.4L360.1 2130.9" stroke="#a996d2" stroke-width="0.80" fill="none" opacity="1.00"/>
<circle cx="350.4" cy="2102.4" r="2.6" fill="#5ea8d8" stroke="#4088b8" stroke-width="0.5"/>
<circle cx="380.5" cy="2107.8" r="2.6" fill="#5ea8d8" stroke="#4088b8" stroke-width="0.5"/>
<circle cx="360.1" cy="2130.9" r="2.6" fill="#5ea8d8" stroke="#4088b8" stroke-width="0.5"/>
<path d="M409.0 2102.4L439.1 2107.8M439.1 2107.8L419.2 2130.9M409.0 2102.4L419.2 2130.9" stroke="#a996d2" stroke-width="0.80" fill="none" opacity="1.00"/>
<circle cx="409.0" cy="2102.4" r="2.6" fill="#f0523e" stroke="#c83a2a" stroke-width="0.5"/>
<circle cx="439.1" cy="2107.8" r="2.6" fill="#f0523e" stroke="#c83a2a" stroke-width="0.5"/>
<circle cx="419.2" cy="2130.9" r="2.6" fill="#f0523e" stroke="#c83a2a" stroke-width="0.5"/>
<rect x="94.8" y="2208.5" width="51.600" height="29.3" fill="#e8272a"/>
<text x="182.6" y="2231.2" font-size="30.6" word-spacing="-2.6">Cytoplasmic translation</text>
<rect x="94.8" y="2255.7" width="51.600" height="28.6" fill="#4a86bf"/>
<text x="182.6" y="2280.6" font-size="30.6" word-spacing="-1.5">Structural constituent of chromatin</text>
<rect x="94.8" y="2300.0" width="51.600" height="28.6" fill="#5ab84a"/>
<text x="182.6" y="2325.6" font-size="30.6" word-spacing="0.0">Adherens junction</text>
</g>
</svg>
</body>
</html>
